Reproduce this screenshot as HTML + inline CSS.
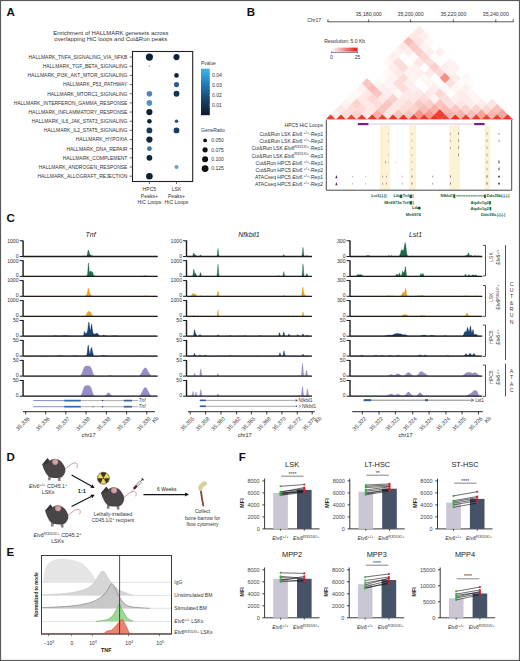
<!DOCTYPE html>
<html><head><meta charset="utf-8"><style>
html,body{margin:0;padding:0;background:#fff;}
svg{display:block;font-family:"Liberation Sans", sans-serif;}
</style></head><body>
<svg width="520" height="661" viewBox="0 0 520 661" font-family='"Liberation Sans", sans-serif'>
<rect x="0" y="0" width="520" height="661" fill="#fff"/>
<text x="6.60" y="16.00" font-size="11.5" fill="#111" font-weight="bold">A</text>
<text x="246.80" y="16.20" font-size="11.5" fill="#111" font-weight="bold">B</text>
<text x="6.40" y="222.00" font-size="11.5" fill="#111" font-weight="bold">C</text>
<text x="6.60" y="461.40" font-size="11.5" fill="#111" font-weight="bold">D</text>
<text x="6.60" y="556.20" font-size="11.5" fill="#111" font-weight="bold">E</text>
<text x="238.80" y="461.40" font-size="11.5" fill="#111" font-weight="bold">F</text>
<text x="110.80" y="34.60" font-size="5.95" text-anchor="middle" fill="#333">Enrichment of HALLMARK genesets across</text>
<text x="110.80" y="41.40" font-size="5.95" text-anchor="middle" fill="#333">overlapping HiC loops and Cut&amp;Run peaks</text>
<text x="127.40" y="58.90" font-size="4.98" text-anchor="end" fill="#333">HALLMARK_TNFA_SIGNALING_VIA_NFKB</text>
<line x1="129.60" y1="57.10" x2="132.50" y2="57.10" stroke="#333" stroke-width="0.7" />
<text x="127.40" y="68.06" font-size="4.98" text-anchor="end" fill="#333">HALLMARK_TGF_BETA_SIGNALING</text>
<line x1="129.60" y1="66.26" x2="132.50" y2="66.26" stroke="#333" stroke-width="0.7" />
<text x="127.40" y="77.22" font-size="4.98" text-anchor="end" fill="#333">HALLMARK_PI3K_AKT_MTOR_SIGNALING</text>
<line x1="129.60" y1="75.42" x2="132.50" y2="75.42" stroke="#333" stroke-width="0.7" />
<text x="127.40" y="86.38" font-size="4.98" text-anchor="end" fill="#333">HALLMARK_P53_PATHWAY</text>
<line x1="129.60" y1="84.58" x2="132.50" y2="84.58" stroke="#333" stroke-width="0.7" />
<text x="127.40" y="95.54" font-size="4.98" text-anchor="end" fill="#333">HALLMARK_MTORC1_SIGNALING</text>
<line x1="129.60" y1="93.74" x2="132.50" y2="93.74" stroke="#333" stroke-width="0.7" />
<text x="127.40" y="104.70" font-size="4.98" text-anchor="end" fill="#333">HALLMARK_INTERFERON_GAMMA_RESPONSE</text>
<line x1="129.60" y1="102.90" x2="132.50" y2="102.90" stroke="#333" stroke-width="0.7" />
<text x="127.40" y="113.86" font-size="4.98" text-anchor="end" fill="#333">HALLMARK_INFLAMMATORY_RESPONSE</text>
<line x1="129.60" y1="112.06" x2="132.50" y2="112.06" stroke="#333" stroke-width="0.7" />
<text x="127.40" y="123.02" font-size="4.98" text-anchor="end" fill="#333">HALLMARK_IL6_JAK_STAT3_SIGNALING</text>
<line x1="129.60" y1="121.22" x2="132.50" y2="121.22" stroke="#333" stroke-width="0.7" />
<text x="127.40" y="132.18" font-size="4.98" text-anchor="end" fill="#333">HALLMARK_IL2_STAT5_SIGNALING</text>
<line x1="129.60" y1="130.38" x2="132.50" y2="130.38" stroke="#333" stroke-width="0.7" />
<text x="127.40" y="141.34" font-size="4.98" text-anchor="end" fill="#333">HALLMARK_HYPOXIA</text>
<line x1="129.60" y1="139.54" x2="132.50" y2="139.54" stroke="#333" stroke-width="0.7" />
<text x="127.40" y="150.50" font-size="4.98" text-anchor="end" fill="#333">HALLMARK_DNA_REPAIR</text>
<line x1="129.60" y1="148.70" x2="132.50" y2="148.70" stroke="#333" stroke-width="0.7" />
<text x="127.40" y="159.66" font-size="4.98" text-anchor="end" fill="#333">HALLMARK_COMPLEMENT</text>
<line x1="129.60" y1="157.86" x2="132.50" y2="157.86" stroke="#333" stroke-width="0.7" />
<text x="127.40" y="168.82" font-size="4.98" text-anchor="end" fill="#333">HALLMARK_ANDROGEN_RESPONSE</text>
<line x1="129.60" y1="167.02" x2="132.50" y2="167.02" stroke="#333" stroke-width="0.7" />
<text x="127.40" y="177.98" font-size="4.98" text-anchor="end" fill="#333">HALLMARK_ALLOGRAFT_REJECTION</text>
<line x1="129.60" y1="176.18" x2="132.50" y2="176.18" stroke="#333" stroke-width="0.7" />
<rect x="132.50" y="51.50" width="60.20" height="130.00" fill="none" stroke="#222" stroke-width="1.1" />
<line x1="149.40" y1="181.50" x2="149.40" y2="184.10" stroke="#333" stroke-width="0.7" />
<line x1="176.50" y1="181.50" x2="176.50" y2="184.10" stroke="#333" stroke-width="0.7" />
<text x="149.40" y="191.40" font-size="5.1" text-anchor="middle" fill="#333">HPC5</text>
<text x="149.40" y="197.90" font-size="5.1" text-anchor="middle" fill="#333">Peaks+</text>
<text x="149.40" y="204.40" font-size="5.1" text-anchor="middle" fill="#333">HiC Loops</text>
<text x="176.50" y="191.40" font-size="5.1" text-anchor="middle" fill="#333">LSK</text>
<text x="176.50" y="197.90" font-size="5.1" text-anchor="middle" fill="#333">Peaks+</text>
<text x="176.50" y="204.40" font-size="5.1" text-anchor="middle" fill="#333">HiC Loops</text>
<circle cx="149.40" cy="57.10" r="3.60" fill="#0e2236" />
<circle cx="176.50" cy="57.10" r="3.10" fill="#10263c" />
<circle cx="149.40" cy="66.26" r="0.80" fill="#8aa6bd" />
<circle cx="176.50" cy="75.42" r="2.30" fill="#0f2439" />
<circle cx="176.50" cy="84.58" r="2.60" fill="#2f5f8a" />
<circle cx="149.40" cy="93.74" r="2.80" fill="#4a86b8" />
<circle cx="176.50" cy="93.74" r="2.90" fill="#123352" />
<circle cx="149.40" cy="102.90" r="2.80" fill="#4e94c4" />
<circle cx="149.40" cy="112.06" r="3.10" fill="#0d1f33" />
<circle cx="149.40" cy="121.22" r="2.30" fill="#0e2135" />
<circle cx="176.50" cy="121.22" r="1.80" fill="#2d5678" />
<circle cx="149.40" cy="130.38" r="2.90" fill="#163a5c" />
<circle cx="176.50" cy="130.38" r="2.90" fill="#173b5e" />
<circle cx="149.40" cy="139.54" r="3.10" fill="#10263d" />
<circle cx="149.40" cy="148.70" r="2.40" fill="#3f77a6" />
<circle cx="149.40" cy="157.86" r="2.90" fill="#0f253c" />
<circle cx="176.50" cy="167.02" r="2.00" fill="#5aa2d2" />
<circle cx="149.40" cy="176.18" r="3.30" fill="#0d2034" />
<text x="201.10" y="65.20" font-size="4.8" fill="#333">Pvalue</text>
<defs><linearGradient id="pg" x1="0" y1="0" x2="0" y2="1"><stop offset="0" stop-color="#3cb8ec"/><stop offset="0.35" stop-color="#1f7ab0"/><stop offset="0.7" stop-color="#163f64"/><stop offset="1" stop-color="#0b1a2b"/></linearGradient></defs>
<rect x="201.00" y="68.60" width="8.80" height="46.60" fill="url(#pg)" stroke="none" stroke-width="1" />
<line x1="209.00" y1="74.90" x2="209.80" y2="74.90" stroke="#fff" stroke-width="0.5" />
<text x="212.00" y="76.70" font-size="5.0" fill="#333">0.04</text>
<line x1="209.00" y1="85.20" x2="209.80" y2="85.20" stroke="#fff" stroke-width="0.5" />
<text x="212.00" y="87.00" font-size="5.0" fill="#333">0.03</text>
<line x1="209.00" y1="95.30" x2="209.80" y2="95.30" stroke="#fff" stroke-width="0.5" />
<text x="212.00" y="97.10" font-size="5.0" fill="#333">0.02</text>
<line x1="209.00" y1="105.30" x2="209.80" y2="105.30" stroke="#fff" stroke-width="0.5" />
<text x="212.00" y="107.10" font-size="5.0" fill="#333">0.01</text>
<text x="201.10" y="132.20" font-size="4.95" fill="#333">GeneRatio</text>
<circle cx="205.10" cy="140.40" r="1.90" fill="#111" />
<text x="211.30" y="142.20" font-size="5.0" fill="#333">0.050</text>
<circle cx="205.10" cy="149.80" r="2.60" fill="#111" />
<text x="211.30" y="151.60" font-size="5.0" fill="#333">0.075</text>
<circle cx="205.10" cy="159.20" r="3.00" fill="#111" />
<text x="211.30" y="161.00" font-size="5.0" fill="#333">0.100</text>
<circle cx="205.10" cy="168.60" r="3.40" fill="#111" />
<text x="211.30" y="170.40" font-size="5.0" fill="#333">0.125</text>
<text x="307.30" y="21.90" font-size="5.1" fill="#333">Chr17</text>
<line x1="327.90" y1="21.80" x2="513.20" y2="21.80" stroke="#333" stroke-width="0.8" />
<line x1="327.90" y1="19.20" x2="327.90" y2="22.20" stroke="#333" stroke-width="0.8" />
<line x1="513.20" y1="19.20" x2="513.20" y2="22.20" stroke="#333" stroke-width="0.8" />
<line x1="368.70" y1="19.40" x2="368.70" y2="22.20" stroke="#333" stroke-width="0.8" />
<text x="368.70" y="16.00" font-size="5.2" text-anchor="middle" fill="#333">35,180,000</text>
<line x1="410.60" y1="19.40" x2="410.60" y2="22.20" stroke="#333" stroke-width="0.8" />
<text x="410.60" y="16.00" font-size="5.2" text-anchor="middle" fill="#333">35,200,000</text>
<line x1="453.40" y1="19.40" x2="453.40" y2="22.20" stroke="#333" stroke-width="0.8" />
<text x="453.40" y="16.00" font-size="5.2" text-anchor="middle" fill="#333">35,220,000</text>
<line x1="495.80" y1="19.40" x2="495.80" y2="22.20" stroke="#333" stroke-width="0.8" />
<text x="495.80" y="16.00" font-size="5.2" text-anchor="middle" fill="#333">35,240,000</text>
<clipPath id="hc"><rect x="326.5" y="20" width="186.5" height="100"/></clipPath><g clip-path="url(#hc)">
<path d="M325.60,119.60L330.80,114.40L336.00,119.60Z" fill="#ef3b29" stroke="#ef3b29" stroke-width="0.35" />
<path d="M330.80,114.40L336.00,109.20L341.20,114.40L336.00,119.60Z" fill="#fdefed" stroke="#fdefed" stroke-width="0.35" />
<path d="M336.00,109.20L341.20,104.00L346.40,109.20L341.20,114.40Z" fill="#fde8e6" stroke="#fde8e6" stroke-width="0.35" />
<path d="M341.20,104.00L346.40,98.80L351.60,104.00L346.40,109.20Z" fill="#fef3f2" stroke="#fef3f2" stroke-width="0.35" />
<path d="M346.40,98.80L351.60,93.60L356.80,98.80L351.60,104.00Z" fill="#fef8f7" stroke="#fef8f7" stroke-width="0.35" />
<path d="M351.60,93.60L356.80,88.40L362.00,93.60L356.80,98.80Z" fill="#fef8f7" stroke="#fef8f7" stroke-width="0.35" />
<path d="M356.80,88.40L362.00,83.20L367.20,88.40L362.00,93.60Z" fill="#fef3f2" stroke="#fef3f2" stroke-width="0.35" />
<path d="M362.00,83.20L367.20,78.00L372.40,83.20L367.20,88.40Z" fill="#fac6c1" stroke="#fac6c1" stroke-width="0.35" />
<path d="M367.20,78.00L372.40,72.80L377.60,78.00L372.40,83.20Z" fill="#ffffff" stroke="#ffffff" stroke-width="0.35" />
<path d="M372.40,72.80L377.60,67.60L382.80,72.80L377.60,78.00Z" fill="#ffffff" stroke="#ffffff" stroke-width="0.35" />
<path d="M377.60,67.60L382.80,62.40L388.00,67.60L382.80,72.80Z" fill="#ffffff" stroke="#ffffff" stroke-width="0.35" />
<path d="M382.80,62.40L388.00,57.20L393.20,62.40L388.00,67.60Z" fill="#fef8f7" stroke="#fef8f7" stroke-width="0.35" />
<path d="M388.00,57.20L393.20,52.00L398.40,57.20L393.20,62.40Z" fill="#fdefed" stroke="#fdefed" stroke-width="0.35" />
<path d="M393.20,52.00L398.40,46.80L403.60,52.00L398.40,57.20Z" fill="#fef3f2" stroke="#fef3f2" stroke-width="0.35" />
<path d="M398.40,46.80L403.60,41.60L408.80,46.80L403.60,52.00Z" fill="#fdeae8" stroke="#fdeae8" stroke-width="0.35" />
<path d="M403.60,41.60L408.80,36.40L414.00,41.60L408.80,46.80Z" fill="#f9bdb7" stroke="#f9bdb7" stroke-width="0.35" />
<path d="M408.80,36.40L414.00,31.20L419.20,36.40L414.00,41.60Z" fill="#fde8e6" stroke="#fde8e6" stroke-width="0.35" />
<path d="M414.00,31.20L419.20,26.00L424.40,31.20L419.20,36.40Z" fill="#fdeae8" stroke="#fdeae8" stroke-width="0.35" />
<path d="M336.00,119.60L341.20,114.40L346.40,119.60Z" fill="#ef3725" stroke="#ef3725" stroke-width="0.35" />
<path d="M341.20,114.40L346.40,109.20L351.60,114.40L346.40,119.60Z" fill="#fcddda" stroke="#fcddda" stroke-width="0.35" />
<path d="M346.40,109.20L351.60,104.00L356.80,109.20L351.60,114.40Z" fill="#fcddda" stroke="#fcddda" stroke-width="0.35" />
<path d="M351.60,104.00L356.80,98.80L362.00,104.00L356.80,109.20Z" fill="#fbd2cd" stroke="#fbd2cd" stroke-width="0.35" />
<path d="M356.80,98.80L362.00,93.60L367.20,98.80L362.00,104.00Z" fill="#fde8e6" stroke="#fde8e6" stroke-width="0.35" />
<path d="M362.00,93.60L367.20,88.40L372.40,93.60L367.20,98.80Z" fill="#fde8e6" stroke="#fde8e6" stroke-width="0.35" />
<path d="M367.20,88.40L372.40,83.20L377.60,88.40L372.40,93.60Z" fill="#f9bbb5" stroke="#f9bbb5" stroke-width="0.35" />
<path d="M372.40,83.20L377.60,78.00L382.80,83.20L377.60,88.40Z" fill="#fef8f7" stroke="#fef8f7" stroke-width="0.35" />
<path d="M377.60,78.00L382.80,72.80L388.00,78.00L382.80,83.20Z" fill="#fefcfc" stroke="#fefcfc" stroke-width="0.35" />
<path d="M382.80,72.80L388.00,67.60L393.20,72.80L388.00,78.00Z" fill="#fef8f7" stroke="#fef8f7" stroke-width="0.35" />
<path d="M388.00,67.60L393.20,62.40L398.40,67.60L393.20,72.80Z" fill="#fdefed" stroke="#fdefed" stroke-width="0.35" />
<path d="M393.20,62.40L398.40,57.20L403.60,62.40L398.40,67.60Z" fill="#fcddda" stroke="#fcddda" stroke-width="0.35" />
<path d="M403.60,52.00L408.80,46.80L414.00,52.00L408.80,57.20Z" fill="#fdf0ef" stroke="#fdf0ef" stroke-width="0.35" />
<path d="M408.80,46.80L414.00,41.60L419.20,46.80L414.00,52.00Z" fill="#facbc6" stroke="#facbc6" stroke-width="0.35" />
<path d="M414.00,41.60L419.20,36.40L424.40,41.60L419.20,46.80Z" fill="#fde6e4" stroke="#fde6e4" stroke-width="0.35" />
<path d="M419.20,36.40L424.40,31.20L429.60,36.40L424.40,41.60Z" fill="#fdefed" stroke="#fdefed" stroke-width="0.35" />
<path d="M346.40,119.60L351.60,114.40L356.80,119.60Z" fill="#f04331" stroke="#f04331" stroke-width="0.35" />
<path d="M351.60,114.40L356.80,109.20L362.00,114.40L356.80,119.60Z" fill="#fbd2cd" stroke="#fbd2cd" stroke-width="0.35" />
<path d="M356.80,109.20L362.00,104.00L367.20,109.20L362.00,114.40Z" fill="#fcddda" stroke="#fcddda" stroke-width="0.35" />
<path d="M362.00,104.00L367.20,98.80L372.40,104.00L367.20,109.20Z" fill="#fde8e6" stroke="#fde8e6" stroke-width="0.35" />
<path d="M367.20,98.80L372.40,93.60L377.60,98.80L372.40,104.00Z" fill="#fbd8d5" stroke="#fbd8d5" stroke-width="0.35" />
<path d="M372.40,93.60L377.60,88.40L382.80,93.60L377.60,98.80Z" fill="#fac6c1" stroke="#fac6c1" stroke-width="0.35" />
<path d="M377.60,88.40L382.80,83.20L388.00,88.40L382.80,93.60Z" fill="#fdefed" stroke="#fdefed" stroke-width="0.35" />
<path d="M382.80,83.20L388.00,78.00L393.20,83.20L388.00,88.40Z" fill="#fef3f2" stroke="#fef3f2" stroke-width="0.35" />
<path d="M388.00,78.00L393.20,72.80L398.40,78.00L393.20,83.20Z" fill="#fef3f2" stroke="#fef3f2" stroke-width="0.35" />
<path d="M393.20,72.80L398.40,67.60L403.60,72.80L398.40,78.00Z" fill="#fde8e6" stroke="#fde8e6" stroke-width="0.35" />
<path d="M398.40,67.60L403.60,62.40L408.80,67.60L403.60,72.80Z" fill="#fcddda" stroke="#fcddda" stroke-width="0.35" />
<path d="M403.60,62.40L408.80,57.20L414.00,62.40L408.80,67.60Z" fill="#ffffff" stroke="#ffffff" stroke-width="0.35" />
<path d="M408.80,57.20L414.00,52.00L419.20,57.20L414.00,62.40Z" fill="#fefbfa" stroke="#fefbfa" stroke-width="0.35" />
<path d="M414.00,52.00L419.20,46.80L424.40,52.00L419.20,57.20Z" fill="#fbcfcb" stroke="#fbcfcb" stroke-width="0.35" />
<path d="M419.20,46.80L424.40,41.60L429.60,46.80L424.40,52.00Z" fill="#fef3f2" stroke="#fef3f2" stroke-width="0.35" />
<path d="M424.40,41.60L429.60,36.40L434.80,41.60L429.60,46.80Z" fill="#fefaf9" stroke="#fefaf9" stroke-width="0.35" />
<path d="M356.80,119.60L362.00,114.40L367.20,119.60Z" fill="#ef3725" stroke="#ef3725" stroke-width="0.35" />
<path d="M362.00,114.40L367.20,109.20L372.40,114.40L367.20,119.60Z" fill="#fde8e6" stroke="#fde8e6" stroke-width="0.35" />
<path d="M367.20,109.20L372.40,104.00L377.60,109.20L372.40,114.40Z" fill="#fde8e6" stroke="#fde8e6" stroke-width="0.35" />
<path d="M372.40,104.00L377.60,98.80L382.80,104.00L377.60,109.20Z" fill="#fcddda" stroke="#fcddda" stroke-width="0.35" />
<path d="M377.60,98.80L382.80,93.60L388.00,98.80L382.80,104.00Z" fill="#fde8e6" stroke="#fde8e6" stroke-width="0.35" />
<path d="M382.80,93.60L388.00,88.40L393.20,93.60L388.00,98.80Z" fill="#fdefed" stroke="#fdefed" stroke-width="0.35" />
<path d="M388.00,88.40L393.20,83.20L398.40,88.40L393.20,93.60Z" fill="#fef3f2" stroke="#fef3f2" stroke-width="0.35" />
<path d="M393.20,83.20L398.40,78.00L403.60,83.20L398.40,88.40Z" fill="#fcddda" stroke="#fcddda" stroke-width="0.35" />
<path d="M398.40,78.00L403.60,72.80L408.80,78.00L403.60,83.20Z" fill="#fcddda" stroke="#fcddda" stroke-width="0.35" />
<path d="M403.60,72.80L408.80,67.60L414.00,72.80L408.80,78.00Z" fill="#fef3f2" stroke="#fef3f2" stroke-width="0.35" />
<path d="M408.80,67.60L414.00,62.40L419.20,67.60L414.00,72.80Z" fill="#fef3f2" stroke="#fef3f2" stroke-width="0.35" />
<path d="M414.00,62.40L419.20,57.20L424.40,62.40L419.20,67.60Z" fill="#fde6e4" stroke="#fde6e4" stroke-width="0.35" />
<path d="M419.20,57.20L424.40,52.00L429.60,57.20L424.40,62.40Z" fill="#fbd4d0" stroke="#fbd4d0" stroke-width="0.35" />
<path d="M424.40,52.00L429.60,46.80L434.80,52.00L429.60,57.20Z" fill="#fdf0ef" stroke="#fdf0ef" stroke-width="0.35" />
<path d="M367.20,119.60L372.40,114.40L377.60,119.60Z" fill="#ee3523" stroke="#ee3523" stroke-width="0.35" />
<path d="M372.40,114.40L377.60,109.20L382.80,114.40L377.60,119.60Z" fill="#f8b0a9" stroke="#f8b0a9" stroke-width="0.35" />
<path d="M377.60,109.20L382.80,104.00L388.00,109.20L382.80,114.40Z" fill="#fac6c1" stroke="#fac6c1" stroke-width="0.35" />
<path d="M382.80,104.00L388.00,98.80L393.20,104.00L388.00,109.20Z" fill="#fac6c1" stroke="#fac6c1" stroke-width="0.35" />
<path d="M388.00,98.80L393.20,93.60L398.40,98.80L393.20,104.00Z" fill="#fbd2cd" stroke="#fbd2cd" stroke-width="0.35" />
<path d="M393.20,93.60L398.40,88.40L403.60,93.60L398.40,98.80Z" fill="#fef8f7" stroke="#fef8f7" stroke-width="0.35" />
<path d="M398.40,88.40L403.60,83.20L408.80,88.40L403.60,93.60Z" fill="#fcddda" stroke="#fcddda" stroke-width="0.35" />
<path d="M403.60,83.20L408.80,78.00L414.00,83.20L408.80,88.40Z" fill="#fdefed" stroke="#fdefed" stroke-width="0.35" />
<path d="M408.80,78.00L414.00,72.80L419.20,78.00L414.00,83.20Z" fill="#fef3f2" stroke="#fef3f2" stroke-width="0.35" />
<path d="M414.00,72.80L419.20,67.60L424.40,72.80L419.20,78.00Z" fill="#fdefee" stroke="#fdefee" stroke-width="0.35" />
<path d="M424.40,62.40L429.60,57.20L434.80,62.40L429.60,67.60Z" fill="#fcddda" stroke="#fcddda" stroke-width="0.35" />
<path d="M429.60,57.20L434.80,52.00L440.00,57.20L434.80,62.40Z" fill="#fefbfb" stroke="#fefbfb" stroke-width="0.35" />
<path d="M434.80,52.00L440.00,46.80L445.20,52.00L440.00,57.20Z" fill="#fdf1f0" stroke="#fdf1f0" stroke-width="0.35" />
<path d="M377.60,119.60L382.80,114.40L388.00,119.60Z" fill="#ef3f2d" stroke="#ef3f2d" stroke-width="0.35" />
<path d="M382.80,114.40L388.00,109.20L393.20,114.40L388.00,119.60Z" fill="#fde8e6" stroke="#fde8e6" stroke-width="0.35" />
<path d="M388.00,109.20L393.20,104.00L398.40,109.20L393.20,114.40Z" fill="#fde8e6" stroke="#fde8e6" stroke-width="0.35" />
<path d="M393.20,104.00L398.40,98.80L403.60,104.00L398.40,109.20Z" fill="#fde8e6" stroke="#fde8e6" stroke-width="0.35" />
<path d="M398.40,98.80L403.60,93.60L408.80,98.80L403.60,104.00Z" fill="#fde8e6" stroke="#fde8e6" stroke-width="0.35" />
<path d="M403.60,93.60L408.80,88.40L414.00,93.60L408.80,98.80Z" fill="#fde8e6" stroke="#fde8e6" stroke-width="0.35" />
<path d="M408.80,88.40L414.00,83.20L419.20,88.40L414.00,93.60Z" fill="#fdefed" stroke="#fdefed" stroke-width="0.35" />
<path d="M414.00,83.20L419.20,78.00L424.40,83.20L419.20,88.40Z" fill="#ffffff" stroke="#ffffff" stroke-width="0.35" />
<path d="M419.20,78.00L424.40,72.80L429.60,78.00L424.40,83.20Z" fill="#fef7f7" stroke="#fef7f7" stroke-width="0.35" />
<path d="M424.40,72.80L429.60,67.60L434.80,72.80L429.60,78.00Z" fill="#fdeceb" stroke="#fdeceb" stroke-width="0.35" />
<path d="M429.60,67.60L434.80,62.40L440.00,67.60L434.80,72.80Z" fill="#fbcfcb" stroke="#fbcfcb" stroke-width="0.35" />
<path d="M440.00,57.20L445.20,52.00L450.40,57.20L445.20,62.40Z" fill="#ffffff" stroke="#ffffff" stroke-width="0.35" />
<path d="M388.00,119.60L393.20,114.40L398.40,119.60Z" fill="#ef3623" stroke="#ef3623" stroke-width="0.35" />
<path d="M393.20,114.40L398.40,109.20L403.60,114.40L398.40,119.60Z" fill="#fac6c1" stroke="#fac6c1" stroke-width="0.35" />
<path d="M398.40,109.20L403.60,104.00L408.80,109.20L403.60,114.40Z" fill="#fcddda" stroke="#fcddda" stroke-width="0.35" />
<path d="M403.60,104.00L408.80,98.80L414.00,104.00L408.80,109.20Z" fill="#fcddda" stroke="#fcddda" stroke-width="0.35" />
<path d="M408.80,98.80L414.00,93.60L419.20,98.80L414.00,104.00Z" fill="#fde8e6" stroke="#fde8e6" stroke-width="0.35" />
<path d="M414.00,93.60L419.20,88.40L424.40,93.60L419.20,98.80Z" fill="#fde7e4" stroke="#fde7e4" stroke-width="0.35" />
<path d="M419.20,88.40L424.40,83.20L429.60,88.40L424.40,93.60Z" fill="#ffffff" stroke="#ffffff" stroke-width="0.35" />
<path d="M424.40,83.20L429.60,78.00L434.80,83.20L429.60,88.40Z" fill="#fef4f2" stroke="#fef4f2" stroke-width="0.35" />
<path d="M434.80,72.80L440.00,67.60L445.20,72.80L440.00,78.00Z" fill="#fbd8d5" stroke="#fbd8d5" stroke-width="0.35" />
<path d="M440.00,67.60L445.20,62.40L450.40,67.60L445.20,72.80Z" fill="#fdeeed" stroke="#fdeeed" stroke-width="0.35" />
<path d="M445.20,62.40L450.40,57.20L455.60,62.40L450.40,67.60Z" fill="#fef3f2" stroke="#fef3f2" stroke-width="0.35" />
<path d="M398.40,119.60L403.60,114.40L408.80,119.60Z" fill="#ee3320" stroke="#ee3320" stroke-width="0.35" />
<path d="M403.60,114.40L408.80,109.20L414.00,114.40L408.80,119.60Z" fill="#fac6c1" stroke="#fac6c1" stroke-width="0.35" />
<path d="M408.80,109.20L414.00,104.00L419.20,109.20L414.00,114.40Z" fill="#fbd2cd" stroke="#fbd2cd" stroke-width="0.35" />
<path d="M414.00,104.00L419.20,98.80L424.40,104.00L419.20,109.20Z" fill="#fac8c3" stroke="#fac8c3" stroke-width="0.35" />
<path d="M419.20,98.80L424.40,93.60L429.60,98.80L424.40,104.00Z" fill="#fcddda" stroke="#fcddda" stroke-width="0.35" />
<path d="M424.40,93.60L429.60,88.40L434.80,93.60L429.60,98.80Z" fill="#fde9e7" stroke="#fde9e7" stroke-width="0.35" />
<path d="M429.60,88.40L434.80,83.20L440.00,88.40L434.80,93.60Z" fill="#fdefee" stroke="#fdefee" stroke-width="0.35" />
<path d="M434.80,83.20L440.00,78.00L445.20,83.20L440.00,88.40Z" fill="#fefcfc" stroke="#fefcfc" stroke-width="0.35" />
<path d="M440.00,78.00L445.20,72.80L450.40,78.00L445.20,83.20Z" fill="#f68e84" stroke="#f68e84" stroke-width="0.35" />
<path d="M445.20,72.80L450.40,67.60L455.60,72.80L450.40,78.00Z" fill="#fdf1f0" stroke="#fdf1f0" stroke-width="0.35" />
<path d="M450.40,67.60L455.60,62.40L460.80,67.60L455.60,72.80Z" fill="#fdf2f0" stroke="#fdf2f0" stroke-width="0.35" />
<path d="M408.80,119.60L414.00,114.40L419.20,119.60Z" fill="#ef3c29" stroke="#ef3c29" stroke-width="0.35" />
<path d="M414.00,114.40L419.20,109.20L424.40,114.40L419.20,119.60Z" fill="#f6958b" stroke="#f6958b" stroke-width="0.35" />
<path d="M419.20,109.20L424.40,104.00L429.60,109.20L424.40,114.40Z" fill="#f9bbb5" stroke="#f9bbb5" stroke-width="0.35" />
<path d="M424.40,104.00L429.60,98.80L434.80,104.00L429.60,109.20Z" fill="#fbcdc9" stroke="#fbcdc9" stroke-width="0.35" />
<path d="M429.60,98.80L434.80,93.60L440.00,98.80L434.80,104.00Z" fill="#fef4f3" stroke="#fef4f3" stroke-width="0.35" />
<path d="M434.80,93.60L440.00,88.40L445.20,93.60L440.00,98.80Z" fill="#fbd8d5" stroke="#fbd8d5" stroke-width="0.35" />
<path d="M440.00,88.40L445.20,83.20L450.40,88.40L445.20,93.60Z" fill="#fef7f6" stroke="#fef7f6" stroke-width="0.35" />
<path d="M445.20,83.20L450.40,78.00L455.60,83.20L450.40,88.40Z" fill="#fce1df" stroke="#fce1df" stroke-width="0.35" />
<path d="M450.40,78.00L455.60,72.80L460.80,78.00L455.60,83.20Z" fill="#fdedeb" stroke="#fdedeb" stroke-width="0.35" />
<path d="M455.60,72.80L460.80,67.60L466.00,72.80L460.80,78.00Z" fill="#ffffff" stroke="#ffffff" stroke-width="0.35" />
<path d="M419.20,119.60L424.40,114.40L429.60,119.60Z" fill="#ef3724" stroke="#ef3724" stroke-width="0.35" />
<path d="M424.40,114.40L429.60,109.20L434.80,114.40L429.60,119.60Z" fill="#f69a90" stroke="#f69a90" stroke-width="0.35" />
<path d="M429.60,109.20L434.80,104.00L440.00,109.20L434.80,114.40Z" fill="#f8b0a9" stroke="#f8b0a9" stroke-width="0.35" />
<path d="M434.80,104.00L440.00,98.80L445.20,104.00L440.00,109.20Z" fill="#fac6c1" stroke="#fac6c1" stroke-width="0.35" />
<path d="M440.00,98.80L445.20,93.60L450.40,98.80L445.20,104.00Z" fill="#fcdedb" stroke="#fcdedb" stroke-width="0.35" />
<path d="M450.40,88.40L455.60,83.20L460.80,88.40L455.60,93.60Z" fill="#fef5f4" stroke="#fef5f4" stroke-width="0.35" />
<path d="M455.60,83.20L460.80,78.00L466.00,83.20L460.80,88.40Z" fill="#fefbfb" stroke="#fefbfb" stroke-width="0.35" />
<path d="M460.80,78.00L466.00,72.80L471.20,78.00L466.00,83.20Z" fill="#fef7f6" stroke="#fef7f6" stroke-width="0.35" />
<path d="M429.60,119.60L434.80,114.40L440.00,119.60Z" fill="#ee3320" stroke="#ee3320" stroke-width="0.35" />
<path d="M434.80,114.40L440.00,109.20L445.20,114.40L440.00,119.60Z" fill="#ef402e" stroke="#ef402e" stroke-width="0.35" />
<path d="M440.00,109.20L445.20,104.00L450.40,109.20L445.20,114.40Z" fill="#f9bbb5" stroke="#f9bbb5" stroke-width="0.35" />
<path d="M445.20,104.00L450.40,98.80L455.60,104.00L450.40,109.20Z" fill="#fce1de" stroke="#fce1de" stroke-width="0.35" />
<path d="M450.40,98.80L455.60,93.60L460.80,98.80L455.60,104.00Z" fill="#fdf0ef" stroke="#fdf0ef" stroke-width="0.35" />
<path d="M455.60,93.60L460.80,88.40L466.00,93.60L460.80,98.80Z" fill="#fdedeb" stroke="#fdedeb" stroke-width="0.35" />
<path d="M460.80,88.40L466.00,83.20L471.20,88.40L466.00,93.60Z" fill="#fdf1f0" stroke="#fdf1f0" stroke-width="0.35" />
<path d="M466.00,83.20L471.20,78.00L476.40,83.20L471.20,88.40Z" fill="#fefafa" stroke="#fefafa" stroke-width="0.35" />
<path d="M440.00,119.60L445.20,114.40L450.40,119.60Z" fill="#ef412f" stroke="#ef412f" stroke-width="0.35" />
<path d="M445.20,114.40L450.40,109.20L455.60,114.40L450.40,119.60Z" fill="#f9b4ad" stroke="#f9b4ad" stroke-width="0.35" />
<path d="M450.40,109.20L455.60,104.00L460.80,109.20L455.60,114.40Z" fill="#fac6c1" stroke="#fac6c1" stroke-width="0.35" />
<path d="M455.60,104.00L460.80,98.80L466.00,104.00L460.80,109.20Z" fill="#fce5e3" stroke="#fce5e3" stroke-width="0.35" />
<path d="M460.80,98.80L466.00,93.60L471.20,98.80L466.00,104.00Z" fill="#fdeceb" stroke="#fdeceb" stroke-width="0.35" />
<path d="M466.00,93.60L471.20,88.40L476.40,93.60L471.20,98.80Z" fill="#fef7f6" stroke="#fef7f6" stroke-width="0.35" />
<path d="M471.20,88.40L476.40,83.20L481.60,88.40L476.40,93.60Z" fill="#ffffff" stroke="#ffffff" stroke-width="0.35" />
<path d="M450.40,119.60L455.60,114.40L460.80,119.60Z" fill="#ee311d" stroke="#ee311d" stroke-width="0.35" />
<path d="M455.60,114.40L460.80,109.20L466.00,114.40L460.80,119.60Z" fill="#f9b4ad" stroke="#f9b4ad" stroke-width="0.35" />
<path d="M460.80,109.20L466.00,104.00L471.20,109.20L466.00,114.40Z" fill="#fbd2cd" stroke="#fbd2cd" stroke-width="0.35" />
<path d="M466.00,104.00L471.20,98.80L476.40,104.00L471.20,109.20Z" fill="#fdedec" stroke="#fdedec" stroke-width="0.35" />
<path d="M471.20,98.80L476.40,93.60L481.60,98.80L476.40,104.00Z" fill="#fef5f4" stroke="#fef5f4" stroke-width="0.35" />
<path d="M460.80,119.60L466.00,114.40L471.20,119.60Z" fill="#ef3926" stroke="#ef3926" stroke-width="0.35" />
<path d="M466.00,114.40L471.20,109.20L476.40,114.40L471.20,119.60Z" fill="#f9bfba" stroke="#f9bfba" stroke-width="0.35" />
<path d="M471.20,109.20L476.40,104.00L481.60,109.20L476.40,114.40Z" fill="#fbd2cd" stroke="#fbd2cd" stroke-width="0.35" />
<path d="M476.40,104.00L481.60,98.80L486.80,104.00L481.60,109.20Z" fill="#fdeeec" stroke="#fdeeec" stroke-width="0.35" />
<path d="M471.20,119.60L476.40,114.40L481.60,119.60Z" fill="#ef3b29" stroke="#ef3b29" stroke-width="0.35" />
<path d="M476.40,114.40L481.60,109.20L486.80,114.40L481.60,119.60Z" fill="#f7a59c" stroke="#f7a59c" stroke-width="0.35" />
<path d="M481.60,109.20L486.80,104.00L492.00,109.20L486.80,114.40Z" fill="#fbd8d5" stroke="#fbd8d5" stroke-width="0.35" />
<path d="M486.80,104.00L492.00,98.80L497.20,104.00L492.00,109.20Z" fill="#fce4e2" stroke="#fce4e2" stroke-width="0.35" />
<path d="M481.60,119.60L486.80,114.40L492.00,119.60Z" fill="#ef4230" stroke="#ef4230" stroke-width="0.35" />
<path d="M486.80,114.40L492.00,109.20L497.20,114.40L492.00,119.60Z" fill="#f9b5ae" stroke="#f9b5ae" stroke-width="0.35" />
<path d="M492.00,109.20L497.20,104.00L502.40,109.20L497.20,114.40Z" fill="#f9bfb9" stroke="#f9bfb9" stroke-width="0.35" />
<path d="M492.00,119.60L497.20,114.40L502.40,119.60Z" fill="#ef3b29" stroke="#ef3b29" stroke-width="0.35" />
<path d="M497.20,114.40L502.40,109.20L507.60,114.40L502.40,119.60Z" fill="#f7a59c" stroke="#f7a59c" stroke-width="0.35" />
<path d="M502.40,119.60L507.60,114.40L512.80,119.60Z" fill="#ef3724" stroke="#ef3724" stroke-width="0.35" />
</g>
<rect x="323.50" y="38.00" width="44.00" height="24.00" fill="#fff" stroke="none" stroke-width="1" />
<text x="324.20" y="43.40" font-size="5.0" fill="#333">Resolution: 5.0 Kb</text>
<defs><linearGradient id="hg" x1="0" y1="0" x2="1" y2="0"><stop offset="0" stop-color="#fff"/><stop offset="1" stop-color="#e01818"/></linearGradient></defs>
<rect x="331.50" y="47.60" width="26.00" height="4.00" fill="url(#hg)" stroke="none" stroke-width="1" />
<path d="M331.5,51.6 L331.5,53.2 M331.5,52.4 L357.5,52.4 M357.5,51.6 L357.5,53.2" fill="none" stroke="#333" stroke-width="0.6" />
<text x="331.50" y="58.80" font-size="5.0" text-anchor="middle" fill="#333">0</text>
<text x="357.50" y="58.80" font-size="5.0" text-anchor="middle" fill="#333">25</text>
<rect x="326.30" y="119.60" width="185.40" height="70.60" fill="#fff" stroke="none" stroke-width="1" />
<rect x="379.80" y="125.20" width="10.30" height="64.80" fill="#fcf2d4" stroke="none" stroke-width="1" />
<rect x="409.20" y="125.20" width="6.90" height="64.80" fill="#fcf2d4" stroke="none" stroke-width="1" />
<rect x="449.20" y="125.20" width="10.80" height="64.80" fill="#fcf2d4" stroke="none" stroke-width="1" />
<rect x="484.60" y="125.20" width="5.40" height="64.80" fill="#fcf2d4" stroke="none" stroke-width="1" />
<line x1="368.40" y1="124.00" x2="474.20" y2="124.00" stroke="#d8c8e8" stroke-width="1.0" />
<rect x="357.80" y="123.00" width="10.60" height="2.20" fill="#7a1f8a" stroke="none" stroke-width="1" />
<rect x="474.20" y="123.00" width="10.40" height="2.20" fill="#7a1f8a" stroke="none" stroke-width="1" />
<text x="323.00" y="126.60" font-size="5.05" text-anchor="end" fill="#333">HPC5 HiC Loops</text>
<text x="323.00" y="136.10" font-size="5.05" text-anchor="end" fill="#333">Cut&amp;Run LSK <tspan font-style="italic">Etv6</tspan><tspan font-size="4.0" dy="-2.1"> +/+</tspan><tspan dy="2.1">-Rep1</tspan></text>
<text x="323.00" y="143.30" font-size="5.05" text-anchor="end" fill="#333">Cut&amp;Run LSK <tspan font-style="italic">Etv6</tspan><tspan font-size="4.0" dy="-2.1"> +/+</tspan><tspan dy="2.1">-Rep2</tspan></text>
<text x="323.00" y="150.40" font-size="5.05" text-anchor="end" fill="#333">Cut&amp;Run LSK <tspan font-style="italic">Etv6</tspan><tspan font-size="3.8" dy="-2.1">R355X/+</tspan><tspan dy="2.1">-Rep1</tspan></text>
<text x="323.00" y="157.50" font-size="5.05" text-anchor="end" fill="#333">Cut&amp;Run LSK <tspan font-style="italic">Etv6</tspan><tspan font-size="3.8" dy="-2.1">R355X/+</tspan><tspan dy="2.1">-Rep3</tspan></text>
<text x="323.00" y="164.70" font-size="5.05" text-anchor="end" fill="#333">Cut&amp;Run HPC5 <tspan font-style="italic">Etv6</tspan><tspan font-size="4.0" dy="-2.1"> +/+</tspan><tspan dy="2.1">-Rep1</tspan></text>
<text x="323.00" y="171.80" font-size="5.05" text-anchor="end" fill="#333">Cut&amp;Run HPC5 <tspan font-style="italic">Etv6</tspan><tspan font-size="4.0" dy="-2.1"> +/+</tspan><tspan dy="2.1">-Rep2</tspan></text>
<text x="323.00" y="179.00" font-size="5.05" text-anchor="end" fill="#333">ATACseq HPC5 <tspan font-style="italic">Etv6</tspan><tspan font-size="4.0" dy="-2.1"> +/+</tspan><tspan dy="2.1">-Rep1</tspan></text>
<text x="323.00" y="185.60" font-size="5.05" text-anchor="end" fill="#333">ATACseq HPC5 <tspan font-style="italic">Etv6</tspan><tspan font-size="4.0" dy="-2.1"> +/+</tspan><tspan dy="2.1">-Rep2</tspan></text>
<line x1="388.40" y1="132.90" x2="388.40" y2="134.90" stroke="#b8a8a8" stroke-width="0.5" />
<line x1="388.40" y1="140.00" x2="388.40" y2="142.00" stroke="#b8a8a8" stroke-width="0.5" />
<line x1="388.40" y1="154.20" x2="388.40" y2="156.20" stroke="#b8a8a8" stroke-width="0.5" />
<line x1="388.40" y1="161.30" x2="388.40" y2="163.30" stroke="#b8a8a8" stroke-width="0.5" />
<line x1="411.90" y1="132.70" x2="411.90" y2="134.90" stroke="#9a8a90" stroke-width="0.5" />
<line x1="411.90" y1="139.80" x2="411.90" y2="142.00" stroke="#9a8a90" stroke-width="0.5" />
<line x1="411.90" y1="146.90" x2="411.90" y2="149.10" stroke="#9a8a90" stroke-width="0.5" />
<line x1="411.90" y1="154.00" x2="411.90" y2="156.20" stroke="#9a8a90" stroke-width="0.5" />
<line x1="411.90" y1="161.10" x2="411.90" y2="163.30" stroke="#9a8a90" stroke-width="0.5" />
<line x1="411.90" y1="168.20" x2="411.90" y2="170.40" stroke="#9a8a90" stroke-width="0.5" />
<line x1="385.60" y1="160.90" x2="385.60" y2="163.30" stroke="#8a7a80" stroke-width="0.6" />
<line x1="450.50" y1="132.70" x2="450.50" y2="134.90" stroke="#8a7a80" stroke-width="0.5" />
<line x1="450.50" y1="139.80" x2="450.50" y2="142.00" stroke="#8a7a80" stroke-width="0.5" />
<line x1="450.50" y1="146.90" x2="450.50" y2="149.10" stroke="#8a7a80" stroke-width="0.5" />
<line x1="450.50" y1="175.50" x2="450.50" y2="177.50" stroke="#6a5a6a" stroke-width="0.8" />
<line x1="450.50" y1="182.60" x2="450.50" y2="184.60" stroke="#6a5a6a" stroke-width="0.8" />
<line x1="458.50" y1="132.10" x2="458.50" y2="134.90" stroke="#5a4a5a" stroke-width="0.5" />
<line x1="458.50" y1="139.20" x2="458.50" y2="142.00" stroke="#5a4a5a" stroke-width="0.5" />
<line x1="458.50" y1="146.30" x2="458.50" y2="149.10" stroke="#5a4a5a" stroke-width="0.5" />
<line x1="458.50" y1="153.40" x2="458.50" y2="156.20" stroke="#5a4a5a" stroke-width="0.5" />
<line x1="487.00" y1="132.30" x2="487.00" y2="134.90" stroke="#6a5a60" stroke-width="0.5" />
<line x1="487.00" y1="139.40" x2="487.00" y2="142.00" stroke="#6a5a60" stroke-width="0.5" />
<line x1="487.00" y1="146.50" x2="487.00" y2="149.10" stroke="#6a5a60" stroke-width="0.5" />
<line x1="487.00" y1="153.60" x2="487.00" y2="156.20" stroke="#6a5a60" stroke-width="0.5" />
<line x1="487.00" y1="160.70" x2="487.00" y2="163.30" stroke="#6a5a60" stroke-width="0.5" />
<line x1="487.00" y1="167.80" x2="487.00" y2="170.40" stroke="#6a5a60" stroke-width="0.5" />
<line x1="487.00" y1="175.30" x2="487.00" y2="177.50" stroke="#6a4a6a" stroke-width="0.9" />
<line x1="487.00" y1="182.40" x2="487.00" y2="184.60" stroke="#6a4a6a" stroke-width="0.9" />
<line x1="499.00" y1="132.70" x2="499.00" y2="134.90" stroke="#6a5a6a" stroke-width="0.6" />
<line x1="499.00" y1="139.80" x2="499.00" y2="142.00" stroke="#6a5a6a" stroke-width="0.6" />
<line x1="499.00" y1="160.50" x2="499.00" y2="163.30" stroke="#3a2a40" stroke-width="0.9" />
<line x1="499.00" y1="167.60" x2="499.00" y2="170.40" stroke="#3a2a40" stroke-width="0.9" />
<line x1="499.00" y1="175.70" x2="499.00" y2="177.50" stroke="#3a2a40" stroke-width="1.6" />
<line x1="499.00" y1="182.80" x2="499.00" y2="184.60" stroke="#3a2a40" stroke-width="1.6" />
<line x1="352.60" y1="175.90" x2="352.60" y2="177.50" stroke="#9a8a9a" stroke-width="0.6" />
<line x1="352.60" y1="183.00" x2="352.60" y2="184.60" stroke="#9a8a9a" stroke-width="0.6" />
<line x1="365.70" y1="175.90" x2="365.70" y2="177.50" stroke="#9a8a9a" stroke-width="0.6" />
<line x1="365.70" y1="183.00" x2="365.70" y2="184.60" stroke="#9a8a9a" stroke-width="0.6" />
<line x1="382.60" y1="175.70" x2="382.60" y2="177.50" stroke="#8a7a8a" stroke-width="0.7" />
<line x1="382.60" y1="182.80" x2="382.60" y2="184.60" stroke="#8a7a8a" stroke-width="0.7" />
<line x1="386.50" y1="175.70" x2="386.50" y2="177.50" stroke="#8a7a8a" stroke-width="0.7" />
<line x1="386.50" y1="182.80" x2="386.50" y2="184.60" stroke="#8a7a8a" stroke-width="0.7" />
<line x1="402.20" y1="175.70" x2="402.20" y2="177.50" stroke="#8a7a8a" stroke-width="0.6" />
<line x1="402.20" y1="182.80" x2="402.20" y2="184.60" stroke="#8a7a8a" stroke-width="0.6" />
<line x1="411.90" y1="175.50" x2="411.90" y2="177.50" stroke="#7a6a7a" stroke-width="0.9" />
<line x1="411.90" y1="182.60" x2="411.90" y2="184.60" stroke="#7a6a7a" stroke-width="0.9" />
<line x1="432.70" y1="175.70" x2="432.70" y2="177.50" stroke="#7a6a7a" stroke-width="0.7" />
<line x1="432.70" y1="182.80" x2="432.70" y2="184.60" stroke="#7a6a7a" stroke-width="0.7" />
<line x1="396.40" y1="161.70" x2="396.40" y2="163.30" stroke="#c8c0c8" stroke-width="0.6" />
<path d="M335.3,178.2L336.4,175.0L337.5,178.2Z" fill="#5a1f6a" stroke="none" stroke-width="1" />
<path d="M335.3,185.3L336.4,182.1L337.5,185.3Z" fill="#5a1f6a" stroke="none" stroke-width="1" />
<path d="M326.3,119.8 L326.3,190.2 L511.7,190.2 L511.7,119.8" fill="none" stroke="#333" stroke-width="0.9" />
<text x="371.20" y="197.40" font-size="4.3" fill="#1b5e36" font-weight="bold" letter-spacing="-0.15">Lst1|-|-|(</text>
<text x="393.50" y="197.40" font-size="4.3" fill="#1b5e36" font-weight="bold" letter-spacing="-0.15">Ltb</text>
<rect x="399.80" y="194.60" width="2.40" height="3.40" fill="#1b5e36" stroke="none" stroke-width="1" />
<text x="402.60" y="197.40" font-size="4.3" fill="#1b5e36" font-weight="bold" letter-spacing="-0.15">Tnf</text>
<rect x="409.50" y="194.60" width="2.60" height="3.40" fill="#1b5e36" stroke="none" stroke-width="1" />
<text x="412.50" y="197.40" font-size="4.3" fill="#1b5e36" font-weight="bold" letter-spacing="-0.15">|</text>
<text x="384.20" y="203.90" font-size="4.3" fill="#1b5e36" font-weight="bold" letter-spacing="-0.15">Mir6973a  Tnf</text>
<rect x="409.50" y="201.10" width="2.60" height="3.40" fill="#1b5e36" stroke="none" stroke-width="1" />
<text x="412.50" y="203.90" font-size="4.3" fill="#1b5e36" font-weight="bold" letter-spacing="-0.15">|</text>
<text x="412.00" y="209.40" font-size="4.3" fill="#1b5e36" font-weight="bold" letter-spacing="-0.15">Ltb</text>
<circle cx="419.20" cy="208.10" r="1.60" fill="#1b5e36" />
<text x="405.80" y="215.50" font-size="4.3" fill="#1b5e36" font-weight="bold" letter-spacing="-0.15">Mir6974</text>
<text x="440.60" y="197.40" font-size="4.3" fill="#1b5e36" font-weight="bold" letter-spacing="-0.15">Nfkbil1</text>
<rect x="453.50" y="194.40" width="1.80" height="3.80" fill="#1b5e36" stroke="none" stroke-width="1" />
<text x="456.00" y="197.40" font-size="4.3" fill="#1b5e36" font-weight="bold" letter-spacing="-0.15">&lt;&lt;&lt;&lt;&lt;&lt;&lt;&lt;&lt;&lt;&lt;&lt;</text>
<rect x="484.00" y="194.60" width="1.80" height="3.40" fill="#1b5e36" stroke="none" stroke-width="1" />
<text x="486.60" y="197.40" font-size="4.3" fill="#1b5e36" font-weight="bold" letter-spacing="-0.15">Ddx39b|-|-|-|</text>
<text x="470.50" y="203.90" font-size="4.3" fill="#1b5e36" font-weight="bold" letter-spacing="-0.15">Atp6v1g2-</text>
<rect x="489.20" y="201.10" width="1.60" height="3.40" fill="#1b5e36" stroke="none" stroke-width="1" />
<text x="470.50" y="209.80" font-size="4.3" fill="#1b5e36" font-weight="bold" letter-spacing="-0.15">Atp6v1g2</text>
<rect x="489.60" y="207.00" width="1.60" height="3.40" fill="#1b5e36" stroke="none" stroke-width="1" />
<text x="481.00" y="215.50" font-size="4.3" fill="#1b5e36" font-weight="bold" letter-spacing="-0.15">Ddx39b-|-|-|-|</text>
<path d="M23.90,256.50L23.90,256.50L24.30,256.50L24.70,256.50L25.10,256.50L25.50,256.50L25.90,256.50L26.30,256.50L26.70,256.50L27.10,256.50L27.50,256.50L27.90,256.50L28.30,256.50L28.70,256.50L29.10,256.50L29.50,256.50L29.90,256.50L30.30,256.50L30.70,256.50L31.10,256.50L31.50,256.50L31.90,256.50L32.30,256.50L32.70,256.50L33.10,256.50L33.50,256.50L33.90,256.50L34.30,256.50L34.70,256.50L35.10,256.50L35.50,256.50L35.90,256.50L36.30,256.50L36.70,256.50L37.10,256.50L37.50,256.50L37.90,256.50L38.30,256.50L38.70,256.50L39.10,256.50L39.50,256.50L39.90,256.50L40.30,256.50L40.70,256.50L41.10,256.50L41.50,256.50L41.90,256.50L42.30,256.50L42.70,256.50L43.10,256.50L43.50,256.50L43.90,256.50L44.30,256.50L44.70,256.50L45.10,256.50L45.50,256.50L45.90,256.50L46.30,256.50L46.70,256.50L47.10,256.50L47.50,256.50L47.90,256.50L48.30,256.50L48.70,256.50L49.10,256.50L49.50,256.50L49.90,256.50L50.30,256.50L50.70,256.50L51.10,256.50L51.50,256.50L51.90,256.50L52.30,256.50L52.70,256.50L53.10,256.50L53.50,256.50L53.90,256.50L54.30,256.50L54.70,256.50L55.10,256.50L55.50,256.50L55.90,256.50L56.30,256.50L56.70,256.50L57.10,256.50L57.50,256.50L57.90,256.50L58.30,256.50L58.70,256.50L59.10,256.50L59.50,256.50L59.90,256.50L60.30,256.50L60.70,256.50L61.10,256.50L61.50,256.50L61.90,256.50L62.30,256.50L62.70,256.50L63.10,256.50L63.50,256.50L63.90,256.50L64.30,256.50L64.70,256.50L65.10,256.50L65.50,256.50L65.90,256.50L66.30,256.50L66.70,256.50L67.10,256.50L67.50,256.50L67.90,256.50L68.30,256.50L68.70,256.50L69.10,256.50L69.50,256.50L69.90,256.50L70.30,256.50L70.70,256.50L71.10,256.50L71.50,256.50L71.90,256.50L72.30,256.50L72.70,256.50L73.10,256.50L73.50,256.50L73.90,256.50L74.30,256.50L74.70,256.50L75.10,256.50L75.50,256.50L75.90,256.50L76.30,256.50L76.70,256.50L77.10,256.50L77.50,256.50L77.90,256.50L78.30,256.50L78.70,256.50L79.10,256.50L79.50,256.50L79.90,256.50L80.30,256.50L80.70,256.50L81.10,256.49L81.50,256.47L81.90,256.41L82.30,256.27L82.70,256.08L83.10,255.88L83.50,255.80L83.90,255.88L84.30,256.08L84.70,256.27L85.10,256.40L85.50,256.46L85.90,256.45L86.30,256.34L86.70,255.96L87.10,254.98L87.50,253.22L87.90,251.17L88.30,249.99L88.70,250.40L89.10,251.86L89.50,253.31L89.90,254.28L90.30,254.86L90.70,255.23L91.10,255.41L91.50,255.45L91.90,255.48L92.30,255.66L92.70,255.97L93.10,256.25L93.50,256.41L93.90,256.48L94.30,256.50L94.70,256.50L95.10,256.50L95.50,256.50L95.90,256.50L96.30,256.50L96.70,256.50L97.10,256.50L97.50,256.50L97.90,256.50L98.30,256.50L98.70,256.50L99.10,256.50L99.50,256.50L99.90,256.50L100.30,256.50L100.70,256.50L101.10,256.50L101.50,256.50L101.90,256.50L102.30,256.50L102.70,256.50L103.10,256.50L103.50,256.50L103.90,256.50L104.30,256.50L104.70,256.50L105.10,256.50L105.50,256.50L105.90,256.50L106.30,256.50L106.70,256.50L107.10,256.50L107.50,256.50L107.90,256.50L108.30,256.50L108.70,256.50L109.10,256.50L109.50,256.50L109.90,256.50L110.30,256.50L110.70,256.50L111.10,256.50L111.50,256.50L111.90,256.50L112.30,256.50L112.70,256.50L113.10,256.50L113.50,256.50L113.90,256.50L114.30,256.50L114.70,256.50L115.10,256.50L115.50,256.50L115.90,256.50L116.30,256.50L116.70,256.50L117.10,256.50L117.50,256.50L117.90,256.50L118.30,256.50L118.70,256.50L119.10,256.50L119.50,256.50L119.90,256.50L120.30,256.50L120.70,256.50L121.10,256.50L121.50,256.50L121.90,256.50L122.30,256.50L122.70,256.50L123.10,256.50L123.50,256.50L123.90,256.50L124.30,256.50L124.70,256.50L125.10,256.50L125.50,256.50L125.90,256.50L126.30,256.50L126.70,256.50L127.10,256.50L127.50,256.50L127.90,256.50L128.30,256.50L128.70,256.50L129.10,256.50L129.50,256.50L129.90,256.50L130.30,256.50L130.70,256.50L131.10,256.50L131.50,256.50L131.90,256.50L132.30,256.50L132.70,256.50L133.10,256.50L133.50,256.50L133.90,256.50L134.30,256.50L134.70,256.50L135.10,256.50L135.50,256.50L135.90,256.50L136.30,256.50L136.70,256.50L137.10,256.50L137.50,256.50L137.90,256.50L138.30,256.50L138.70,256.50L139.10,256.50L139.50,256.50L139.90,256.50L140.30,256.50L140.70,256.50L141.10,256.50L141.50,256.50L141.90,256.50L142.30,256.50L142.70,256.50L143.10,256.50L143.50,256.50L143.90,256.50L144.30,256.50L144.70,256.50L145.10,256.50L145.50,256.50L145.90,256.50L146.30,256.50L146.70,256.50L147.10,256.50L147.50,256.50L147.90,256.50L148.30,256.50L148.70,256.50L149.10,256.50L149.50,256.50L149.90,256.50L150.30,256.50L150.70,256.50L151.10,256.50L151.50,256.50L151.90,256.50L152.30,256.50L152.70,256.50L153.10,256.50L153.50,256.50L153.90,256.50L154.30,256.50L154.70,256.50L155.10,256.50L155.50,256.50L155.90,256.50L156.20,256.50Z" fill="#1d6b47" stroke="#1d6b47" stroke-width="0.3" />
<line x1="23.10" y1="240.40" x2="23.10" y2="256.50" stroke="#1a1a1a" stroke-width="1.4" />
<line x1="19.70" y1="240.80" x2="23.10" y2="240.80" stroke="#1a1a1a" stroke-width="1.0" />
<line x1="19.70" y1="256.50" x2="23.10" y2="256.50" stroke="#1a1a1a" stroke-width="1.0" />
<line x1="23.10" y1="256.50" x2="157.70" y2="256.50" stroke="#1a1a1a" stroke-width="1.3" />
<text x="18.60" y="242.65" font-size="5.15" text-anchor="end" fill="#333">1000</text>
<text x="18.60" y="257.50" font-size="5.15" text-anchor="end" fill="#333">0</text>
<path d="M23.90,276.40L23.90,276.40L24.30,276.40L24.70,276.40L25.10,276.40L25.50,276.40L25.90,276.40L26.30,276.40L26.70,276.40L27.10,276.40L27.50,276.40L27.90,276.40L28.30,276.40L28.70,276.40L29.10,276.40L29.50,276.40L29.90,276.40L30.30,276.40L30.70,276.40L31.10,276.40L31.50,276.40L31.90,276.40L32.30,276.40L32.70,276.40L33.10,276.40L33.50,276.40L33.90,276.40L34.30,276.40L34.70,276.40L35.10,276.40L35.50,276.40L35.90,276.40L36.30,276.40L36.70,276.40L37.10,276.40L37.50,276.40L37.90,276.40L38.30,276.40L38.70,276.40L39.10,276.40L39.50,276.40L39.90,276.40L40.30,276.40L40.70,276.40L41.10,276.40L41.50,276.40L41.90,276.40L42.30,276.40L42.70,276.40L43.10,276.40L43.50,276.40L43.90,276.40L44.30,276.40L44.70,276.40L45.10,276.40L45.50,276.40L45.90,276.40L46.30,276.40L46.70,276.40L47.10,276.40L47.50,276.40L47.90,276.40L48.30,276.40L48.70,276.40L49.10,276.40L49.50,276.40L49.90,276.40L50.30,276.40L50.70,276.40L51.10,276.40L51.50,276.40L51.90,276.40L52.30,276.40L52.70,276.40L53.10,276.40L53.50,276.40L53.90,276.40L54.30,276.40L54.70,276.40L55.10,276.40L55.50,276.40L55.90,276.40L56.30,276.40L56.70,276.40L57.10,276.40L57.50,276.40L57.90,276.40L58.30,276.40L58.70,276.40L59.10,276.40L59.50,276.40L59.90,276.40L60.30,276.40L60.70,276.40L61.10,276.40L61.50,276.40L61.90,276.40L62.30,276.40L62.70,276.40L63.10,276.40L63.50,276.40L63.90,276.40L64.30,276.40L64.70,276.40L65.10,276.40L65.50,276.40L65.90,276.40L66.30,276.40L66.70,276.40L67.10,276.40L67.50,276.40L67.90,276.40L68.30,276.40L68.70,276.40L69.10,276.40L69.50,276.40L69.90,276.40L70.30,276.40L70.70,276.40L71.10,276.40L71.50,276.40L71.90,276.40L72.30,276.40L72.70,276.40L73.10,276.40L73.50,276.40L73.90,276.40L74.30,276.40L74.70,276.40L75.10,276.40L75.50,276.40L75.90,276.40L76.30,276.40L76.70,276.40L77.10,276.40L77.50,276.40L77.90,276.40L78.30,276.40L78.70,276.40L79.10,276.40L79.50,276.40L79.90,276.40L80.30,276.40L80.70,276.40L81.10,276.40L81.50,276.40L81.90,276.40L82.30,276.40L82.70,276.40L83.10,276.40L83.50,276.40L83.90,276.40L84.30,276.40L84.70,276.39L85.10,276.35L85.50,276.20L85.90,275.91L86.30,275.64L86.70,275.62L87.10,275.63L87.50,274.24L87.90,269.29L88.30,263.01L88.70,263.01L89.10,269.23L89.50,272.73L89.90,271.78L90.30,271.20L90.70,271.12L91.10,271.00L91.50,271.75L91.90,272.56L92.30,271.85L92.70,272.33L93.10,274.02L93.50,275.34L93.90,275.71L94.30,275.61L94.70,275.64L95.10,275.91L95.50,276.20L95.90,276.35L96.30,276.39L96.70,276.40L97.10,276.40L97.50,276.40L97.90,276.40L98.30,276.40L98.70,276.40L99.10,276.40L99.50,276.40L99.90,276.40L100.30,276.40L100.70,276.40L101.10,276.40L101.50,276.40L101.90,276.40L102.30,276.40L102.70,276.40L103.10,276.40L103.50,276.40L103.90,276.40L104.30,276.40L104.70,276.40L105.10,276.40L105.50,276.40L105.90,276.40L106.30,276.40L106.70,276.40L107.10,276.40L107.50,276.40L107.90,276.40L108.30,276.40L108.70,276.40L109.10,276.40L109.50,276.40L109.90,276.40L110.30,276.40L110.70,276.40L111.10,276.40L111.50,276.40L111.90,276.40L112.30,276.40L112.70,276.40L113.10,276.40L113.50,276.40L113.90,276.40L114.30,276.40L114.70,276.40L115.10,276.40L115.50,276.40L115.90,276.40L116.30,276.40L116.70,276.40L117.10,276.40L117.50,276.40L117.90,276.40L118.30,276.40L118.70,276.40L119.10,276.40L119.50,276.40L119.90,276.40L120.30,276.40L120.70,276.40L121.10,276.40L121.50,276.40L121.90,276.40L122.30,276.40L122.70,276.40L123.10,276.40L123.50,276.40L123.90,276.40L124.30,276.40L124.70,276.40L125.10,276.40L125.50,276.40L125.90,276.40L126.30,276.40L126.70,276.40L127.10,276.40L127.50,276.40L127.90,276.40L128.30,276.40L128.70,276.40L129.10,276.40L129.50,276.40L129.90,276.40L130.30,276.40L130.70,276.40L131.10,276.40L131.50,276.40L131.90,276.40L132.30,276.40L132.70,276.40L133.10,276.40L133.50,276.40L133.90,276.40L134.30,276.40L134.70,276.40L135.10,276.40L135.50,276.40L135.90,276.40L136.30,276.40L136.70,276.40L137.10,276.40L137.50,276.40L137.90,276.40L138.30,276.40L138.70,276.40L139.10,276.40L139.50,276.40L139.90,276.40L140.30,276.40L140.70,276.39L141.10,276.38L141.50,276.36L141.90,276.33L142.30,276.28L142.70,276.21L143.10,276.13L143.50,276.04L143.90,275.94L144.30,275.86L144.70,275.81L145.10,275.80L145.50,275.83L145.90,275.90L146.30,275.99L146.70,276.08L147.10,276.17L147.50,276.25L147.90,276.31L148.30,276.35L148.70,276.37L149.10,276.39L149.50,276.39L149.90,276.40L150.30,276.40L150.70,276.40L151.10,276.40L151.50,276.40L151.90,276.40L152.30,276.40L152.70,276.40L153.10,276.40L153.50,276.40L153.90,276.40L154.30,276.40L154.70,276.40L155.10,276.40L155.50,276.40L155.90,276.40L156.20,276.40Z" fill="#1d6b47" stroke="#1d6b47" stroke-width="0.3" />
<line x1="23.10" y1="260.30" x2="23.10" y2="276.40" stroke="#1a1a1a" stroke-width="1.4" />
<line x1="19.70" y1="260.70" x2="23.10" y2="260.70" stroke="#1a1a1a" stroke-width="1.0" />
<line x1="19.70" y1="276.40" x2="23.10" y2="276.40" stroke="#1a1a1a" stroke-width="1.0" />
<line x1="23.10" y1="276.40" x2="157.70" y2="276.40" stroke="#1a1a1a" stroke-width="1.3" />
<text x="18.60" y="262.55" font-size="5.15" text-anchor="end" fill="#333">1000</text>
<text x="18.60" y="277.40" font-size="5.15" text-anchor="end" fill="#333">0</text>
<path d="M23.90,296.30L23.90,296.30L24.30,296.30L24.70,296.30L25.10,296.30L25.50,296.30L25.90,296.30L26.30,296.30L26.70,296.30L27.10,296.30L27.50,296.30L27.90,296.30L28.30,296.30L28.70,296.30L29.10,296.30L29.50,296.30L29.90,296.30L30.30,296.30L30.70,296.30L31.10,296.30L31.50,296.30L31.90,296.30L32.30,296.30L32.70,296.30L33.10,296.30L33.50,296.30L33.90,296.30L34.30,296.30L34.70,296.30L35.10,296.30L35.50,296.30L35.90,296.30L36.30,296.30L36.70,296.30L37.10,296.30L37.50,296.30L37.90,296.30L38.30,296.30L38.70,296.30L39.10,296.30L39.50,296.30L39.90,296.30L40.30,296.30L40.70,296.30L41.10,296.30L41.50,296.30L41.90,296.30L42.30,296.30L42.70,296.30L43.10,296.30L43.50,296.30L43.90,296.30L44.30,296.30L44.70,296.30L45.10,296.30L45.50,296.30L45.90,296.30L46.30,296.30L46.70,296.30L47.10,296.30L47.50,296.30L47.90,296.30L48.30,296.30L48.70,296.30L49.10,296.30L49.50,296.30L49.90,296.30L50.30,296.30L50.70,296.30L51.10,296.30L51.50,296.30L51.90,296.30L52.30,296.30L52.70,296.30L53.10,296.30L53.50,296.30L53.90,296.30L54.30,296.30L54.70,296.30L55.10,296.30L55.50,296.30L55.90,296.30L56.30,296.30L56.70,296.30L57.10,296.30L57.50,296.30L57.90,296.30L58.30,296.30L58.70,296.30L59.10,296.30L59.50,296.30L59.90,296.30L60.30,296.30L60.70,296.30L61.10,296.30L61.50,296.30L61.90,296.30L62.30,296.30L62.70,296.30L63.10,296.30L63.50,296.30L63.90,296.30L64.30,296.30L64.70,296.30L65.10,296.30L65.50,296.30L65.90,296.30L66.30,296.30L66.70,296.30L67.10,296.30L67.50,296.30L67.90,296.30L68.30,296.30L68.70,296.30L69.10,296.30L69.50,296.30L69.90,296.30L70.30,296.30L70.70,296.30L71.10,296.30L71.50,296.30L71.90,296.30L72.30,296.30L72.70,296.30L73.10,296.30L73.50,296.30L73.90,296.30L74.30,296.30L74.70,296.30L75.10,296.30L75.50,296.30L75.90,296.30L76.30,296.30L76.70,296.30L77.10,296.30L77.50,296.30L77.90,296.30L78.30,296.30L78.70,296.30L79.10,296.30L79.50,296.30L79.90,296.30L80.30,296.30L80.70,296.30L81.10,296.30L81.50,296.30L81.90,296.29L82.30,296.29L82.70,296.28L83.10,296.26L83.50,296.23L83.90,296.19L84.30,296.12L84.70,296.03L85.10,295.90L85.50,295.73L85.90,295.49L86.30,295.10L86.70,294.40L87.10,293.16L87.50,291.33L87.90,289.38L88.30,288.21L88.70,288.51L89.10,290.03L89.50,291.90L89.90,293.37L90.30,294.28L90.70,294.80L91.10,295.14L91.50,295.41L91.90,295.64L92.30,295.82L92.70,295.97L93.10,296.08L93.50,296.16L93.90,296.21L94.30,296.25L94.70,296.27L95.10,296.28L95.50,296.29L95.90,296.30L96.30,296.30L96.70,296.30L97.10,296.30L97.50,296.30L97.90,296.30L98.30,296.30L98.70,296.30L99.10,296.30L99.50,296.30L99.90,296.30L100.30,296.30L100.70,296.30L101.10,296.30L101.50,296.30L101.90,296.30L102.30,296.30L102.70,296.30L103.10,296.30L103.50,296.30L103.90,296.30L104.30,296.30L104.70,296.30L105.10,296.30L105.50,296.30L105.90,296.30L106.30,296.30L106.70,296.30L107.10,296.30L107.50,296.30L107.90,296.30L108.30,296.30L108.70,296.30L109.10,296.30L109.50,296.30L109.90,296.30L110.30,296.30L110.70,296.30L111.10,296.30L111.50,296.30L111.90,296.30L112.30,296.30L112.70,296.30L113.10,296.30L113.50,296.30L113.90,296.30L114.30,296.30L114.70,296.30L115.10,296.30L115.50,296.30L115.90,296.30L116.30,296.30L116.70,296.30L117.10,296.30L117.50,296.30L117.90,296.30L118.30,296.30L118.70,296.30L119.10,296.30L119.50,296.30L119.90,296.30L120.30,296.30L120.70,296.30L121.10,296.30L121.50,296.30L121.90,296.30L122.30,296.30L122.70,296.30L123.10,296.30L123.50,296.30L123.90,296.30L124.30,296.30L124.70,296.30L125.10,296.30L125.50,296.30L125.90,296.30L126.30,296.30L126.70,296.30L127.10,296.30L127.50,296.30L127.90,296.30L128.30,296.30L128.70,296.30L129.10,296.30L129.50,296.30L129.90,296.30L130.30,296.30L130.70,296.30L131.10,296.30L131.50,296.30L131.90,296.30L132.30,296.30L132.70,296.30L133.10,296.30L133.50,296.30L133.90,296.30L134.30,296.30L134.70,296.30L135.10,296.30L135.50,296.30L135.90,296.30L136.30,296.30L136.70,296.30L137.10,296.30L137.50,296.30L137.90,296.30L138.30,296.30L138.70,296.30L139.10,296.30L139.50,296.30L139.90,296.30L140.30,296.29L140.70,296.29L141.10,296.28L141.50,296.26L141.90,296.24L142.30,296.21L142.70,296.17L143.10,296.13L143.50,296.07L143.90,296.01L144.30,295.95L144.70,295.90L145.10,295.85L145.50,295.82L145.90,295.80L146.30,295.81L146.70,295.83L147.10,295.87L147.50,295.92L147.90,295.98L148.30,296.04L148.70,296.10L149.10,296.15L149.50,296.19L149.90,296.23L150.30,296.25L150.70,296.27L151.10,296.28L151.50,296.29L151.90,296.29L152.30,296.30L152.70,296.30L153.10,296.30L153.50,296.30L153.90,296.30L154.30,296.30L154.70,296.30L155.10,296.30L155.50,296.30L155.90,296.30L156.20,296.30Z" fill="#e8a020" stroke="#e8a020" stroke-width="0.3" />
<line x1="23.10" y1="280.20" x2="23.10" y2="296.30" stroke="#1a1a1a" stroke-width="1.4" />
<line x1="19.70" y1="280.60" x2="23.10" y2="280.60" stroke="#1a1a1a" stroke-width="1.0" />
<line x1="19.70" y1="296.30" x2="23.10" y2="296.30" stroke="#1a1a1a" stroke-width="1.0" />
<line x1="23.10" y1="296.30" x2="157.70" y2="296.30" stroke="#1a1a1a" stroke-width="1.3" />
<text x="18.60" y="282.45" font-size="5.15" text-anchor="end" fill="#333">1000</text>
<text x="18.60" y="297.30" font-size="5.15" text-anchor="end" fill="#333">0</text>
<path d="M23.90,316.30L23.90,316.30L24.30,316.30L24.70,316.30L25.10,316.30L25.50,316.30L25.90,316.30L26.30,316.30L26.70,316.30L27.10,316.30L27.50,316.30L27.90,316.30L28.30,316.30L28.70,316.30L29.10,316.30L29.50,316.30L29.90,316.30L30.30,316.30L30.70,316.30L31.10,316.30L31.50,316.30L31.90,316.30L32.30,316.30L32.70,316.30L33.10,316.30L33.50,316.30L33.90,316.30L34.30,316.30L34.70,316.30L35.10,316.30L35.50,316.30L35.90,316.30L36.30,316.30L36.70,316.30L37.10,316.30L37.50,316.30L37.90,316.30L38.30,316.30L38.70,316.30L39.10,316.30L39.50,316.30L39.90,316.30L40.30,316.30L40.70,316.30L41.10,316.30L41.50,316.30L41.90,316.30L42.30,316.30L42.70,316.30L43.10,316.30L43.50,316.30L43.90,316.30L44.30,316.30L44.70,316.30L45.10,316.30L45.50,316.30L45.90,316.30L46.30,316.30L46.70,316.30L47.10,316.30L47.50,316.30L47.90,316.30L48.30,316.30L48.70,316.30L49.10,316.30L49.50,316.30L49.90,316.30L50.30,316.30L50.70,316.30L51.10,316.30L51.50,316.30L51.90,316.30L52.30,316.30L52.70,316.30L53.10,316.30L53.50,316.30L53.90,316.30L54.30,316.30L54.70,316.30L55.10,316.30L55.50,316.30L55.90,316.30L56.30,316.30L56.70,316.30L57.10,316.30L57.50,316.30L57.90,316.30L58.30,316.30L58.70,316.30L59.10,316.30L59.50,316.30L59.90,316.30L60.30,316.30L60.70,316.30L61.10,316.30L61.50,316.30L61.90,316.30L62.30,316.30L62.70,316.30L63.10,316.30L63.50,316.30L63.90,316.30L64.30,316.30L64.70,316.30L65.10,316.30L65.50,316.30L65.90,316.30L66.30,316.30L66.70,316.30L67.10,316.30L67.50,316.30L67.90,316.30L68.30,316.30L68.70,316.30L69.10,316.30L69.50,316.30L69.90,316.30L70.30,316.30L70.70,316.30L71.10,316.30L71.50,316.30L71.90,316.30L72.30,316.30L72.70,316.30L73.10,316.30L73.50,316.30L73.90,316.30L74.30,316.30L74.70,316.30L75.10,316.30L75.50,316.30L75.90,316.30L76.30,316.30L76.70,316.30L77.10,316.30L77.50,316.30L77.90,316.30L78.30,316.30L78.70,316.30L79.10,316.30L79.50,316.29L79.90,316.29L80.30,316.29L80.70,316.28L81.10,316.27L81.50,316.26L81.90,316.24L82.30,316.22L82.70,316.19L83.10,316.15L83.50,316.11L83.90,316.06L84.30,315.99L84.70,315.89L85.10,315.75L85.50,315.52L85.90,315.16L86.30,314.63L86.70,313.95L87.10,313.17L87.50,312.43L87.90,311.86L88.30,311.55L88.70,311.48L89.10,311.54L89.50,311.63L89.90,311.77L90.30,312.05L90.70,312.56L91.10,313.29L91.50,314.09L91.90,314.80L92.30,315.32L92.70,315.64L93.10,315.84L93.50,315.95L93.90,316.03L94.30,316.09L94.70,316.14L95.10,316.17L95.50,316.20L95.90,316.23L96.30,316.25L96.70,316.26L97.10,316.27L97.50,316.28L97.90,316.29L98.30,316.29L98.70,316.29L99.10,316.30L99.50,316.30L99.90,316.30L100.30,316.30L100.70,316.30L101.10,316.30L101.50,316.30L101.90,316.30L102.30,316.30L102.70,316.30L103.10,316.30L103.50,316.30L103.90,316.30L104.30,316.30L104.70,316.30L105.10,316.30L105.50,316.30L105.90,316.30L106.30,316.30L106.70,316.30L107.10,316.30L107.50,316.30L107.90,316.30L108.30,316.30L108.70,316.30L109.10,316.30L109.50,316.30L109.90,316.30L110.30,316.30L110.70,316.30L111.10,316.30L111.50,316.30L111.90,316.30L112.30,316.30L112.70,316.30L113.10,316.30L113.50,316.30L113.90,316.30L114.30,316.30L114.70,316.30L115.10,316.30L115.50,316.30L115.90,316.30L116.30,316.30L116.70,316.30L117.10,316.30L117.50,316.30L117.90,316.30L118.30,316.30L118.70,316.30L119.10,316.30L119.50,316.30L119.90,316.30L120.30,316.30L120.70,316.30L121.10,316.30L121.50,316.30L121.90,316.30L122.30,316.30L122.70,316.30L123.10,316.30L123.50,316.30L123.90,316.30L124.30,316.30L124.70,316.30L125.10,316.30L125.50,316.30L125.90,316.30L126.30,316.30L126.70,316.30L127.10,316.30L127.50,316.30L127.90,316.30L128.30,316.30L128.70,316.30L129.10,316.30L129.50,316.30L129.90,316.30L130.30,316.30L130.70,316.30L131.10,316.30L131.50,316.30L131.90,316.30L132.30,316.30L132.70,316.30L133.10,316.30L133.50,316.30L133.90,316.30L134.30,316.30L134.70,316.30L135.10,316.30L135.50,316.30L135.90,316.30L136.30,316.30L136.70,316.30L137.10,316.30L137.50,316.30L137.90,316.30L138.30,316.30L138.70,316.30L139.10,316.30L139.50,316.30L139.90,316.30L140.30,316.30L140.70,316.30L141.10,316.30L141.50,316.30L141.90,316.30L142.30,316.30L142.70,316.30L143.10,316.30L143.50,316.30L143.90,316.30L144.30,316.30L144.70,316.30L145.10,316.30L145.50,316.30L145.90,316.30L146.30,316.30L146.70,316.30L147.10,316.30L147.50,316.30L147.90,316.30L148.30,316.30L148.70,316.30L149.10,316.30L149.50,316.30L149.90,316.30L150.30,316.30L150.70,316.30L151.10,316.30L151.50,316.30L151.90,316.30L152.30,316.30L152.70,316.30L153.10,316.30L153.50,316.30L153.90,316.30L154.30,316.30L154.70,316.30L155.10,316.30L155.50,316.30L155.90,316.30L156.20,316.30Z" fill="#e8a020" stroke="#e8a020" stroke-width="0.3" />
<line x1="23.10" y1="300.20" x2="23.10" y2="316.30" stroke="#1a1a1a" stroke-width="1.4" />
<line x1="19.70" y1="300.60" x2="23.10" y2="300.60" stroke="#1a1a1a" stroke-width="1.0" />
<line x1="19.70" y1="316.30" x2="23.10" y2="316.30" stroke="#1a1a1a" stroke-width="1.0" />
<line x1="23.10" y1="316.30" x2="157.70" y2="316.30" stroke="#1a1a1a" stroke-width="1.3" />
<text x="18.60" y="302.45" font-size="5.15" text-anchor="end" fill="#333">1000</text>
<text x="18.60" y="317.30" font-size="5.15" text-anchor="end" fill="#333">0</text>
<path d="M23.90,336.20L23.90,336.16L24.30,336.20L24.70,336.18L25.10,336.20L25.50,336.20L25.90,336.20L26.30,336.20L26.70,336.01L27.10,336.14L27.50,336.12L27.90,336.20L28.30,336.20L28.70,336.20L29.10,336.20L29.50,336.09L29.90,336.20L30.30,336.20L30.70,336.20L31.10,336.20L31.50,335.99L31.90,336.20L32.30,336.20L32.70,336.03L33.10,335.87L33.50,336.20L33.90,336.20L34.30,335.88L34.70,336.20L35.10,336.20L35.50,336.20L35.90,336.20L36.30,336.20L36.70,336.20L37.10,336.20L37.50,336.09L37.90,336.20L38.30,336.18L38.70,336.20L39.10,336.01L39.50,336.20L39.90,335.85L40.30,336.06L40.70,335.98L41.10,336.08L41.50,336.20L41.90,336.00L42.30,336.20L42.70,336.18L43.10,335.93L43.50,336.20L43.90,336.08L44.30,336.04L44.70,335.96L45.10,336.20L45.50,336.20L45.90,336.20L46.30,336.20L46.70,336.10L47.10,336.20L47.50,336.20L47.90,336.20L48.30,336.20L48.70,336.20L49.10,336.19L49.50,336.12L49.90,336.18L50.30,336.03L50.70,336.15L51.10,336.12L51.50,336.03L51.90,336.05L52.30,336.00L52.70,335.91L53.10,335.88L53.50,335.82L53.90,335.75L54.30,335.67L54.70,335.70L55.10,335.68L55.50,335.71L55.90,335.39L56.30,335.60L56.70,335.84L57.10,335.89L57.50,335.94L57.90,335.99L58.30,335.88L58.70,335.90L59.10,335.74L59.50,336.05L59.90,336.03L60.30,335.92L60.70,335.90L61.10,335.63L61.50,335.88L61.90,335.85L62.30,335.80L62.70,335.75L63.10,335.71L63.50,335.67L63.90,335.64L64.30,335.62L64.70,335.60L65.10,335.60L65.50,335.53L65.90,335.63L66.30,335.65L66.70,335.69L67.10,335.50L67.50,335.78L67.90,335.82L68.30,335.87L68.70,335.92L69.10,335.96L69.50,336.01L69.90,335.72L70.30,336.07L70.70,335.76L71.10,336.12L71.50,336.14L71.90,335.84L72.30,335.83L72.70,336.18L73.10,336.13L73.50,336.19L73.90,336.19L74.30,336.20L74.70,336.20L75.10,336.20L75.50,336.20L75.90,335.89L76.30,335.92L76.70,336.20L77.10,336.20L77.50,336.20L77.90,336.20L78.30,335.96L78.70,335.89L79.10,336.20L79.50,336.20L79.90,336.20L80.30,336.19L80.70,336.20L81.10,336.20L81.50,336.20L81.90,336.19L82.30,336.06L82.70,336.16L83.10,336.03L83.50,335.17L83.90,333.87L84.30,331.63L84.70,331.39L85.10,332.62L85.50,333.40L85.90,333.46L86.30,333.16L86.70,332.81L87.10,332.31L87.50,330.91L87.90,328.09L88.30,324.39L88.70,321.96L89.10,322.62L89.50,325.42L89.90,328.79L90.30,330.27L90.70,329.18L91.10,326.25L91.50,323.74L91.90,325.07L92.30,328.56L92.70,331.35L93.10,333.01L93.50,333.55L93.90,333.67L94.30,333.90L94.70,333.94L95.10,333.89L95.50,333.76L95.90,333.48L96.30,333.34L96.70,333.18L97.10,333.17L97.50,333.39L97.90,333.81L98.30,334.37L98.70,334.93L99.10,335.09L99.50,335.75L99.90,335.95L100.30,335.75L100.70,336.08L101.10,336.06L101.50,335.99L101.90,335.63L102.30,335.78L102.70,335.65L103.10,335.50L103.50,335.16L103.90,335.09L104.30,335.42L104.70,335.48L105.10,335.59L105.50,335.71L105.90,335.70L106.30,335.95L106.70,335.80L107.10,335.99L107.50,336.12L107.90,336.15L108.30,336.15L108.70,336.15L109.10,336.14L109.50,336.12L109.90,335.90L110.30,336.08L110.70,336.06L111.10,336.03L111.50,336.00L111.90,335.97L112.30,335.71L112.70,335.90L113.10,335.87L113.50,335.85L113.90,335.83L114.30,335.49L114.70,335.80L115.10,335.80L115.50,335.81L115.90,335.82L116.30,335.76L116.70,335.64L117.10,335.89L117.50,335.92L117.90,335.95L118.30,335.98L118.70,336.01L119.10,335.90L119.50,336.01L119.90,336.09L120.30,336.12L120.70,336.13L121.10,336.15L121.50,336.16L121.90,336.17L122.30,336.16L122.70,336.19L123.10,336.19L123.50,336.19L123.90,336.20L124.30,336.16L124.70,336.12L125.10,336.20L125.50,336.20L125.90,336.20L126.30,336.12L126.70,335.87L127.10,335.92L127.50,336.20L127.90,336.20L128.30,336.20L128.70,336.02L129.10,336.17L129.50,336.09L129.90,336.18L130.30,336.20L130.70,335.89L131.10,336.20L131.50,336.20L131.90,336.20L132.30,336.20L132.70,336.20L133.10,336.20L133.50,336.20L133.90,336.20L134.30,336.20L134.70,336.20L135.10,336.20L135.50,335.90L135.90,336.20L136.30,336.14L136.70,336.20L137.10,336.06L137.50,336.20L137.90,336.20L138.30,336.06L138.70,336.20L139.10,335.89L139.50,335.86L139.90,336.15L140.30,336.20L140.70,336.20L141.10,336.01L141.50,336.20L141.90,336.20L142.30,335.91L142.70,336.20L143.10,336.20L143.50,336.20L143.90,336.20L144.30,336.20L144.70,336.20L145.10,336.20L145.50,336.20L145.90,335.98L146.30,336.20L146.70,335.97L147.10,336.20L147.50,336.20L147.90,335.98L148.30,335.90L148.70,336.20L149.10,335.89L149.50,336.20L149.90,335.91L150.30,336.20L150.70,336.20L151.10,336.20L151.50,336.20L151.90,336.20L152.30,336.20L152.70,336.20L153.10,336.20L153.50,336.20L153.90,335.95L154.30,336.20L154.70,336.20L155.10,336.20L155.50,336.13L155.90,335.93L156.20,336.20Z" fill="#1d4476" stroke="#142f55" stroke-width="0.3" />
<line x1="23.10" y1="320.10" x2="23.10" y2="336.20" stroke="#1a1a1a" stroke-width="1.4" />
<line x1="19.70" y1="320.50" x2="23.10" y2="320.50" stroke="#1a1a1a" stroke-width="1.0" />
<line x1="19.70" y1="336.20" x2="23.10" y2="336.20" stroke="#1a1a1a" stroke-width="1.0" />
<line x1="23.10" y1="336.20" x2="157.70" y2="336.20" stroke="#1a1a1a" stroke-width="1.3" />
<text x="18.60" y="322.35" font-size="5.15" text-anchor="end" fill="#333">50</text>
<text x="18.60" y="337.20" font-size="5.15" text-anchor="end" fill="#333">0</text>
<path d="M23.90,356.10L23.90,356.10L24.30,356.10L24.70,356.10L25.10,356.10L25.50,356.10L25.90,356.10L26.30,355.94L26.70,356.10L27.10,356.10L27.50,356.10L27.90,355.94L28.30,355.91L28.70,356.10L29.10,356.02L29.50,355.78L29.90,356.10L30.30,355.82L30.70,355.88L31.10,356.10L31.50,356.10L31.90,356.02L32.30,356.10L32.70,356.10L33.10,355.76L33.50,356.10L33.90,356.10L34.30,355.77L34.70,356.10L35.10,356.10L35.50,356.10L35.90,355.97L36.30,356.05L36.70,355.99L37.10,356.10L37.50,355.86L37.90,355.99L38.30,356.10L38.70,356.10L39.10,355.93L39.50,356.10L39.90,355.76L40.30,355.84L40.70,356.10L41.10,355.82L41.50,356.10L41.90,356.10L42.30,356.08L42.70,355.77L43.10,355.84L43.50,356.10L43.90,356.10L44.30,355.98L44.70,356.10L45.10,356.10L45.50,355.84L45.90,356.10L46.30,356.10L46.70,355.77L47.10,355.98L47.50,356.10L47.90,356.10L48.30,355.78L48.70,356.10L49.10,355.99L49.50,356.07L49.90,355.86L50.30,356.10L50.70,356.08L51.10,356.10L51.50,356.10L51.90,356.10L52.30,355.89L52.70,356.10L53.10,356.10L53.50,356.10L53.90,355.77L54.30,355.92L54.70,356.09L55.10,355.82L55.50,356.06L55.90,356.04L56.30,356.01L56.70,355.82L57.10,355.63L57.50,355.71L57.90,355.81L58.30,355.75L58.70,355.70L59.10,355.65L59.50,355.62L59.90,355.60L60.30,355.61L60.70,355.49L61.10,355.54L61.50,355.72L61.90,355.78L62.30,355.84L62.70,355.90L63.10,355.92L63.50,355.72L63.90,356.03L64.30,356.05L64.70,356.07L65.10,356.08L65.50,356.09L65.90,356.09L66.30,356.10L66.70,356.10L67.10,356.10L67.50,355.93L67.90,356.10L68.30,356.10L68.70,355.77L69.10,356.09L69.50,356.09L69.90,355.89L70.30,355.84L70.70,356.06L71.10,356.04L71.50,356.01L71.90,355.98L72.30,355.71L72.70,355.89L73.10,355.85L73.50,355.80L73.90,355.76L74.30,355.72L74.70,355.70L75.10,355.70L75.50,355.71L75.90,355.74L76.30,355.78L76.70,355.53L77.10,355.87L77.50,355.92L77.90,355.96L78.30,356.00L78.70,356.03L79.10,355.78L79.50,356.07L79.90,356.08L80.30,356.09L80.70,356.09L81.10,356.10L81.50,356.10L81.90,356.10L82.30,356.04L82.70,356.10L83.10,356.10L83.50,355.86L83.90,356.10L84.30,355.93L84.70,356.06L85.10,355.95L85.50,355.95L85.90,355.78L86.30,355.72L86.70,355.03L87.10,353.17L87.50,349.47L87.90,346.06L88.30,344.91L88.70,346.93L89.10,350.60L89.50,352.76L89.90,353.83L90.30,352.95L90.70,349.53L91.10,348.34L91.50,347.69L91.90,347.56L92.30,350.47L92.70,352.31L93.10,353.72L93.50,355.28L93.90,355.88L94.30,356.05L94.70,356.09L95.10,356.10L95.50,356.10L95.90,356.06L96.30,356.10L96.70,356.10L97.10,355.88L97.50,356.10L97.90,356.10L98.30,356.10L98.70,355.99L99.10,356.08L99.50,356.06L99.90,356.03L100.30,355.98L100.70,355.91L101.10,355.49L101.50,355.74L101.90,355.64L102.30,355.22L102.70,355.51L103.10,355.33L103.50,355.31L103.90,355.60L104.30,355.41L104.70,355.78L105.10,355.69L105.50,355.62L105.90,356.01L106.30,355.95L106.70,355.73L107.10,355.87L107.50,356.09L107.90,356.10L108.30,356.10L108.70,356.10L109.10,355.83L109.50,355.91L109.90,356.00L110.30,356.10L110.70,356.10L111.10,356.10L111.50,356.10L111.90,356.10L112.30,356.01L112.70,356.10L113.10,356.10L113.50,356.10L113.90,356.10L114.30,355.83L114.70,356.10L115.10,356.10L115.50,356.10L115.90,356.10L116.30,356.10L116.70,356.10L117.10,356.10L117.50,356.10L117.90,356.10L118.30,356.00L118.70,356.10L119.10,355.81L119.50,356.10L119.90,356.10L120.30,355.83L120.70,356.10L121.10,355.93L121.50,356.10L121.90,356.10L122.30,356.05L122.70,356.10L123.10,356.10L123.50,356.02L123.90,356.10L124.30,356.10L124.70,356.10L125.10,355.85L125.50,356.10L125.90,356.10L126.30,356.10L126.70,355.81L127.10,355.87L127.50,356.10L127.90,356.10L128.30,356.00L128.70,356.10L129.10,355.89L129.50,356.10L129.90,355.88L130.30,356.06L130.70,356.10L131.10,356.08L131.50,356.10L131.90,356.10L132.30,356.10L132.70,355.95L133.10,355.89L133.50,356.10L133.90,356.10L134.30,356.10L134.70,355.86L135.10,355.88L135.50,356.10L135.90,356.10L136.30,356.10L136.70,356.10L137.10,355.91L137.50,355.84L137.90,356.10L138.30,356.02L138.70,356.10L139.10,356.10L139.50,355.85L139.90,356.10L140.30,355.87L140.70,356.06L141.10,356.10L141.50,355.79L141.90,356.10L142.30,355.82L142.70,355.85L143.10,356.05L143.50,356.10L143.90,356.10L144.30,356.06L144.70,356.10L145.10,356.10L145.50,356.10L145.90,355.88L146.30,356.10L146.70,355.98L147.10,356.10L147.50,355.96L147.90,355.81L148.30,356.10L148.70,356.10L149.10,356.10L149.50,356.10L149.90,356.10L150.30,356.10L150.70,356.10L151.10,356.10L151.50,356.10L151.90,356.09L152.30,356.09L152.70,356.10L153.10,356.10L153.50,356.10L153.90,355.94L154.30,356.10L154.70,356.10L155.10,356.10L155.50,356.10L155.90,356.05L156.20,356.10Z" fill="#1d4476" stroke="#142f55" stroke-width="0.3" />
<line x1="23.10" y1="340.00" x2="23.10" y2="356.10" stroke="#1a1a1a" stroke-width="1.4" />
<line x1="19.70" y1="340.40" x2="23.10" y2="340.40" stroke="#1a1a1a" stroke-width="1.0" />
<line x1="19.70" y1="356.10" x2="23.10" y2="356.10" stroke="#1a1a1a" stroke-width="1.0" />
<line x1="23.10" y1="356.10" x2="157.70" y2="356.10" stroke="#1a1a1a" stroke-width="1.3" />
<text x="18.60" y="342.25" font-size="5.15" text-anchor="end" fill="#333">50</text>
<text x="18.60" y="357.10" font-size="5.15" text-anchor="end" fill="#333">0</text>
<path d="M23.90,376.10L23.90,376.10L24.30,376.10L24.70,376.10L25.10,376.10L25.50,376.10L25.90,376.10L26.30,376.10L26.70,376.10L27.10,376.10L27.50,376.10L27.90,376.10L28.30,376.10L28.70,376.10L29.10,376.10L29.50,376.10L29.90,376.10L30.30,376.10L30.70,376.10L31.10,376.10L31.50,376.10L31.90,376.10L32.30,376.10L32.70,376.10L33.10,376.10L33.50,376.10L33.90,376.10L34.30,376.10L34.70,376.10L35.10,376.10L35.50,376.10L35.90,376.10L36.30,376.10L36.70,376.10L37.10,376.10L37.50,376.10L37.90,376.10L38.30,376.10L38.70,376.10L39.10,376.10L39.50,376.10L39.90,376.10L40.30,376.10L40.70,376.10L41.10,376.10L41.50,376.10L41.90,376.10L42.30,376.10L42.70,376.10L43.10,376.10L43.50,376.10L43.90,376.10L44.30,376.10L44.70,376.10L45.10,376.10L45.50,376.10L45.90,376.10L46.30,376.10L46.70,376.10L47.10,376.10L47.50,376.10L47.90,376.10L48.30,376.10L48.70,376.10L49.10,376.10L49.50,376.10L49.90,376.10L50.30,376.10L50.70,376.10L51.10,376.10L51.50,376.10L51.90,376.10L52.30,376.10L52.70,376.10L53.10,376.10L53.50,376.10L53.90,376.10L54.30,376.10L54.70,376.10L55.10,376.10L55.50,376.10L55.90,376.10L56.30,376.10L56.70,376.10L57.10,376.10L57.50,376.10L57.90,376.10L58.30,376.10L58.70,376.10L59.10,376.10L59.50,376.10L59.90,376.10L60.30,376.10L60.70,376.10L61.10,376.10L61.50,376.10L61.90,376.10L62.30,376.10L62.70,376.10L63.10,376.10L63.50,376.10L63.90,376.10L64.30,376.10L64.70,376.10L65.10,376.10L65.50,376.10L65.90,376.10L66.30,376.10L66.70,376.10L67.10,376.10L67.50,376.10L67.90,376.10L68.30,376.10L68.70,376.10L69.10,376.10L69.50,376.10L69.90,376.10L70.30,376.10L70.70,376.10L71.10,376.10L71.50,376.10L71.90,376.10L72.30,376.10L72.70,376.10L73.10,376.10L73.50,376.10L73.90,376.10L74.30,376.10L74.70,376.10L75.10,376.10L75.50,376.10L75.90,376.10L76.30,376.10L76.70,376.10L77.10,376.10L77.50,376.10L77.90,376.10L78.30,376.10L78.70,376.10L79.10,376.09L79.50,376.06L79.90,375.98L80.30,375.82L80.70,375.52L81.10,375.02L81.50,374.31L81.90,373.38L82.30,372.29L82.70,371.13L83.10,369.97L83.50,368.92L83.90,368.03L84.30,367.32L84.70,366.80L85.10,366.44L85.50,366.21L85.90,366.09L86.30,366.03L86.70,366.01L87.10,366.00L87.50,366.00L87.90,366.00L88.30,366.01L88.70,366.03L89.10,366.09L89.50,366.21L89.90,366.44L90.30,366.80L90.70,367.32L91.10,368.03L91.50,368.92L91.90,369.97L92.30,371.13L92.70,372.29L93.10,373.38L93.50,374.31L93.90,375.02L94.30,375.52L94.70,375.82L95.10,375.98L95.50,376.06L95.90,376.09L96.30,376.10L96.70,376.10L97.10,376.10L97.50,376.10L97.90,376.10L98.30,376.10L98.70,376.10L99.10,376.10L99.50,376.10L99.90,376.10L100.30,376.10L100.70,376.10L101.10,376.10L101.50,376.10L101.90,376.10L102.30,376.10L102.70,376.10L103.10,376.10L103.50,376.10L103.90,376.10L104.30,376.10L104.70,376.10L105.10,376.10L105.50,376.09L105.90,376.08L106.30,376.06L106.70,376.03L107.10,375.98L107.50,375.90L107.90,375.80L108.30,375.68L108.70,375.55L109.10,375.43L109.50,375.34L109.90,375.30L110.30,375.32L110.70,375.38L111.10,375.49L111.50,375.61L111.90,375.74L112.30,375.85L112.70,375.94L113.10,376.01L113.50,376.05L113.90,376.07L114.30,376.09L114.70,376.09L115.10,376.10L115.50,376.10L115.90,376.10L116.30,376.10L116.70,376.10L117.10,376.10L117.50,376.10L117.90,376.10L118.30,376.10L118.70,376.10L119.10,376.10L119.50,376.10L119.90,376.10L120.30,376.10L120.70,376.10L121.10,376.10L121.50,376.10L121.90,376.10L122.30,376.10L122.70,376.10L123.10,376.10L123.50,376.10L123.90,376.10L124.30,376.10L124.70,376.10L125.10,376.10L125.50,376.10L125.90,376.10L126.30,376.10L126.70,376.10L127.10,376.10L127.50,376.10L127.90,376.10L128.30,376.10L128.70,376.10L129.10,376.10L129.50,376.10L129.90,376.10L130.30,376.10L130.70,376.10L131.10,376.10L131.50,376.10L131.90,376.10L132.30,376.10L132.70,376.10L133.10,376.10L133.50,376.10L133.90,376.10L134.30,376.10L134.70,376.10L135.10,376.10L135.50,376.10L135.90,376.10L136.30,376.10L136.70,376.09L137.10,376.08L137.50,376.07L137.90,376.03L138.30,375.98L138.70,375.88L139.10,375.73L139.50,375.49L139.90,375.16L140.30,374.72L140.70,374.16L141.10,373.50L141.50,372.75L141.90,371.98L142.30,371.21L142.70,370.50L143.10,369.86L143.50,369.30L143.90,368.82L144.30,368.42L144.70,368.09L145.10,367.87L145.50,367.80L145.90,367.93L146.30,368.26L146.70,368.79L147.10,369.46L147.50,370.20L147.90,370.95L148.30,371.67L148.70,372.36L149.10,373.04L149.50,373.71L149.90,374.34L150.30,374.90L150.70,375.35L151.10,375.67L151.50,375.88L151.90,376.00L152.30,376.06L152.70,376.08L153.10,376.09L153.50,376.10L153.90,376.10L154.30,376.10L154.70,376.10L155.10,376.10L155.50,376.10L155.90,376.10L156.20,376.10Z" fill="#958cc8" stroke="#958cc8" stroke-width="0.3" />
<line x1="23.10" y1="360.00" x2="23.10" y2="376.10" stroke="#1a1a1a" stroke-width="1.4" />
<line x1="19.70" y1="360.40" x2="23.10" y2="360.40" stroke="#1a1a1a" stroke-width="1.0" />
<line x1="19.70" y1="376.10" x2="23.10" y2="376.10" stroke="#1a1a1a" stroke-width="1.0" />
<line x1="23.10" y1="376.10" x2="157.70" y2="376.10" stroke="#1a1a1a" stroke-width="1.3" />
<text x="18.60" y="362.25" font-size="5.15" text-anchor="end" fill="#333">50</text>
<text x="18.60" y="377.10" font-size="5.15" text-anchor="end" fill="#333">0</text>
<path d="M23.90,396.20L23.90,396.20L24.30,396.20L24.70,396.20L25.10,396.20L25.50,396.20L25.90,396.20L26.30,396.20L26.70,396.20L27.10,396.20L27.50,396.20L27.90,396.20L28.30,396.20L28.70,396.20L29.10,396.20L29.50,396.20L29.90,396.20L30.30,396.20L30.70,396.20L31.10,396.20L31.50,396.20L31.90,396.20L32.30,396.20L32.70,396.20L33.10,396.20L33.50,396.20L33.90,396.20L34.30,396.20L34.70,396.20L35.10,396.20L35.50,396.20L35.90,396.20L36.30,396.20L36.70,396.20L37.10,396.20L37.50,396.20L37.90,396.20L38.30,396.20L38.70,396.20L39.10,396.20L39.50,396.20L39.90,396.20L40.30,396.20L40.70,396.20L41.10,396.20L41.50,396.20L41.90,396.20L42.30,396.20L42.70,396.20L43.10,396.20L43.50,396.20L43.90,396.20L44.30,396.20L44.70,396.20L45.10,396.20L45.50,396.20L45.90,396.20L46.30,396.20L46.70,396.20L47.10,396.20L47.50,396.20L47.90,396.20L48.30,396.20L48.70,396.20L49.10,396.20L49.50,396.20L49.90,396.20L50.30,396.20L50.70,396.20L51.10,396.20L51.50,396.20L51.90,396.20L52.30,396.20L52.70,396.20L53.10,396.20L53.50,396.20L53.90,396.20L54.30,396.20L54.70,396.20L55.10,396.20L55.50,396.20L55.90,396.20L56.30,396.20L56.70,396.20L57.10,396.20L57.50,396.20L57.90,396.20L58.30,396.20L58.70,396.20L59.10,396.20L59.50,396.20L59.90,396.20L60.30,396.20L60.70,396.20L61.10,396.20L61.50,396.20L61.90,396.20L62.30,396.20L62.70,396.20L63.10,396.20L63.50,396.20L63.90,396.20L64.30,396.20L64.70,396.20L65.10,396.20L65.50,396.20L65.90,396.20L66.30,396.20L66.70,396.20L67.10,396.20L67.50,396.20L67.90,396.20L68.30,396.20L68.70,396.20L69.10,396.20L69.50,396.20L69.90,396.20L70.30,396.20L70.70,396.20L71.10,396.20L71.50,396.20L71.90,396.20L72.30,396.20L72.70,396.20L73.10,396.20L73.50,396.20L73.90,396.20L74.30,396.20L74.70,396.20L75.10,396.20L75.50,396.20L75.90,396.20L76.30,396.20L76.70,396.20L77.10,396.20L77.50,396.20L77.90,396.20L78.30,396.20L78.70,396.20L79.10,396.19L79.50,396.16L79.90,396.10L80.30,395.94L80.70,395.64L81.10,395.13L81.50,394.38L81.90,393.39L82.30,392.22L82.70,390.96L83.10,389.71L83.50,388.57L83.90,387.61L84.30,386.85L84.70,386.30L85.10,385.93L85.50,385.70L85.90,385.58L86.30,385.52L86.70,385.50L87.10,385.50L87.50,385.50L87.90,385.50L88.30,385.51L88.70,385.54L89.10,385.63L89.50,385.80L89.90,386.09L90.30,386.55L90.70,387.20L91.10,388.07L91.50,389.12L91.90,390.33L92.30,391.60L92.70,392.83L93.10,393.91L93.50,394.79L93.90,395.41L94.30,395.81L94.70,396.03L95.10,396.14L95.50,396.18L95.90,396.19L96.30,396.20L96.70,396.20L97.10,396.20L97.50,396.20L97.90,396.20L98.30,396.20L98.70,396.20L99.10,396.20L99.50,396.20L99.90,396.20L100.30,396.20L100.70,396.20L101.10,396.20L101.50,396.20L101.90,396.20L102.30,396.20L102.70,396.19L103.10,396.19L103.50,396.17L103.90,396.14L104.30,396.09L104.70,395.99L105.10,395.82L105.50,395.58L105.90,395.24L106.30,394.80L106.70,394.29L107.10,393.75L107.50,393.24L107.90,392.84L108.30,392.63L108.70,392.63L109.10,392.84L109.50,393.24L109.90,393.75L110.30,394.29L110.70,394.80L111.10,395.24L111.50,395.58L111.90,395.82L112.30,395.99L112.70,396.09L113.10,396.14L113.50,396.17L113.90,396.19L114.30,396.19L114.70,396.20L115.10,396.20L115.50,396.20L115.90,396.20L116.30,396.20L116.70,396.20L117.10,396.20L117.50,396.20L117.90,396.20L118.30,396.20L118.70,396.20L119.10,396.20L119.50,396.20L119.90,396.20L120.30,396.20L120.70,396.20L121.10,396.20L121.50,396.20L121.90,396.20L122.30,396.20L122.70,396.20L123.10,396.20L123.50,396.20L123.90,396.20L124.30,396.20L124.70,396.20L125.10,396.20L125.50,396.20L125.90,396.20L126.30,396.20L126.70,396.20L127.10,396.20L127.50,396.20L127.90,396.20L128.30,396.20L128.70,396.20L129.10,396.20L129.50,396.20L129.90,396.20L130.30,396.20L130.70,396.20L131.10,396.20L131.50,396.20L131.90,396.20L132.30,396.20L132.70,396.20L133.10,396.20L133.50,396.20L133.90,396.20L134.30,396.20L134.70,396.20L135.10,396.20L135.50,396.20L135.90,396.20L136.30,396.20L136.70,396.20L137.10,396.19L137.50,396.18L137.90,396.16L138.30,396.12L138.70,396.04L139.10,395.92L139.50,395.73L139.90,395.45L140.30,395.05L140.70,394.53L141.10,393.88L141.50,393.11L141.90,392.27L142.30,391.39L142.70,390.53L143.10,389.73L143.50,389.03L143.90,388.43L144.30,387.96L144.70,387.62L145.10,387.42L145.50,387.39L145.90,387.56L146.30,387.94L146.70,388.51L147.10,389.21L147.50,389.98L147.90,390.76L148.30,391.52L148.70,392.26L149.10,392.99L149.50,393.70L149.90,394.37L150.30,394.95L150.70,395.42L151.10,395.75L151.50,395.97L151.90,396.09L152.30,396.15L152.70,396.18L153.10,396.19L153.50,396.20L153.90,396.20L154.30,396.20L154.70,396.20L155.10,396.20L155.50,396.20L155.90,396.20L156.20,396.20Z" fill="#958cc8" stroke="#958cc8" stroke-width="0.3" />
<line x1="23.10" y1="380.10" x2="23.10" y2="396.20" stroke="#1a1a1a" stroke-width="1.4" />
<line x1="19.70" y1="380.50" x2="23.10" y2="380.50" stroke="#1a1a1a" stroke-width="1.0" />
<line x1="19.70" y1="396.20" x2="23.10" y2="396.20" stroke="#1a1a1a" stroke-width="1.0" />
<line x1="23.10" y1="396.20" x2="157.70" y2="396.20" stroke="#1a1a1a" stroke-width="1.3" />
<text x="18.60" y="382.35" font-size="5.15" text-anchor="end" fill="#333">50</text>
<text x="18.60" y="397.20" font-size="5.15" text-anchor="end" fill="#333">0</text>
<path d="M187.30,256.50L187.30,256.50L187.70,256.50L188.10,256.50L188.50,256.50L188.90,256.50L189.30,256.50L189.70,256.50L190.10,256.50L190.50,256.50L190.90,256.50L191.30,256.50L191.70,256.49L192.10,256.44L192.50,256.17L192.90,255.36L193.30,254.02L193.70,253.00L194.10,253.22L194.50,254.22L194.90,254.88L195.30,255.00L195.70,255.13L196.10,255.53L196.50,256.00L196.90,256.31L197.30,256.45L197.70,256.49L198.10,256.50L198.50,256.49L198.90,256.46L199.30,256.30L199.70,255.88L200.10,255.30L200.50,255.00L200.90,255.30L201.30,255.88L201.70,256.30L202.10,256.46L202.50,256.49L202.90,256.50L203.30,256.50L203.70,256.50L204.10,256.50L204.50,256.50L204.90,256.50L205.30,256.50L205.70,256.50L206.10,256.50L206.50,256.50L206.90,256.50L207.30,256.50L207.70,256.50L208.10,256.50L208.50,256.50L208.90,256.50L209.30,256.50L209.70,256.50L210.10,256.50L210.50,256.50L210.90,256.50L211.30,256.50L211.70,256.50L212.10,256.50L212.50,256.50L212.90,256.50L213.30,256.50L213.70,256.50L214.10,256.50L214.50,256.50L214.90,256.50L215.30,256.50L215.70,256.50L216.10,256.50L216.50,256.47L216.90,256.09L217.30,254.05L217.70,249.93L218.10,248.50L218.50,252.08L218.90,255.39L219.30,256.37L219.70,256.49L220.10,256.50L220.50,256.50L220.90,256.50L221.30,256.50L221.70,256.50L222.10,256.50L222.50,256.50L222.90,256.50L223.30,256.50L223.70,256.50L224.10,256.50L224.50,256.50L224.90,256.50L225.30,256.50L225.70,256.50L226.10,256.50L226.50,256.50L226.90,256.50L227.30,256.50L227.70,256.50L228.10,256.50L228.50,256.50L228.90,256.50L229.30,256.50L229.70,256.50L230.10,256.50L230.50,256.50L230.90,256.50L231.30,256.50L231.70,256.50L232.10,256.50L232.50,256.50L232.90,256.50L233.30,256.50L233.70,256.50L234.10,256.50L234.50,256.50L234.90,256.50L235.30,256.50L235.70,256.50L236.10,256.50L236.50,256.50L236.90,256.50L237.30,256.50L237.70,256.50L238.10,256.50L238.50,256.50L238.90,256.50L239.30,256.50L239.70,256.50L240.10,256.50L240.50,256.50L240.90,256.50L241.30,256.50L241.70,256.50L242.10,256.50L242.50,256.50L242.90,256.50L243.30,256.50L243.70,256.50L244.10,256.50L244.50,256.50L244.90,256.50L245.30,256.50L245.70,256.50L246.10,256.50L246.50,256.50L246.90,256.50L247.30,256.50L247.70,256.50L248.10,256.50L248.50,256.50L248.90,256.50L249.30,256.50L249.70,256.50L250.10,256.50L250.50,256.50L250.90,256.50L251.30,256.50L251.70,256.50L252.10,256.50L252.50,256.50L252.90,256.50L253.30,256.50L253.70,256.50L254.10,256.50L254.50,256.50L254.90,256.50L255.30,256.50L255.70,256.50L256.10,256.50L256.50,256.50L256.90,256.50L257.30,256.50L257.70,256.50L258.10,256.50L258.50,256.50L258.90,256.50L259.30,256.50L259.70,256.50L260.10,256.50L260.50,256.50L260.90,256.50L261.30,256.50L261.70,256.50L262.10,256.50L262.50,256.50L262.90,256.50L263.30,256.50L263.70,256.50L264.10,256.50L264.50,256.50L264.90,256.50L265.30,256.50L265.70,256.50L266.10,256.50L266.50,256.50L266.90,256.50L267.30,256.50L267.70,256.50L268.10,256.50L268.50,256.50L268.90,256.50L269.30,256.50L269.70,256.50L270.10,256.50L270.50,256.50L270.90,256.50L271.30,256.50L271.70,256.50L272.10,256.50L272.50,256.50L272.90,256.50L273.30,256.50L273.70,256.50L274.10,256.50L274.50,256.50L274.90,256.50L275.30,256.50L275.70,256.50L276.10,256.50L276.50,256.50L276.90,256.50L277.30,256.50L277.70,256.50L278.10,256.50L278.50,256.50L278.90,256.50L279.30,256.50L279.70,256.50L280.10,256.50L280.50,256.50L280.90,256.50L281.30,256.50L281.70,256.50L282.10,256.50L282.50,256.49L282.90,256.34L283.30,255.58L283.70,254.56L284.10,254.99L284.50,256.07L284.90,256.45L285.30,256.50L285.70,256.50L286.10,256.50L286.50,256.50L286.90,256.50L287.30,256.50L287.70,256.50L288.10,256.50L288.50,256.50L288.90,256.50L289.30,256.50L289.70,256.50L290.10,256.50L290.50,256.50L290.90,256.50L291.30,256.50L291.70,256.50L292.10,256.50L292.50,256.50L292.90,256.50L293.30,256.50L293.70,256.50L294.10,256.50L294.50,256.50L294.90,256.50L295.30,256.50L295.70,256.50L296.10,256.50L296.50,256.50L296.90,256.50L297.30,256.50L297.70,256.50L298.10,256.50L298.50,256.50L298.90,256.50L299.30,256.50L299.70,256.50L300.10,256.50L300.50,256.50L300.90,256.50L301.30,256.49L301.70,256.35L302.10,255.21L302.50,251.38L302.90,247.23L303.30,248.89L303.70,253.67L304.10,256.02L304.50,256.46L304.90,256.50L305.30,256.49L305.70,256.41L306.10,256.12L306.50,255.66L306.90,255.52L307.30,255.89L307.70,256.30L308.10,256.47L308.50,256.50L308.90,256.50L309.30,256.50L309.70,256.50L310.10,256.50L310.50,256.50L310.50,256.50Z" fill="#1d6b47" stroke="#1d6b47" stroke-width="0.3" />
<line x1="186.50" y1="240.40" x2="186.50" y2="256.50" stroke="#1a1a1a" stroke-width="1.4" />
<line x1="183.10" y1="240.80" x2="186.50" y2="240.80" stroke="#1a1a1a" stroke-width="1.0" />
<line x1="183.10" y1="256.50" x2="186.50" y2="256.50" stroke="#1a1a1a" stroke-width="1.0" />
<line x1="186.50" y1="256.50" x2="312.00" y2="256.50" stroke="#1a1a1a" stroke-width="1.3" />
<text x="182.00" y="242.65" font-size="5.15" text-anchor="end" fill="#333">1000</text>
<text x="182.00" y="257.50" font-size="5.15" text-anchor="end" fill="#333">0</text>
<path d="M187.30,276.40L187.30,276.40L187.70,276.40L188.10,276.40L188.50,276.40L188.90,276.40L189.30,276.40L189.70,276.40L190.10,276.40L190.50,276.40L190.90,276.40L191.30,276.40L191.70,276.40L192.10,276.38L192.50,276.14L192.90,274.91L193.30,271.83L193.70,268.94L194.10,269.73L194.50,272.50L194.90,273.66L195.30,273.44L195.70,273.51L196.10,274.32L196.50,275.32L196.90,275.99L197.30,276.29L197.70,276.38L198.10,276.40L198.50,276.40L198.90,276.38L199.30,276.18L199.70,275.29L200.10,273.50L200.50,272.40L200.90,273.50L201.30,275.29L201.70,276.18L202.10,276.38L202.50,276.40L202.90,276.40L203.30,276.40L203.70,276.40L204.10,276.40L204.50,276.40L204.90,276.40L205.30,276.40L205.70,276.40L206.10,276.40L206.50,276.40L206.90,276.40L207.30,276.40L207.70,276.40L208.10,276.40L208.50,276.40L208.90,276.40L209.30,276.40L209.70,276.40L210.10,276.40L210.50,276.40L210.90,276.40L211.30,276.40L211.70,276.40L212.10,276.40L212.50,276.40L212.90,276.40L213.30,276.40L213.70,276.40L214.10,276.40L214.50,276.40L214.90,276.40L215.30,276.40L215.70,276.40L216.10,276.40L216.50,276.35L216.90,275.77L217.30,272.67L217.70,266.39L218.10,264.20L218.50,269.66L218.90,274.71L219.30,276.21L219.70,276.39L220.10,276.40L220.50,276.40L220.90,276.40L221.30,276.40L221.70,276.40L222.10,276.40L222.50,276.40L222.90,276.40L223.30,276.40L223.70,276.40L224.10,276.40L224.50,276.40L224.90,276.40L225.30,276.40L225.70,276.40L226.10,276.40L226.50,276.40L226.90,276.40L227.30,276.40L227.70,276.40L228.10,276.40L228.50,276.40L228.90,276.40L229.30,276.40L229.70,276.40L230.10,276.40L230.50,276.40L230.90,276.40L231.30,276.40L231.70,276.40L232.10,276.40L232.50,276.40L232.90,276.40L233.30,276.40L233.70,276.40L234.10,276.40L234.50,276.40L234.90,276.40L235.30,276.40L235.70,276.40L236.10,276.40L236.50,276.40L236.90,276.40L237.30,276.40L237.70,276.40L238.10,276.40L238.50,276.40L238.90,276.40L239.30,276.40L239.70,276.40L240.10,276.40L240.50,276.40L240.90,276.40L241.30,276.40L241.70,276.40L242.10,276.40L242.50,276.40L242.90,276.40L243.30,276.40L243.70,276.40L244.10,276.40L244.50,276.40L244.90,276.40L245.30,276.40L245.70,276.40L246.10,276.40L246.50,276.40L246.90,276.40L247.30,276.40L247.70,276.40L248.10,276.40L248.50,276.40L248.90,276.40L249.30,276.40L249.70,276.40L250.10,276.40L250.50,276.40L250.90,276.40L251.30,276.40L251.70,276.40L252.10,276.40L252.50,276.40L252.90,276.40L253.30,276.40L253.70,276.40L254.10,276.40L254.50,276.40L254.90,276.40L255.30,276.40L255.70,276.40L256.10,276.40L256.50,276.40L256.90,276.40L257.30,276.40L257.70,276.40L258.10,276.40L258.50,276.40L258.90,276.40L259.30,276.40L259.70,276.40L260.10,276.40L260.50,276.40L260.90,276.40L261.30,276.40L261.70,276.40L262.10,276.40L262.50,276.40L262.90,276.40L263.30,276.40L263.70,276.40L264.10,276.40L264.50,276.40L264.90,276.40L265.30,276.40L265.70,276.40L266.10,276.40L266.50,276.40L266.90,276.40L267.30,276.40L267.70,276.40L268.10,276.40L268.50,276.40L268.90,276.40L269.30,276.40L269.70,276.40L270.10,276.40L270.50,276.40L270.90,276.40L271.30,276.40L271.70,276.40L272.10,276.40L272.50,276.40L272.90,276.40L273.30,276.40L273.70,276.40L274.10,276.40L274.50,276.40L274.90,276.40L275.30,276.40L275.70,276.40L276.10,276.39L276.50,276.37L276.90,276.33L277.30,276.26L277.70,276.14L278.10,276.00L278.50,275.87L278.90,275.80L279.30,275.83L279.70,275.93L280.10,276.07L280.50,276.21L280.90,276.30L281.30,276.36L281.70,276.38L282.10,276.39L282.50,276.37L282.90,276.00L283.30,274.11L283.70,271.55L284.10,272.63L284.50,275.32L284.90,276.29L285.30,276.40L285.70,276.40L286.10,276.40L286.50,276.40L286.90,276.40L287.30,276.40L287.70,276.40L288.10,276.40L288.50,276.40L288.90,276.40L289.30,276.40L289.70,276.40L290.10,276.40L290.50,276.40L290.90,276.40L291.30,276.40L291.70,276.40L292.10,276.40L292.50,276.40L292.90,276.40L293.30,276.40L293.70,276.40L294.10,276.40L294.50,276.40L294.90,276.40L295.30,276.40L295.70,276.40L296.10,276.40L296.50,276.40L296.90,276.40L297.30,276.40L297.70,276.40L298.10,276.40L298.50,276.40L298.90,276.40L299.30,276.40L299.70,276.40L300.10,276.40L300.50,276.40L300.90,276.40L301.30,276.39L301.70,276.20L302.10,274.64L302.50,269.39L302.90,263.72L303.30,265.99L303.70,272.52L304.10,275.74L304.50,276.35L304.90,276.40L305.30,276.37L305.70,276.13L306.10,275.27L306.50,273.89L306.90,273.46L307.30,274.58L307.70,275.81L308.10,276.30L308.50,276.39L308.90,276.40L309.30,276.40L309.70,276.40L310.10,276.40L310.50,276.40L310.50,276.40Z" fill="#1d6b47" stroke="#1d6b47" stroke-width="0.3" />
<line x1="186.50" y1="260.30" x2="186.50" y2="276.40" stroke="#1a1a1a" stroke-width="1.4" />
<line x1="183.10" y1="260.70" x2="186.50" y2="260.70" stroke="#1a1a1a" stroke-width="1.0" />
<line x1="183.10" y1="276.40" x2="186.50" y2="276.40" stroke="#1a1a1a" stroke-width="1.0" />
<line x1="186.50" y1="276.40" x2="312.00" y2="276.40" stroke="#1a1a1a" stroke-width="1.3" />
<text x="182.00" y="262.55" font-size="5.15" text-anchor="end" fill="#333">1000</text>
<text x="182.00" y="277.40" font-size="5.15" text-anchor="end" fill="#333">0</text>
<path d="M187.30,296.30L187.30,296.30L187.70,296.30L188.10,296.30L188.50,296.30L188.90,296.30L189.30,296.30L189.70,296.29L190.10,296.26L190.50,296.18L190.90,295.99L191.30,295.64L191.70,295.10L192.10,294.43L192.50,293.81L192.90,293.44L193.30,293.41L193.70,293.61L194.10,293.82L194.50,293.91L194.90,293.95L195.30,294.11L195.70,294.51L196.10,295.06L196.50,295.59L196.90,295.96L197.30,296.17L197.70,296.26L198.10,296.29L198.50,296.30L198.90,296.28L199.30,296.22L199.70,296.05L200.10,295.82L200.50,295.70L200.90,295.82L201.30,296.05L201.70,296.22L202.10,296.28L202.50,296.30L202.90,296.30L203.30,296.30L203.70,296.30L204.10,296.30L204.50,296.30L204.90,296.30L205.30,296.30L205.70,296.30L206.10,296.30L206.50,296.30L206.90,296.30L207.30,296.30L207.70,296.30L208.10,296.30L208.50,296.30L208.90,296.30L209.30,296.30L209.70,296.30L210.10,296.30L210.50,296.30L210.90,296.30L211.30,296.30L211.70,296.30L212.10,296.30L212.50,296.30L212.90,296.30L213.30,296.30L213.70,296.30L214.10,296.30L214.50,296.30L214.90,296.30L215.30,296.30L215.70,296.30L216.10,296.26L216.50,296.06L216.90,295.28L217.30,293.52L217.70,291.45L218.10,290.88L218.50,292.41L218.90,294.51L219.30,295.77L219.70,296.20L220.10,296.29L220.50,296.30L220.90,296.30L221.30,296.30L221.70,296.30L222.10,296.30L222.50,296.30L222.90,296.30L223.30,296.30L223.70,296.30L224.10,296.30L224.50,296.30L224.90,296.30L225.30,296.30L225.70,296.30L226.10,296.30L226.50,296.30L226.90,296.30L227.30,296.30L227.70,296.30L228.10,296.30L228.50,296.30L228.90,296.30L229.30,296.30L229.70,296.30L230.10,296.30L230.50,296.30L230.90,296.30L231.30,296.30L231.70,296.30L232.10,296.30L232.50,296.30L232.90,296.30L233.30,296.30L233.70,296.30L234.10,296.30L234.50,296.30L234.90,296.30L235.30,296.30L235.70,296.30L236.10,296.30L236.50,296.30L236.90,296.30L237.30,296.30L237.70,296.30L238.10,296.30L238.50,296.30L238.90,296.30L239.30,296.30L239.70,296.30L240.10,296.30L240.50,296.30L240.90,296.30L241.30,296.30L241.70,296.30L242.10,296.30L242.50,296.30L242.90,296.30L243.30,296.30L243.70,296.30L244.10,296.30L244.50,296.30L244.90,296.30L245.30,296.30L245.70,296.30L246.10,296.30L246.50,296.30L246.90,296.30L247.30,296.30L247.70,296.30L248.10,296.30L248.50,296.30L248.90,296.30L249.30,296.30L249.70,296.30L250.10,296.30L250.50,296.30L250.90,296.30L251.30,296.30L251.70,296.30L252.10,296.30L252.50,296.30L252.90,296.30L253.30,296.30L253.70,296.30L254.10,296.30L254.50,296.30L254.90,296.30L255.30,296.30L255.70,296.30L256.10,296.30L256.50,296.30L256.90,296.30L257.30,296.30L257.70,296.30L258.10,296.30L258.50,296.30L258.90,296.30L259.30,296.30L259.70,296.30L260.10,296.30L260.50,296.30L260.90,296.30L261.30,296.30L261.70,296.30L262.10,296.30L262.50,296.30L262.90,296.30L263.30,296.30L263.70,296.30L264.10,296.30L264.50,296.30L264.90,296.30L265.30,296.30L265.70,296.30L266.10,296.30L266.50,296.30L266.90,296.30L267.30,296.30L267.70,296.30L268.10,296.30L268.50,296.30L268.90,296.30L269.30,296.30L269.70,296.30L270.10,296.30L270.50,296.30L270.90,296.30L271.30,296.30L271.70,296.30L272.10,296.30L272.50,296.30L272.90,296.30L273.30,296.30L273.70,296.30L274.10,296.30L274.50,296.30L274.90,296.30L275.30,296.30L275.70,296.30L276.10,296.30L276.50,296.30L276.90,296.30L277.30,296.30L277.70,296.30L278.10,296.30L278.50,296.30L278.90,296.30L279.30,296.30L279.70,296.30L280.10,296.30L280.50,296.30L280.90,296.30L281.30,296.30L281.70,296.30L282.10,296.28L282.50,296.19L282.90,295.91L283.30,295.45L283.70,295.12L284.10,295.24L284.50,295.69L284.90,296.08L285.30,296.25L285.70,296.29L286.10,296.30L286.50,296.30L286.90,296.30L287.30,296.30L287.70,296.30L288.10,296.30L288.50,296.30L288.90,296.30L289.30,296.30L289.70,296.30L290.10,296.30L290.50,296.30L290.90,296.30L291.30,296.30L291.70,296.30L292.10,296.30L292.50,296.30L292.90,296.30L293.30,296.30L293.70,296.30L294.10,296.30L294.50,296.30L294.90,296.30L295.30,296.30L295.70,296.30L296.10,296.30L296.50,296.30L296.90,296.30L297.30,296.30L297.70,296.30L298.10,296.30L298.50,296.30L298.90,296.30L299.30,296.30L299.70,296.30L300.10,296.30L300.50,296.29L300.90,296.24L301.30,295.90L301.70,294.64L302.10,291.78L302.50,288.30L302.90,286.97L303.30,288.82L303.70,291.65L304.10,293.50L304.50,294.43L304.90,295.07L305.30,295.59L305.70,295.96L306.10,296.17L306.50,296.26L306.90,296.29L307.30,296.30L307.70,296.30L308.10,296.30L308.50,296.30L308.90,296.30L309.30,296.30L309.70,296.30L310.10,296.30L310.50,296.30L310.50,296.30Z" fill="#e8a020" stroke="#e8a020" stroke-width="0.3" />
<line x1="186.50" y1="280.20" x2="186.50" y2="296.30" stroke="#1a1a1a" stroke-width="1.4" />
<line x1="183.10" y1="280.60" x2="186.50" y2="280.60" stroke="#1a1a1a" stroke-width="1.0" />
<line x1="183.10" y1="296.30" x2="186.50" y2="296.30" stroke="#1a1a1a" stroke-width="1.0" />
<line x1="186.50" y1="296.30" x2="312.00" y2="296.30" stroke="#1a1a1a" stroke-width="1.3" />
<text x="182.00" y="282.45" font-size="5.15" text-anchor="end" fill="#333">1000</text>
<text x="182.00" y="297.30" font-size="5.15" text-anchor="end" fill="#333">0</text>
<path d="M187.30,316.30L187.30,316.30L187.70,316.30L188.10,316.30L188.50,316.30L188.90,316.30L189.30,316.30L189.70,316.30L190.10,316.30L190.50,316.30L190.90,316.30L191.30,316.30L191.70,316.30L192.10,316.29L192.50,316.26L192.90,316.11L193.30,315.79L193.70,315.42L194.10,315.31L194.50,315.59L194.90,315.98L195.30,316.20L195.70,316.26L196.10,316.18L196.50,315.94L196.90,315.71L197.30,315.80L197.70,316.07L198.10,316.25L198.50,316.29L198.90,316.30L199.30,316.30L199.70,316.30L200.10,316.30L200.50,316.30L200.90,316.30L201.30,316.30L201.70,316.30L202.10,316.30L202.50,316.30L202.90,316.30L203.30,316.30L203.70,316.30L204.10,316.30L204.50,316.30L204.90,316.30L205.30,316.30L205.70,316.30L206.10,316.30L206.50,316.30L206.90,316.30L207.30,316.30L207.70,316.30L208.10,316.30L208.50,316.30L208.90,316.30L209.30,316.30L209.70,316.30L210.10,316.30L210.50,316.30L210.90,316.30L211.30,316.30L211.70,316.30L212.10,316.30L212.50,316.30L212.90,316.30L213.30,316.30L213.70,316.30L214.10,316.30L214.50,316.30L214.90,316.30L215.30,316.30L215.70,316.30L216.10,316.30L216.50,316.27L216.90,315.97L217.30,314.36L217.70,311.10L218.10,309.96L218.50,312.79L218.90,315.42L219.30,316.20L219.70,316.29L220.10,316.30L220.50,316.30L220.90,316.30L221.30,316.30L221.70,316.30L222.10,316.30L222.50,316.30L222.90,316.30L223.30,316.30L223.70,316.30L224.10,316.30L224.50,316.30L224.90,316.30L225.30,316.30L225.70,316.30L226.10,316.30L226.50,316.30L226.90,316.30L227.30,316.30L227.70,316.30L228.10,316.30L228.50,316.30L228.90,316.30L229.30,316.30L229.70,316.30L230.10,316.30L230.50,316.30L230.90,316.30L231.30,316.30L231.70,316.30L232.10,316.30L232.50,316.30L232.90,316.30L233.30,316.30L233.70,316.30L234.10,316.30L234.50,316.30L234.90,316.30L235.30,316.30L235.70,316.30L236.10,316.30L236.50,316.30L236.90,316.30L237.30,316.30L237.70,316.30L238.10,316.30L238.50,316.30L238.90,316.30L239.30,316.30L239.70,316.30L240.10,316.30L240.50,316.30L240.90,316.30L241.30,316.30L241.70,316.30L242.10,316.30L242.50,316.30L242.90,316.30L243.30,316.30L243.70,316.30L244.10,316.30L244.50,316.30L244.90,316.30L245.30,316.30L245.70,316.30L246.10,316.30L246.50,316.30L246.90,316.30L247.30,316.30L247.70,316.30L248.10,316.30L248.50,316.30L248.90,316.30L249.30,316.30L249.70,316.30L250.10,316.30L250.50,316.30L250.90,316.30L251.30,316.30L251.70,316.30L252.10,316.30L252.50,316.30L252.90,316.30L253.30,316.30L253.70,316.30L254.10,316.30L254.50,316.30L254.90,316.30L255.30,316.30L255.70,316.30L256.10,316.30L256.50,316.30L256.90,316.30L257.30,316.30L257.70,316.30L258.10,316.30L258.50,316.30L258.90,316.30L259.30,316.30L259.70,316.30L260.10,316.30L260.50,316.30L260.90,316.30L261.30,316.30L261.70,316.30L262.10,316.30L262.50,316.30L262.90,316.30L263.30,316.30L263.70,316.30L264.10,316.30L264.50,316.30L264.90,316.30L265.30,316.30L265.70,316.30L266.10,316.30L266.50,316.30L266.90,316.30L267.30,316.30L267.70,316.30L268.10,316.30L268.50,316.30L268.90,316.30L269.30,316.30L269.70,316.30L270.10,316.30L270.50,316.30L270.90,316.30L271.30,316.30L271.70,316.30L272.10,316.30L272.50,316.30L272.90,316.30L273.30,316.30L273.70,316.30L274.10,316.30L274.50,316.30L274.90,316.30L275.30,316.30L275.70,316.30L276.10,316.30L276.50,316.30L276.90,316.30L277.30,316.30L277.70,316.30L278.10,316.30L278.50,316.30L278.90,316.30L279.30,316.30L279.70,316.30L280.10,316.30L280.50,316.30L280.90,316.30L281.30,316.30L281.70,316.30L282.10,316.30L282.50,316.30L282.90,316.30L283.30,316.30L283.70,316.30L284.10,316.30L284.50,316.30L284.90,316.30L285.30,316.30L285.70,316.30L286.10,316.30L286.50,316.30L286.90,316.30L287.30,316.30L287.70,316.30L288.10,316.30L288.50,316.30L288.90,316.30L289.30,316.30L289.70,316.30L290.10,316.30L290.50,316.30L290.90,316.30L291.30,316.30L291.70,316.30L292.10,316.30L292.50,316.30L292.90,316.30L293.30,316.30L293.70,316.30L294.10,316.30L294.50,316.30L294.90,316.30L295.30,316.30L295.70,316.30L296.10,316.30L296.50,316.30L296.90,316.30L297.30,316.30L297.70,316.30L298.10,316.30L298.50,316.30L298.90,316.30L299.30,316.30L299.70,316.30L300.10,316.30L300.50,316.30L300.90,316.30L301.30,316.29L301.70,316.15L302.10,315.41L302.50,313.57L302.90,311.89L303.30,312.54L303.70,314.61L304.10,315.90L304.50,316.25L304.90,316.30L305.30,316.30L305.70,316.30L306.10,316.30L306.50,316.30L306.90,316.30L307.30,316.30L307.70,316.30L308.10,316.30L308.50,316.30L308.90,316.30L309.30,316.30L309.70,316.30L310.10,316.30L310.50,316.30L310.50,316.30Z" fill="#e8a020" stroke="#e8a020" stroke-width="0.3" />
<line x1="186.50" y1="300.20" x2="186.50" y2="316.30" stroke="#1a1a1a" stroke-width="1.4" />
<line x1="183.10" y1="300.60" x2="186.50" y2="300.60" stroke="#1a1a1a" stroke-width="1.0" />
<line x1="183.10" y1="316.30" x2="186.50" y2="316.30" stroke="#1a1a1a" stroke-width="1.0" />
<line x1="186.50" y1="316.30" x2="312.00" y2="316.30" stroke="#1a1a1a" stroke-width="1.3" />
<text x="182.00" y="302.45" font-size="5.15" text-anchor="end" fill="#333">1000</text>
<text x="182.00" y="317.30" font-size="5.15" text-anchor="end" fill="#333">0</text>
<path d="M187.30,336.20L187.30,335.95L187.70,336.20L188.10,336.20L188.50,336.11L188.90,336.20L189.30,336.20L189.70,335.96L190.10,336.20L190.50,336.20L190.90,336.12L191.30,336.20L191.70,336.20L192.10,335.92L192.50,336.20L192.90,335.99L193.30,336.02L193.70,334.67L194.10,331.79L194.50,329.40L194.90,330.64L195.30,332.68L195.70,333.55L196.10,334.25L196.50,335.11L196.90,335.75L197.30,336.07L197.70,335.97L198.10,336.19L198.50,336.15L198.90,336.06L199.30,335.60L199.70,334.71L200.10,334.35L200.50,335.23L200.90,335.60L201.30,336.05L201.70,335.94L202.10,336.02L202.50,336.03L202.90,336.20L203.30,336.20L203.70,336.20L204.10,336.20L204.50,336.20L204.90,336.20L205.30,336.03L205.70,335.90L206.10,336.20L206.50,336.15L206.90,336.20L207.30,336.20L207.70,335.95L208.10,336.20L208.50,336.20L208.90,336.00L209.30,336.20L209.70,336.09L210.10,335.98L210.50,336.20L210.90,336.06L211.30,336.09L211.70,336.20L212.10,336.20L212.50,335.87L212.90,336.20L213.30,336.19L213.70,336.13L214.10,335.89L214.50,336.11L214.90,336.20L215.30,336.20L215.70,335.93L216.10,336.20L216.50,336.18L216.90,336.07L217.30,335.64L217.70,334.95L218.10,334.73L218.50,335.29L218.90,335.90L219.30,336.15L219.70,336.20L220.10,336.20L220.50,336.20L220.90,335.88L221.30,336.20L221.70,335.87L222.10,336.20L222.50,336.11L222.90,336.13L223.30,336.20L223.70,336.11L224.10,336.20L224.50,336.20L224.90,336.20L225.30,336.20L225.70,336.07L226.10,336.20L226.50,336.12L226.90,335.94L227.30,335.95L227.70,335.94L228.10,336.12L228.50,336.04L228.90,335.93L229.30,335.81L229.70,335.72L230.10,335.56L230.50,335.59L230.90,335.87L231.30,335.99L231.70,335.84L232.10,336.14L232.50,336.18L232.90,335.89L233.30,336.20L233.70,336.20L234.10,336.20L234.50,336.20L234.90,336.20L235.30,335.92L235.70,336.15L236.10,336.20L236.50,336.20L236.90,336.04L237.30,336.20L237.70,336.20L238.10,336.20L238.50,335.86L238.90,335.96L239.30,336.20L239.70,335.85L240.10,335.85L240.50,336.20L240.90,336.20L241.30,336.20L241.70,336.20L242.10,336.19L242.50,335.85L242.90,336.10L243.30,336.08L243.70,335.99L244.10,335.87L244.50,335.76L244.90,335.70L245.30,335.72L245.70,335.81L246.10,335.93L246.50,335.88L246.90,336.12L247.30,336.16L247.70,336.19L248.10,336.20L248.50,336.20L248.90,336.20L249.30,336.19L249.70,336.20L250.10,336.20L250.50,336.20L250.90,336.20L251.30,336.12L251.70,336.11L252.10,336.20L252.50,336.17L252.90,336.20L253.30,336.20L253.70,335.96L254.10,336.20L254.50,336.20L254.90,336.20L255.30,336.20L255.70,335.94L256.10,336.20L256.50,336.20L256.90,336.07L257.30,336.19L257.70,336.16L258.10,336.12L258.50,336.04L258.90,335.93L259.30,335.63L259.70,335.72L260.10,335.64L260.50,335.76L260.90,335.57L261.30,335.67L261.70,336.08L262.10,335.96L262.50,336.18L262.90,336.19L263.30,336.20L263.70,336.20L264.10,336.20L264.50,335.92L264.90,336.02L265.30,336.15L265.70,336.20L266.10,336.20L266.50,336.06L266.90,336.20L267.30,336.20L267.70,336.20L268.10,336.20L268.50,336.20L268.90,336.20L269.30,336.20L269.70,336.20L270.10,336.20L270.50,336.20L270.90,336.09L271.30,336.20L271.70,336.13L272.10,336.20L272.50,335.90L272.90,336.06L273.30,336.20L273.70,335.93L274.10,336.20L274.50,336.20L274.90,336.20L275.30,335.91L275.70,336.20L276.10,335.99L276.50,336.01L276.90,336.20L277.30,336.20L277.70,336.19L278.10,335.83L278.50,335.73L278.90,334.50L279.30,332.71L279.70,332.77L280.10,334.18L280.50,335.56L280.90,336.13L281.30,336.19L281.70,335.97L282.10,336.19L282.50,336.05L282.90,335.31L283.30,333.37L283.70,331.79L284.10,332.44L284.50,334.51L284.90,335.80L285.30,335.99L285.70,336.17L286.10,336.20L286.50,336.16L286.90,336.20L287.30,336.16L287.70,336.01L288.10,335.55L288.50,334.79L288.90,333.89L289.30,334.44L289.70,334.90L290.10,335.83L290.50,336.11L290.90,336.19L291.30,336.20L291.70,335.87L292.10,336.20L292.50,336.20L292.90,336.11L293.30,336.14L293.70,336.20L294.10,336.12L294.50,336.20L294.90,336.13L295.30,336.12L295.70,335.94L296.10,336.20L296.50,335.87L296.90,336.07L297.30,335.30L297.70,334.66L298.10,334.73L298.50,334.99L298.90,335.90L299.30,336.15L299.70,336.20L300.10,336.20L300.50,336.18L300.90,336.20L301.30,336.19L301.70,336.11L302.10,335.69L302.50,334.62L302.90,333.65L303.30,334.03L303.70,335.22L304.10,335.97L304.50,336.13L304.90,336.20L305.30,335.86L305.70,336.02L306.10,335.89L306.50,335.59L306.90,335.22L307.30,335.24L307.70,335.49L308.10,336.11L308.50,336.19L308.90,336.20L309.30,336.20L309.70,336.20L310.10,336.20L310.50,335.95L310.50,336.20Z" fill="#1d4476" stroke="#142f55" stroke-width="0.3" />
<line x1="186.50" y1="320.10" x2="186.50" y2="336.20" stroke="#1a1a1a" stroke-width="1.4" />
<line x1="183.10" y1="320.50" x2="186.50" y2="320.50" stroke="#1a1a1a" stroke-width="1.0" />
<line x1="183.10" y1="336.20" x2="186.50" y2="336.20" stroke="#1a1a1a" stroke-width="1.0" />
<line x1="186.50" y1="336.20" x2="312.00" y2="336.20" stroke="#1a1a1a" stroke-width="1.3" />
<text x="182.00" y="322.35" font-size="5.15" text-anchor="end" fill="#333">50</text>
<text x="182.00" y="337.20" font-size="5.15" text-anchor="end" fill="#333">0</text>
<path d="M187.30,356.10L187.30,356.10L187.70,355.84L188.10,355.75L188.50,355.79L188.90,356.10L189.30,356.10L189.70,356.10L190.10,355.98L190.50,356.10L190.90,356.01L191.30,355.80L191.70,356.10L192.10,356.10L192.50,355.78L192.90,356.08L193.30,355.78L193.70,355.32L194.10,353.87L194.50,353.30L194.90,354.07L195.30,355.32L195.70,355.94L196.10,356.08L196.50,356.10L196.90,356.10L197.30,356.10L197.70,356.10L198.10,356.04L198.50,355.73L198.90,355.91L199.30,355.59L199.70,355.04L200.10,355.11L200.50,355.35L200.90,355.61L201.30,356.00L201.70,356.08L202.10,356.09L202.50,356.06L202.90,355.68L203.30,355.91L203.70,355.65L204.10,355.57L204.50,355.08L204.90,355.15L205.30,355.02L205.70,355.47L206.10,355.66L206.50,355.67L206.90,355.97L207.30,356.04L207.70,356.08L208.10,356.09L208.50,356.08L208.90,356.10L209.30,356.10L209.70,355.93L210.10,356.10L210.50,356.10L210.90,356.08L211.30,356.10L211.70,356.10L212.10,356.10L212.50,356.10L212.90,356.10L213.30,356.10L213.70,356.07L214.10,355.98L214.50,356.10L214.90,356.10L215.30,355.88L215.70,356.10L216.10,356.10L216.50,355.81L216.90,356.10L217.30,356.10L217.70,356.10L218.10,355.87L218.50,355.96L218.90,356.10L219.30,356.01L219.70,356.10L220.10,355.78L220.50,356.10L220.90,355.99L221.30,356.10L221.70,356.10L222.10,356.08L222.50,355.80L222.90,356.10L223.30,355.81L223.70,356.10L224.10,355.79L224.50,356.07L224.90,355.84L225.30,356.10L225.70,356.10L226.10,356.10L226.50,356.10L226.90,356.10L227.30,355.81L227.70,355.83L228.10,356.00L228.50,355.91L228.90,355.77L229.30,355.63L229.70,355.53L230.10,355.50L230.50,355.38L230.90,355.70L231.30,355.66L231.70,355.96L232.10,355.79L232.50,356.07L232.90,355.79L233.30,356.10L233.70,356.10L234.10,356.10L234.50,356.05L234.90,355.75L235.30,355.78L235.70,356.10L236.10,356.10L236.50,355.87L236.90,355.86L237.30,356.10L237.70,356.10L238.10,356.10L238.50,356.10L238.90,356.05L239.30,356.10L239.70,355.95L240.10,356.10L240.50,356.10L240.90,356.10L241.30,356.10L241.70,356.10L242.10,356.10L242.50,356.10L242.90,356.10L243.30,356.10L243.70,356.10L244.10,356.10L244.50,356.10L244.90,356.10L245.30,355.77L245.70,355.98L246.10,356.10L246.50,355.87L246.90,356.10L247.30,356.10L247.70,356.10L248.10,355.94L248.50,356.10L248.90,356.10L249.30,356.10L249.70,356.10L250.10,356.10L250.50,356.10L250.90,356.10L251.30,355.77L251.70,356.10L252.10,356.10L252.50,356.10L252.90,356.10L253.30,356.10L253.70,356.02L254.10,356.10L254.50,356.10L254.90,356.10L255.30,356.10L255.70,356.10L256.10,355.80L256.50,356.10L256.90,355.80L257.30,356.10L257.70,355.79L258.10,356.10L258.50,355.90L258.90,356.10L259.30,355.87L259.70,356.05L260.10,356.10L260.50,356.10L260.90,356.10L261.30,356.10L261.70,356.10L262.10,356.10L262.50,356.10L262.90,356.10L263.30,356.10L263.70,356.10L264.10,356.10L264.50,356.10L264.90,356.10L265.30,356.10L265.70,356.10L266.10,355.97L266.50,356.10L266.90,356.10L267.30,356.10L267.70,356.05L268.10,355.86L268.50,355.87L268.90,355.86L269.30,356.10L269.70,356.02L270.10,355.93L270.50,356.02L270.90,356.10L271.30,356.10L271.70,355.92L272.10,356.10L272.50,356.10L272.90,356.10L273.30,356.10L273.70,356.10L274.10,356.10L274.50,356.10L274.90,356.10L275.30,356.10L275.70,355.83L276.10,355.98L276.50,356.10L276.90,356.10L277.30,356.10L277.70,356.10L278.10,355.97L278.50,356.06L278.90,355.79L279.30,354.79L279.70,352.88L280.10,352.67L280.50,353.98L280.90,355.41L281.30,355.98L281.70,355.77L282.10,356.10L282.50,355.82L282.90,355.47L283.30,354.04L283.70,351.51L284.10,350.71L284.50,352.64L284.90,355.01L285.30,355.86L285.70,355.75L286.10,356.10L286.50,356.10L286.90,355.92L287.30,355.90L287.70,356.10L288.10,356.10L288.50,356.10L288.90,356.10L289.30,356.10L289.70,356.10L290.10,355.85L290.50,356.10L290.90,356.10L291.30,356.10L291.70,356.10L292.10,356.10L292.50,356.10L292.90,355.82L293.30,355.77L293.70,356.10L294.10,355.78L294.50,356.10L294.90,356.10L295.30,356.00L295.70,355.77L296.10,355.94L296.50,356.10L296.90,356.10L297.30,356.10L297.70,356.10L298.10,356.10L298.50,356.10L298.90,356.10L299.30,356.10L299.70,356.10L300.10,356.10L300.50,355.78L300.90,356.10L301.30,355.97L301.70,355.99L302.10,355.70L302.50,354.89L302.90,353.97L303.30,354.43L303.70,355.12L304.10,355.92L304.50,356.08L304.90,356.10L305.30,356.10L305.70,356.10L306.10,355.98L306.50,355.80L306.90,356.10L307.30,356.10L307.70,356.10L308.10,356.10L308.50,356.10L308.90,356.10L309.30,356.10L309.70,356.02L310.10,356.10L310.50,356.10L310.50,356.10Z" fill="#1d4476" stroke="#142f55" stroke-width="0.3" />
<line x1="186.50" y1="340.00" x2="186.50" y2="356.10" stroke="#1a1a1a" stroke-width="1.4" />
<line x1="183.10" y1="340.40" x2="186.50" y2="340.40" stroke="#1a1a1a" stroke-width="1.0" />
<line x1="183.10" y1="356.10" x2="186.50" y2="356.10" stroke="#1a1a1a" stroke-width="1.0" />
<line x1="186.50" y1="356.10" x2="312.00" y2="356.10" stroke="#1a1a1a" stroke-width="1.3" />
<text x="182.00" y="342.25" font-size="5.15" text-anchor="end" fill="#333">50</text>
<text x="182.00" y="357.10" font-size="5.15" text-anchor="end" fill="#333">0</text>
<path d="M187.30,376.10L187.30,376.10L187.70,376.10L188.10,376.10L188.50,376.10L188.90,376.10L189.30,376.10L189.70,376.10L190.10,376.10L190.50,376.10L190.90,376.10L191.30,376.10L191.70,376.10L192.10,376.10L192.50,376.10L192.90,376.08L193.30,375.94L193.70,375.32L194.10,374.07L194.50,373.30L194.90,374.07L195.30,375.32L195.70,375.94L196.10,376.08L196.50,376.10L196.90,376.10L197.30,376.10L197.70,376.10L198.10,376.10L198.50,376.10L198.90,376.08L199.30,375.92L199.70,375.08L200.10,372.76L200.50,369.64L200.90,368.72L201.30,371.14L201.70,374.13L202.10,375.64L202.50,376.04L202.90,376.09L203.30,376.10L203.70,376.10L204.10,376.10L204.50,376.10L204.90,376.10L205.30,376.10L205.70,376.10L206.10,376.10L206.50,376.10L206.90,376.10L207.30,376.10L207.70,376.10L208.10,376.10L208.50,376.10L208.90,376.10L209.30,376.10L209.70,376.10L210.10,376.10L210.50,376.10L210.90,376.10L211.30,376.10L211.70,376.10L212.10,376.10L212.50,376.10L212.90,376.10L213.30,376.10L213.70,376.10L214.10,376.10L214.50,376.10L214.90,376.10L215.30,376.10L215.70,376.10L216.10,376.10L216.50,376.07L216.90,375.87L217.30,375.12L217.70,373.93L218.10,373.55L218.50,374.52L218.90,375.59L219.30,376.01L219.70,376.09L220.10,376.10L220.50,376.10L220.90,376.10L221.30,376.10L221.70,376.10L222.10,376.10L222.50,376.10L222.90,376.10L223.30,376.10L223.70,376.10L224.10,376.10L224.50,376.10L224.90,376.10L225.30,376.10L225.70,376.10L226.10,376.10L226.50,376.10L226.90,376.10L227.30,376.10L227.70,376.10L228.10,376.10L228.50,376.10L228.90,376.10L229.30,376.10L229.70,376.10L230.10,376.10L230.50,376.10L230.90,376.10L231.30,376.10L231.70,376.10L232.10,376.10L232.50,376.10L232.90,376.10L233.30,376.10L233.70,376.10L234.10,376.10L234.50,376.10L234.90,376.10L235.30,376.10L235.70,376.10L236.10,376.10L236.50,376.10L236.90,376.10L237.30,376.10L237.70,376.10L238.10,376.10L238.50,376.10L238.90,376.10L239.30,376.10L239.70,376.10L240.10,376.10L240.50,376.10L240.90,376.10L241.30,376.10L241.70,376.10L242.10,376.10L242.50,376.10L242.90,376.10L243.30,376.10L243.70,376.10L244.10,376.10L244.50,376.10L244.90,376.10L245.30,376.10L245.70,376.10L246.10,376.10L246.50,376.10L246.90,376.10L247.30,376.10L247.70,376.10L248.10,376.10L248.50,376.10L248.90,376.10L249.30,376.10L249.70,376.10L250.10,376.10L250.50,376.10L250.90,376.10L251.30,376.10L251.70,376.10L252.10,376.10L252.50,376.10L252.90,376.10L253.30,376.10L253.70,376.10L254.10,376.10L254.50,376.10L254.90,376.10L255.30,376.10L255.70,376.10L256.10,376.10L256.50,376.10L256.90,376.10L257.30,376.10L257.70,376.10L258.10,376.10L258.50,376.10L258.90,376.10L259.30,376.10L259.70,376.10L260.10,376.10L260.50,376.10L260.90,376.10L261.30,376.10L261.70,376.10L262.10,376.10L262.50,376.10L262.90,376.10L263.30,376.10L263.70,376.10L264.10,376.10L264.50,376.10L264.90,376.10L265.30,376.10L265.70,376.10L266.10,376.10L266.50,376.10L266.90,376.10L267.30,376.10L267.70,376.10L268.10,376.10L268.50,376.10L268.90,376.10L269.30,376.10L269.70,376.10L270.10,376.10L270.50,376.10L270.90,376.10L271.30,376.10L271.70,376.10L272.10,376.10L272.50,376.10L272.90,376.10L273.30,376.10L273.70,376.10L274.10,376.10L274.50,376.10L274.90,376.10L275.30,376.10L275.70,376.10L276.10,376.10L276.50,376.10L276.90,376.10L277.30,376.10L277.70,376.10L278.10,376.10L278.50,376.10L278.90,376.10L279.30,376.10L279.70,376.10L280.10,376.10L280.50,376.10L280.90,376.10L281.30,376.10L281.70,376.10L282.10,376.10L282.50,376.10L282.90,376.10L283.30,376.10L283.70,376.10L284.10,376.10L284.50,376.10L284.90,376.10L285.30,376.10L285.70,376.10L286.10,376.10L286.50,376.10L286.90,376.10L287.30,376.10L287.70,376.10L288.10,376.10L288.50,376.10L288.90,376.10L289.30,376.10L289.70,376.10L290.10,376.10L290.50,376.10L290.90,376.10L291.30,376.10L291.70,376.10L292.10,376.10L292.50,376.10L292.90,376.10L293.30,376.10L293.70,376.10L294.10,376.10L294.50,376.10L294.90,376.10L295.30,376.10L295.70,376.10L296.10,376.10L296.50,376.10L296.90,376.10L297.30,376.10L297.70,376.07L298.10,375.90L298.50,375.49L298.90,375.12L299.30,375.26L299.70,375.72L300.10,376.01L300.50,376.07L300.90,375.91L301.30,374.90L301.70,371.59L302.10,366.12L302.50,363.10L302.90,366.12L303.30,371.59L303.70,374.90L304.10,375.91L304.50,376.07L304.90,376.01L305.30,375.54L305.70,374.02L306.10,371.49L306.50,370.10L306.90,371.49L307.30,374.02L307.70,375.54L308.10,376.01L308.50,376.09L308.90,376.10L309.30,376.10L309.70,376.10L310.10,376.10L310.50,376.10L310.50,376.10Z" fill="#958cc8" stroke="#958cc8" stroke-width="0.3" />
<line x1="186.50" y1="360.00" x2="186.50" y2="376.10" stroke="#1a1a1a" stroke-width="1.4" />
<line x1="183.10" y1="360.40" x2="186.50" y2="360.40" stroke="#1a1a1a" stroke-width="1.0" />
<line x1="183.10" y1="376.10" x2="186.50" y2="376.10" stroke="#1a1a1a" stroke-width="1.0" />
<line x1="186.50" y1="376.10" x2="312.00" y2="376.10" stroke="#1a1a1a" stroke-width="1.3" />
<text x="182.00" y="362.25" font-size="5.15" text-anchor="end" fill="#333">50</text>
<text x="182.00" y="377.10" font-size="5.15" text-anchor="end" fill="#333">0</text>
<path d="M187.30,396.20L187.30,396.20L187.70,396.20L188.10,396.20L188.50,396.20L188.90,396.20L189.30,396.20L189.70,396.20L190.10,396.20L190.50,396.20L190.90,396.20L191.30,396.18L191.70,396.03L192.10,395.21L192.50,393.17L192.90,391.30L193.30,392.02L193.70,394.32L194.10,395.75L194.50,396.09L194.90,395.80L195.30,394.51L195.70,392.44L196.10,391.79L196.50,393.47L196.90,395.31L197.30,396.05L197.70,396.19L198.10,396.20L198.50,396.20L198.90,396.18L199.30,396.03L199.70,395.25L200.10,393.09L200.50,390.17L200.90,389.31L201.30,391.57L201.70,394.36L202.10,395.77L202.50,396.14L202.90,396.20L203.30,396.20L203.70,396.20L204.10,396.20L204.50,396.20L204.90,396.20L205.30,396.20L205.70,396.20L206.10,396.20L206.50,396.20L206.90,396.20L207.30,396.20L207.70,396.20L208.10,396.20L208.50,396.20L208.90,396.20L209.30,396.20L209.70,396.20L210.10,396.20L210.50,396.20L210.90,396.20L211.30,396.20L211.70,396.20L212.10,396.20L212.50,396.20L212.90,396.20L213.30,396.20L213.70,396.20L214.10,396.20L214.50,396.20L214.90,396.20L215.30,396.20L215.70,396.20L216.10,396.20L216.50,396.17L216.90,395.97L217.30,395.22L217.70,394.03L218.10,393.65L218.50,394.62L218.90,395.69L219.30,396.11L219.70,396.19L220.10,396.20L220.50,396.20L220.90,396.20L221.30,396.20L221.70,396.20L222.10,396.20L222.50,396.20L222.90,396.20L223.30,396.20L223.70,396.20L224.10,396.20L224.50,396.20L224.90,396.20L225.30,396.20L225.70,396.20L226.10,396.20L226.50,396.20L226.90,396.20L227.30,396.20L227.70,396.20L228.10,396.20L228.50,396.20L228.90,396.20L229.30,396.20L229.70,396.20L230.10,396.20L230.50,396.20L230.90,396.20L231.30,396.20L231.70,396.20L232.10,396.20L232.50,396.20L232.90,396.20L233.30,396.20L233.70,396.20L234.10,396.20L234.50,396.20L234.90,396.20L235.30,396.20L235.70,396.20L236.10,396.20L236.50,396.20L236.90,396.20L237.30,396.20L237.70,396.20L238.10,396.20L238.50,396.20L238.90,396.20L239.30,396.20L239.70,396.20L240.10,396.20L240.50,396.20L240.90,396.20L241.30,396.20L241.70,396.20L242.10,396.20L242.50,396.20L242.90,396.20L243.30,396.20L243.70,396.20L244.10,396.20L244.50,396.20L244.90,396.20L245.30,396.20L245.70,396.20L246.10,396.20L246.50,396.20L246.90,396.20L247.30,396.20L247.70,396.20L248.10,396.20L248.50,396.20L248.90,396.20L249.30,396.20L249.70,396.20L250.10,396.20L250.50,396.20L250.90,396.20L251.30,396.20L251.70,396.20L252.10,396.20L252.50,396.20L252.90,396.20L253.30,396.20L253.70,396.20L254.10,396.20L254.50,396.20L254.90,396.20L255.30,396.20L255.70,396.20L256.10,396.20L256.50,396.20L256.90,396.20L257.30,396.20L257.70,396.20L258.10,396.20L258.50,396.20L258.90,396.20L259.30,396.20L259.70,396.20L260.10,396.20L260.50,396.20L260.90,396.20L261.30,396.20L261.70,396.20L262.10,396.20L262.50,396.20L262.90,396.20L263.30,396.20L263.70,396.20L264.10,396.20L264.50,396.20L264.90,396.20L265.30,396.20L265.70,396.20L266.10,396.20L266.50,396.20L266.90,396.20L267.30,396.20L267.70,396.20L268.10,396.20L268.50,396.20L268.90,396.20L269.30,396.20L269.70,396.20L270.10,396.20L270.50,396.20L270.90,396.20L271.30,396.20L271.70,396.20L272.10,396.20L272.50,396.20L272.90,396.20L273.30,396.20L273.70,396.20L274.10,396.20L274.50,396.20L274.90,396.20L275.30,396.20L275.70,396.20L276.10,396.20L276.50,396.20L276.90,396.20L277.30,396.20L277.70,396.20L278.10,396.20L278.50,396.20L278.90,396.20L279.30,396.20L279.70,396.20L280.10,396.20L280.50,396.20L280.90,396.20L281.30,396.20L281.70,396.20L282.10,396.20L282.50,396.20L282.90,396.20L283.30,396.20L283.70,396.20L284.10,396.20L284.50,396.20L284.90,396.20L285.30,396.20L285.70,396.20L286.10,396.20L286.50,396.20L286.90,396.20L287.30,396.20L287.70,396.20L288.10,396.20L288.50,396.20L288.90,396.20L289.30,396.20L289.70,396.20L290.10,396.20L290.50,396.20L290.90,396.20L291.30,396.20L291.70,396.20L292.10,396.20L292.50,396.20L292.90,396.20L293.30,396.20L293.70,396.20L294.10,396.20L294.50,396.20L294.90,396.20L295.30,396.20L295.70,396.20L296.10,396.20L296.50,396.20L296.90,396.20L297.30,396.20L297.70,396.17L298.10,396.00L298.50,395.59L298.90,395.22L299.30,395.36L299.70,395.82L300.10,396.11L300.50,396.18L300.90,396.05L301.30,395.27L301.70,392.73L302.10,388.52L302.50,386.20L302.90,388.52L303.30,392.73L303.70,395.27L304.10,396.05L304.50,396.19L304.90,396.20L305.30,396.20L305.70,396.16L306.10,395.91L306.50,394.76L306.90,392.06L307.30,389.18L307.70,389.18L308.10,392.06L308.50,394.76L308.90,395.91L309.30,396.16L309.70,396.20L310.10,396.20L310.50,396.20L310.50,396.20Z" fill="#958cc8" stroke="#958cc8" stroke-width="0.3" />
<line x1="186.50" y1="380.10" x2="186.50" y2="396.20" stroke="#1a1a1a" stroke-width="1.4" />
<line x1="183.10" y1="380.50" x2="186.50" y2="380.50" stroke="#1a1a1a" stroke-width="1.0" />
<line x1="183.10" y1="396.20" x2="186.50" y2="396.20" stroke="#1a1a1a" stroke-width="1.0" />
<line x1="186.50" y1="396.20" x2="312.00" y2="396.20" stroke="#1a1a1a" stroke-width="1.3" />
<text x="182.00" y="382.35" font-size="5.15" text-anchor="end" fill="#333">50</text>
<text x="182.00" y="397.20" font-size="5.15" text-anchor="end" fill="#333">0</text>
<path d="M350.80,256.50L350.80,256.50L351.20,256.50L351.60,256.50L352.00,256.50L352.40,256.50L352.80,256.50L353.20,256.50L353.60,256.50L354.00,256.50L354.40,256.50L354.80,256.50L355.20,256.50L355.60,256.50L356.00,256.50L356.40,256.50L356.80,256.50L357.20,256.50L357.60,256.50L358.00,256.50L358.40,256.50L358.80,256.50L359.20,256.50L359.60,256.50L360.00,256.50L360.40,256.50L360.80,256.50L361.20,256.50L361.60,256.50L362.00,256.50L362.40,256.50L362.80,256.49L363.20,256.49L363.60,256.48L364.00,256.46L364.40,256.42L364.80,256.36L365.20,256.28L365.60,256.18L366.00,256.04L366.40,255.89L366.80,255.75L367.20,255.62L367.60,255.53L368.00,255.50L368.40,255.53L368.80,255.62L369.20,255.75L369.60,255.89L370.00,256.04L370.40,256.18L370.80,256.28L371.20,256.36L371.60,256.42L372.00,256.46L372.40,256.48L372.80,256.49L373.20,256.49L373.60,256.50L374.00,256.50L374.40,256.50L374.80,256.50L375.20,256.50L375.60,256.50L376.00,256.50L376.40,256.50L376.80,256.50L377.20,256.50L377.60,256.50L378.00,256.50L378.40,256.50L378.80,256.50L379.20,256.50L379.60,256.50L380.00,256.50L380.40,256.50L380.80,256.50L381.20,256.50L381.60,256.50L382.00,256.50L382.40,256.50L382.80,256.50L383.20,256.50L383.60,256.50L384.00,256.50L384.40,256.50L384.80,256.50L385.20,256.50L385.60,256.50L386.00,256.50L386.40,256.50L386.80,256.50L387.20,256.50L387.60,256.48L388.00,256.34L388.40,255.92L388.80,255.39L389.20,255.39L389.60,255.92L390.00,256.33L390.40,256.39L390.80,256.12L391.20,255.66L391.60,255.52L392.00,255.89L392.40,256.30L392.80,256.47L393.20,256.50L393.60,256.50L394.00,256.50L394.40,256.50L394.80,256.50L395.20,256.50L395.60,256.50L396.00,256.50L396.40,256.50L396.80,256.50L397.20,256.50L397.60,256.50L398.00,256.48L398.40,256.45L398.80,256.34L399.20,256.08L399.60,255.54L400.00,254.61L400.40,253.30L400.80,251.79L401.20,250.49L401.60,249.73L402.00,249.65L402.40,250.04L402.80,250.51L403.20,250.61L403.60,249.94L404.00,248.27L404.40,245.81L404.80,243.45L405.20,242.46L405.60,243.65L406.00,246.63L406.40,250.20L406.80,253.15L407.20,255.02L407.60,255.95L408.00,256.32L408.40,256.45L408.80,256.49L409.20,256.50L409.60,256.50L410.00,256.50L410.40,256.50L410.80,256.49L411.20,256.42L411.60,256.14L412.00,255.90L412.40,256.14L412.80,256.42L413.20,256.49L413.60,256.50L414.00,256.50L414.40,256.50L414.80,256.50L415.20,256.50L415.60,256.50L416.00,256.50L416.40,256.50L416.80,256.50L417.20,256.50L417.60,256.50L418.00,256.50L418.40,256.50L418.80,256.50L419.20,256.50L419.60,256.50L420.00,256.50L420.40,256.50L420.80,256.50L421.20,256.50L421.60,256.50L422.00,256.50L422.40,256.50L422.80,256.50L423.20,256.50L423.60,256.50L424.00,256.50L424.40,256.50L424.80,256.50L425.20,256.50L425.60,256.50L426.00,256.50L426.40,256.50L426.80,256.50L427.20,256.50L427.60,256.50L428.00,256.50L428.40,256.50L428.80,256.50L429.20,256.50L429.60,256.50L430.00,256.50L430.40,256.50L430.80,256.50L431.20,256.50L431.60,256.50L432.00,256.50L432.40,256.50L432.80,256.50L433.20,256.50L433.60,256.50L434.00,256.50L434.40,256.50L434.80,256.50L435.20,256.50L435.60,256.50L436.00,256.50L436.40,256.50L436.80,256.50L437.20,256.50L437.60,256.50L438.00,256.50L438.40,256.50L438.80,256.50L439.20,256.50L439.60,256.50L440.00,256.50L440.40,256.50L440.80,256.50L441.20,256.50L441.60,256.50L442.00,256.50L442.40,256.50L442.80,256.50L443.20,256.50L443.60,256.50L444.00,256.50L444.40,256.50L444.80,256.50L445.20,256.50L445.60,256.50L446.00,256.50L446.40,256.50L446.80,256.50L447.20,256.50L447.60,256.50L448.00,256.50L448.40,256.50L448.80,256.50L449.20,256.50L449.60,256.50L450.00,256.50L450.40,256.50L450.80,256.50L451.20,256.50L451.60,256.50L452.00,256.50L452.40,256.50L452.80,256.50L453.20,256.50L453.60,256.50L454.00,256.50L454.40,256.50L454.80,256.50L455.20,256.50L455.60,256.50L456.00,256.50L456.40,256.50L456.80,256.50L457.20,256.50L457.60,256.50L458.00,256.50L458.40,256.50L458.80,256.50L459.20,256.50L459.60,256.50L460.00,256.50L460.40,256.50L460.80,256.50L461.20,256.50L461.60,256.50L462.00,256.50L462.40,256.50L462.80,256.50L463.20,256.50L463.60,256.50L464.00,256.49L464.40,256.46L464.80,256.37L465.20,256.18L465.60,255.86L466.00,255.51L466.40,255.30L466.80,255.31L467.20,255.32L467.60,254.80L468.00,253.61L468.40,252.68L468.80,253.13L469.20,254.57L469.60,255.76L470.00,256.13L470.40,255.74L470.80,255.11L471.20,255.12L471.60,255.77L472.00,256.30L472.40,256.47L472.80,256.50L473.20,256.49L473.60,256.43L474.00,256.25L474.40,255.89L474.80,255.55L475.20,255.55L475.60,255.89L476.00,256.25L476.40,256.41L476.80,256.38L477.20,256.17L477.60,255.86L478.00,255.70L478.40,255.86L478.80,256.17L479.20,256.39L479.60,256.48L480.00,256.50L480.40,256.50L480.80,256.50L480.80,256.50Z" fill="#1d6b47" stroke="#1d6b47" stroke-width="0.3" />
<line x1="350.00" y1="240.40" x2="350.00" y2="256.50" stroke="#1a1a1a" stroke-width="1.4" />
<line x1="346.60" y1="240.80" x2="350.00" y2="240.80" stroke="#1a1a1a" stroke-width="1.0" />
<line x1="346.60" y1="256.50" x2="350.00" y2="256.50" stroke="#1a1a1a" stroke-width="1.0" />
<line x1="350.00" y1="256.50" x2="482.30" y2="256.50" stroke="#1a1a1a" stroke-width="1.3" />
<text x="345.50" y="242.65" font-size="5.15" text-anchor="end" fill="#333">300</text>
<text x="345.50" y="257.50" font-size="5.15" text-anchor="end" fill="#333">0</text>
<path d="M350.80,276.40L350.80,276.40L351.20,276.40L351.60,276.40L352.00,276.40L352.40,276.40L352.80,276.40L353.20,276.40L353.60,276.40L354.00,276.39L354.40,276.38L354.80,276.35L355.20,276.28L355.60,276.16L356.00,275.95L356.40,275.66L356.80,275.30L357.20,274.95L357.60,274.66L358.00,274.52L358.40,274.53L358.80,274.62L359.20,274.72L359.60,274.75L360.00,274.68L360.40,274.57L360.80,274.51L361.20,274.57L361.60,274.79L362.00,275.12L362.40,275.49L362.80,275.82L363.20,276.06L363.60,276.23L364.00,276.32L364.40,276.37L364.80,276.39L365.20,276.40L365.60,276.40L366.00,276.40L366.40,276.40L366.80,276.40L367.20,276.40L367.60,276.40L368.00,276.40L368.40,276.40L368.80,276.40L369.20,276.40L369.60,276.40L370.00,276.40L370.40,276.40L370.80,276.40L371.20,276.40L371.60,276.40L372.00,276.40L372.40,276.40L372.80,276.40L373.20,276.40L373.60,276.40L374.00,276.40L374.40,276.40L374.80,276.40L375.20,276.40L375.60,276.40L376.00,276.40L376.40,276.40L376.80,276.40L377.20,276.40L377.60,276.40L378.00,276.40L378.40,276.40L378.80,276.40L379.20,276.40L379.60,276.40L380.00,276.40L380.40,276.40L380.80,276.40L381.20,276.40L381.60,276.40L382.00,276.40L382.40,276.40L382.80,276.40L383.20,276.40L383.60,276.40L384.00,276.40L384.40,276.40L384.80,276.40L385.20,276.40L385.60,276.40L386.00,276.40L386.40,276.40L386.80,276.40L387.20,276.40L387.60,276.40L388.00,276.40L388.40,276.40L388.80,276.40L389.20,276.40L389.60,276.40L390.00,276.40L390.40,276.40L390.80,276.40L391.20,276.40L391.60,276.40L392.00,276.40L392.40,276.40L392.80,276.40L393.20,276.40L393.60,276.40L394.00,276.40L394.40,276.39L394.80,276.34L395.20,276.20L395.60,275.86L396.00,275.26L396.40,274.51L396.80,273.98L397.20,273.97L397.60,274.49L398.00,275.10L398.40,275.21L398.80,274.43L399.20,273.25L399.60,272.94L400.00,273.92L400.40,275.26L400.80,276.04L401.20,276.14L401.60,275.37L402.00,273.31L402.40,271.20L402.80,271.14L403.20,272.28L403.60,272.65L404.00,272.33L404.40,271.72L404.80,269.87L405.20,266.87L405.60,266.57L406.00,270.45L406.40,274.36L406.80,275.97L407.20,276.33L407.60,276.39L408.00,276.40L408.40,276.40L408.80,276.40L409.20,276.40L409.60,276.40L410.00,276.40L410.40,276.40L410.80,276.40L411.20,276.40L411.60,276.40L412.00,276.40L412.40,276.40L412.80,276.40L413.20,276.40L413.60,276.40L414.00,276.40L414.40,276.40L414.80,276.40L415.20,276.40L415.60,276.40L416.00,276.40L416.40,276.40L416.80,276.40L417.20,276.40L417.60,276.40L418.00,276.40L418.40,276.40L418.80,276.40L419.20,276.37L419.60,276.20L420.00,275.65L420.40,274.58L420.80,273.56L421.20,273.53L421.60,274.38L422.00,274.90L422.40,274.38L422.80,273.53L423.20,273.56L423.60,274.58L424.00,275.65L424.40,276.20L424.80,276.37L425.20,276.40L425.60,276.40L426.00,276.40L426.40,276.40L426.80,276.40L427.20,276.40L427.60,276.40L428.00,276.40L428.40,276.40L428.80,276.40L429.20,276.40L429.60,276.40L430.00,276.40L430.40,276.40L430.80,276.40L431.20,276.40L431.60,276.40L432.00,276.40L432.40,276.40L432.80,276.40L433.20,276.40L433.60,276.40L434.00,276.40L434.40,276.40L434.80,276.40L435.20,276.40L435.60,276.40L436.00,276.40L436.40,276.40L436.80,276.40L437.20,276.40L437.60,276.40L438.00,276.40L438.40,276.40L438.80,276.40L439.20,276.40L439.60,276.40L440.00,276.40L440.40,276.40L440.80,276.40L441.20,276.40L441.60,276.40L442.00,276.40L442.40,276.40L442.80,276.40L443.20,276.40L443.60,276.40L444.00,276.40L444.40,276.40L444.80,276.40L445.20,276.40L445.60,276.40L446.00,276.40L446.40,276.40L446.80,276.40L447.20,276.40L447.60,276.40L448.00,276.40L448.40,276.40L448.80,276.40L449.20,276.40L449.60,276.40L450.00,276.40L450.40,276.40L450.80,276.40L451.20,276.40L451.60,276.40L452.00,276.40L452.40,276.40L452.80,276.40L453.20,276.40L453.60,276.40L454.00,276.40L454.40,276.40L454.80,276.40L455.20,276.40L455.60,276.40L456.00,276.40L456.40,276.40L456.80,276.40L457.20,276.40L457.60,276.40L458.00,276.40L458.40,276.40L458.80,276.40L459.20,276.40L459.60,276.40L460.00,276.40L460.40,276.40L460.80,276.40L461.20,276.40L461.60,276.40L462.00,276.40L462.40,276.40L462.80,276.40L463.20,276.40L463.60,276.40L464.00,276.37L464.40,276.18L464.80,275.46L465.20,274.31L465.60,273.95L466.00,274.88L466.40,275.90L466.80,276.27L467.20,276.25L467.60,276.01L468.00,275.58L468.40,275.04L468.80,274.66L469.20,274.65L469.60,275.04L470.00,275.56L470.40,275.95L470.80,276.10L471.20,276.00L471.60,275.72L472.00,275.31L472.40,274.90L472.80,274.64L473.20,274.63L473.60,274.88L474.00,275.24L474.40,275.51L474.80,275.52L475.20,275.27L475.60,274.93L476.00,274.78L476.40,274.98L476.80,275.43L477.20,275.88L477.60,276.18L478.00,276.33L478.40,276.38L478.80,276.40L479.20,276.40L479.60,276.40L480.00,276.40L480.40,276.40L480.80,276.40L480.80,276.40Z" fill="#1d6b47" stroke="#1d6b47" stroke-width="0.3" />
<line x1="350.00" y1="260.30" x2="350.00" y2="276.40" stroke="#1a1a1a" stroke-width="1.4" />
<line x1="346.60" y1="260.70" x2="350.00" y2="260.70" stroke="#1a1a1a" stroke-width="1.0" />
<line x1="346.60" y1="276.40" x2="350.00" y2="276.40" stroke="#1a1a1a" stroke-width="1.0" />
<line x1="350.00" y1="276.40" x2="482.30" y2="276.40" stroke="#1a1a1a" stroke-width="1.3" />
<text x="345.50" y="262.55" font-size="5.15" text-anchor="end" fill="#333">300</text>
<text x="345.50" y="277.40" font-size="5.15" text-anchor="end" fill="#333">0</text>
<path d="M350.80,296.30L350.80,296.30L351.20,296.30L351.60,296.30L352.00,296.30L352.40,296.30L352.80,296.30L353.20,296.30L353.60,296.30L354.00,296.30L354.40,296.30L354.80,296.30L355.20,296.30L355.60,296.30L356.00,296.30L356.40,296.30L356.80,296.30L357.20,296.30L357.60,296.30L358.00,296.30L358.40,296.30L358.80,296.30L359.20,296.30L359.60,296.30L360.00,296.30L360.40,296.30L360.80,296.30L361.20,296.30L361.60,296.30L362.00,296.30L362.40,296.30L362.80,296.30L363.20,296.30L363.60,296.30L364.00,296.30L364.40,296.30L364.80,296.30L365.20,296.30L365.60,296.30L366.00,296.30L366.40,296.30L366.80,296.30L367.20,296.30L367.60,296.30L368.00,296.30L368.40,296.30L368.80,296.30L369.20,296.30L369.60,296.30L370.00,296.30L370.40,296.30L370.80,296.30L371.20,296.30L371.60,296.30L372.00,296.30L372.40,296.30L372.80,296.30L373.20,296.30L373.60,296.30L374.00,296.30L374.40,296.30L374.80,296.30L375.20,296.30L375.60,296.30L376.00,296.30L376.40,296.30L376.80,296.30L377.20,296.30L377.60,296.30L378.00,296.30L378.40,296.30L378.80,296.30L379.20,296.30L379.60,296.30L380.00,296.30L380.40,296.30L380.80,296.30L381.20,296.30L381.60,296.30L382.00,296.30L382.40,296.30L382.80,296.30L383.20,296.30L383.60,296.29L384.00,296.28L384.40,296.27L384.80,296.24L385.20,296.19L385.60,296.13L386.00,296.05L386.40,295.96L386.80,295.86L387.20,295.78L387.60,295.72L388.00,295.70L388.40,295.71L388.80,295.76L389.20,295.82L389.60,295.88L390.00,295.90L390.40,295.89L390.80,295.83L391.20,295.76L391.60,295.70L392.00,295.68L392.40,295.72L392.80,295.82L393.20,295.93L393.60,296.05L394.00,296.15L394.40,296.22L394.80,296.26L395.20,296.28L395.60,296.29L396.00,296.30L396.40,296.30L396.80,296.30L397.20,296.30L397.60,296.30L398.00,296.30L398.40,296.29L398.80,296.29L399.20,296.26L399.60,296.22L400.00,296.12L400.40,295.96L400.80,295.68L401.20,295.26L401.60,294.71L402.00,294.05L402.40,293.36L402.80,292.77L403.20,292.39L403.60,292.29L404.00,292.42L404.40,292.36L404.80,291.36L405.20,289.30L405.60,287.90L406.00,289.13L406.40,292.19L406.80,294.71L407.20,295.86L407.60,296.20L408.00,296.27L408.40,296.29L408.80,296.30L409.20,296.30L409.60,296.30L410.00,296.30L410.40,296.30L410.80,296.30L411.20,296.30L411.60,296.30L412.00,296.30L412.40,296.30L412.80,296.30L413.20,296.30L413.60,296.30L414.00,296.30L414.40,296.30L414.80,296.30L415.20,296.29L415.60,296.28L416.00,296.26L416.40,296.21L416.80,296.13L417.20,296.01L417.60,295.84L418.00,295.66L418.40,295.51L418.80,295.41L419.20,295.41L419.60,295.49L420.00,295.62L420.40,295.72L420.80,295.75L421.20,295.66L421.60,295.48L422.00,295.29L422.40,295.19L422.80,295.24L423.20,295.44L423.60,295.70L424.00,295.94L424.40,296.12L424.80,296.22L425.20,296.27L425.60,296.29L426.00,296.30L426.40,296.30L426.80,296.30L427.20,296.30L427.60,296.30L428.00,296.30L428.40,296.30L428.80,296.30L429.20,296.30L429.60,296.30L430.00,296.30L430.40,296.30L430.80,296.30L431.20,296.30L431.60,296.30L432.00,296.30L432.40,296.30L432.80,296.30L433.20,296.30L433.60,296.30L434.00,296.30L434.40,296.30L434.80,296.30L435.20,296.30L435.60,296.30L436.00,296.30L436.40,296.30L436.80,296.30L437.20,296.30L437.60,296.30L438.00,296.30L438.40,296.30L438.80,296.30L439.20,296.30L439.60,296.30L440.00,296.30L440.40,296.30L440.80,296.30L441.20,296.30L441.60,296.30L442.00,296.30L442.40,296.30L442.80,296.30L443.20,296.30L443.60,296.30L444.00,296.30L444.40,296.30L444.80,296.30L445.20,296.30L445.60,296.30L446.00,296.30L446.40,296.30L446.80,296.30L447.20,296.30L447.60,296.30L448.00,296.30L448.40,296.30L448.80,296.30L449.20,296.30L449.60,296.30L450.00,296.30L450.40,296.30L450.80,296.30L451.20,296.30L451.60,296.30L452.00,296.30L452.40,296.30L452.80,296.30L453.20,296.30L453.60,296.30L454.00,296.30L454.40,296.30L454.80,296.30L455.20,296.30L455.60,296.30L456.00,296.30L456.40,296.30L456.80,296.30L457.20,296.30L457.60,296.30L458.00,296.30L458.40,296.30L458.80,296.30L459.20,296.30L459.60,296.30L460.00,296.29L460.40,296.29L460.80,296.28L461.20,296.27L461.60,296.26L462.00,296.23L462.40,296.20L462.80,296.16L463.20,296.11L463.60,296.06L464.00,296.00L464.40,295.94L464.80,295.88L465.20,295.84L465.60,295.81L466.00,295.80L466.40,295.81L466.80,295.84L467.20,295.88L467.60,295.94L468.00,296.00L468.40,296.06L468.80,296.11L469.20,296.16L469.60,296.20L470.00,296.23L470.40,296.26L470.80,296.27L471.20,296.28L471.60,296.29L472.00,296.29L472.40,296.30L472.80,296.30L473.20,296.30L473.60,296.30L474.00,296.29L474.40,296.28L474.80,296.26L475.20,296.20L475.60,296.11L476.00,296.00L476.40,295.88L476.80,295.81L477.20,295.81L477.60,295.88L478.00,296.00L478.40,296.11L478.80,296.20L479.20,296.26L479.60,296.28L480.00,296.29L480.40,296.30L480.80,296.30L480.80,296.30Z" fill="#e8a020" stroke="#e8a020" stroke-width="0.3" />
<line x1="350.00" y1="280.20" x2="350.00" y2="296.30" stroke="#1a1a1a" stroke-width="1.4" />
<line x1="346.60" y1="280.60" x2="350.00" y2="280.60" stroke="#1a1a1a" stroke-width="1.0" />
<line x1="346.60" y1="296.30" x2="350.00" y2="296.30" stroke="#1a1a1a" stroke-width="1.0" />
<line x1="350.00" y1="296.30" x2="482.30" y2="296.30" stroke="#1a1a1a" stroke-width="1.3" />
<text x="345.50" y="282.45" font-size="5.15" text-anchor="end" fill="#333">300</text>
<text x="345.50" y="297.30" font-size="5.15" text-anchor="end" fill="#333">0</text>
<path d="M350.80,316.30L350.80,316.30L351.20,316.30L351.60,316.30L352.00,316.30L352.40,316.30L352.80,316.30L353.20,316.30L353.60,316.30L354.00,316.30L354.40,316.30L354.80,316.30L355.20,316.30L355.60,316.30L356.00,316.30L356.40,316.30L356.80,316.30L357.20,316.30L357.60,316.30L358.00,316.30L358.40,316.30L358.80,316.30L359.20,316.30L359.60,316.30L360.00,316.30L360.40,316.30L360.80,316.30L361.20,316.30L361.60,316.30L362.00,316.30L362.40,316.30L362.80,316.30L363.20,316.30L363.60,316.30L364.00,316.30L364.40,316.30L364.80,316.30L365.20,316.30L365.60,316.30L366.00,316.30L366.40,316.30L366.80,316.30L367.20,316.30L367.60,316.30L368.00,316.30L368.40,316.30L368.80,316.30L369.20,316.30L369.60,316.30L370.00,316.30L370.40,316.30L370.80,316.30L371.20,316.30L371.60,316.30L372.00,316.30L372.40,316.30L372.80,316.30L373.20,316.30L373.60,316.30L374.00,316.30L374.40,316.30L374.80,316.30L375.20,316.30L375.60,316.30L376.00,316.30L376.40,316.30L376.80,316.30L377.20,316.30L377.60,316.30L378.00,316.30L378.40,316.30L378.80,316.30L379.20,316.30L379.60,316.30L380.00,316.30L380.40,316.30L380.80,316.30L381.20,316.30L381.60,316.30L382.00,316.30L382.40,316.30L382.80,316.30L383.20,316.30L383.60,316.30L384.00,316.30L384.40,316.30L384.80,316.30L385.20,316.30L385.60,316.30L386.00,316.30L386.40,316.30L386.80,316.30L387.20,316.30L387.60,316.30L388.00,316.30L388.40,316.30L388.80,316.30L389.20,316.30L389.60,316.30L390.00,316.30L390.40,316.30L390.80,316.30L391.20,316.30L391.60,316.30L392.00,316.30L392.40,316.30L392.80,316.30L393.20,316.30L393.60,316.30L394.00,316.30L394.40,316.30L394.80,316.30L395.20,316.30L395.60,316.30L396.00,316.30L396.40,316.30L396.80,316.30L397.20,316.30L397.60,316.30L398.00,316.30L398.40,316.30L398.80,316.30L399.20,316.30L399.60,316.30L400.00,316.30L400.40,316.29L400.80,316.26L401.20,316.19L401.60,316.04L402.00,315.78L402.40,315.42L402.80,315.04L403.20,314.73L403.60,314.61L404.00,314.64L404.40,314.73L404.80,314.74L405.20,314.62L405.60,314.46L406.00,314.43L406.40,314.61L406.80,314.99L407.20,315.42L407.60,315.80L408.00,316.06L408.40,316.20L408.80,316.26L409.20,316.29L409.60,316.30L410.00,316.30L410.40,316.30L410.80,316.30L411.20,316.30L411.60,316.30L412.00,316.30L412.40,316.30L412.80,316.30L413.20,316.30L413.60,316.30L414.00,316.30L414.40,316.28L414.80,316.22L415.20,316.05L415.60,315.82L416.00,315.70L416.40,315.82L416.80,316.05L417.20,316.22L417.60,316.28L418.00,316.30L418.40,316.30L418.80,316.30L419.20,316.29L419.60,316.22L420.00,316.00L420.40,315.57L420.80,315.16L421.20,315.16L421.60,315.57L422.00,316.00L422.40,316.19L422.80,316.12L423.20,315.81L423.60,315.34L424.00,315.10L424.40,315.34L424.80,315.81L425.20,316.14L425.60,316.27L426.00,316.30L426.40,316.30L426.80,316.30L427.20,316.30L427.60,316.30L428.00,316.30L428.40,316.30L428.80,316.30L429.20,316.30L429.60,316.30L430.00,316.30L430.40,316.30L430.80,316.30L431.20,316.30L431.60,316.30L432.00,316.30L432.40,316.30L432.80,316.30L433.20,316.30L433.60,316.30L434.00,316.30L434.40,316.30L434.80,316.30L435.20,316.30L435.60,316.30L436.00,316.30L436.40,316.30L436.80,316.30L437.20,316.29L437.60,316.28L438.00,316.25L438.40,316.19L438.80,316.11L439.20,316.01L439.60,315.93L440.00,315.90L440.40,315.93L440.80,316.01L441.20,316.11L441.60,316.19L442.00,316.25L442.40,316.28L442.80,316.29L443.20,316.30L443.60,316.30L444.00,316.30L444.40,316.30L444.80,316.30L445.20,316.30L445.60,316.30L446.00,316.30L446.40,316.30L446.80,316.30L447.20,316.30L447.60,316.30L448.00,316.30L448.40,316.30L448.80,316.30L449.20,316.30L449.60,316.30L450.00,316.30L450.40,316.30L450.80,316.30L451.20,316.30L451.60,316.30L452.00,316.30L452.40,316.30L452.80,316.30L453.20,316.30L453.60,316.30L454.00,316.30L454.40,316.30L454.80,316.30L455.20,316.30L455.60,316.30L456.00,316.30L456.40,316.30L456.80,316.30L457.20,316.30L457.60,316.30L458.00,316.30L458.40,316.30L458.80,316.30L459.20,316.30L459.60,316.30L460.00,316.30L460.40,316.30L460.80,316.30L461.20,316.30L461.60,316.30L462.00,316.30L462.40,316.30L462.80,316.30L463.20,316.30L463.60,316.30L464.00,316.30L464.40,316.28L464.80,316.22L465.20,316.02L465.60,315.54L466.00,314.70L466.40,313.66L466.80,312.91L467.20,312.91L467.60,313.66L468.00,314.70L468.40,315.54L468.80,316.02L469.20,316.22L469.60,316.28L470.00,316.30L470.40,316.30L470.80,316.30L471.20,316.30L471.60,316.30L472.00,316.30L472.40,316.30L472.80,316.30L473.20,316.30L473.60,316.30L474.00,316.30L474.40,316.30L474.80,316.30L475.20,316.30L475.60,316.30L476.00,316.30L476.40,316.30L476.80,316.30L477.20,316.30L477.60,316.30L478.00,316.30L478.40,316.30L478.80,316.30L479.20,316.30L479.60,316.30L480.00,316.30L480.40,316.30L480.80,316.30L480.80,316.30Z" fill="#e8a020" stroke="#e8a020" stroke-width="0.3" />
<line x1="350.00" y1="300.20" x2="350.00" y2="316.30" stroke="#1a1a1a" stroke-width="1.4" />
<line x1="346.60" y1="300.60" x2="350.00" y2="300.60" stroke="#1a1a1a" stroke-width="1.0" />
<line x1="346.60" y1="316.30" x2="350.00" y2="316.30" stroke="#1a1a1a" stroke-width="1.0" />
<line x1="350.00" y1="316.30" x2="482.30" y2="316.30" stroke="#1a1a1a" stroke-width="1.3" />
<text x="345.50" y="302.45" font-size="5.15" text-anchor="end" fill="#333">300</text>
<text x="345.50" y="317.30" font-size="5.15" text-anchor="end" fill="#333">0</text>
<path d="M350.80,336.20L350.80,336.20L351.20,336.20L351.60,335.85L352.00,335.97L352.40,335.93L352.80,335.95L353.20,336.20L353.60,336.20L354.00,336.20L354.40,336.20L354.80,336.20L355.20,336.02L355.60,336.20L356.00,336.20L356.40,336.20L356.80,335.87L357.20,335.93L357.60,336.20L358.00,336.09L358.40,336.01L358.80,336.20L359.20,336.20L359.60,336.20L360.00,335.89L360.40,336.17L360.80,336.20L361.20,336.20L361.60,336.20L362.00,336.20L362.40,336.20L362.80,335.94L363.20,336.20L363.60,336.03L364.00,336.15L364.40,336.20L364.80,336.20L365.20,336.20L365.60,336.02L366.00,336.20L366.40,336.20L366.80,336.20L367.20,335.98L367.60,335.97L368.00,336.20L368.40,336.20L368.80,336.20L369.20,336.20L369.60,336.20L370.00,336.20L370.40,336.14L370.80,336.20L371.20,336.20L371.60,336.20L372.00,336.07L372.40,336.04L372.80,336.04L373.20,336.20L373.60,335.85L374.00,336.20L374.40,336.20L374.80,336.20L375.20,336.20L375.60,336.20L376.00,336.20L376.40,336.09L376.80,336.08L377.20,336.20L377.60,336.20L378.00,336.20L378.40,336.11L378.80,336.20L379.20,336.20L379.60,336.20L380.00,336.20L380.40,336.19L380.80,336.06L381.20,336.19L381.60,335.93L382.00,336.17L382.40,336.00L382.80,335.87L383.20,336.12L383.60,336.10L384.00,336.06L384.40,335.87L384.80,335.96L385.20,335.92L385.60,335.53L386.00,335.79L386.40,335.71L386.80,335.32L387.20,335.55L387.60,335.41L388.00,335.22L388.40,335.05L388.80,335.27L389.20,335.23L389.60,334.97L390.00,335.18L390.40,335.17L390.80,335.16L391.20,335.15L391.60,335.14L392.00,335.10L392.40,334.97L392.80,334.89L393.20,334.80L393.60,334.33L394.00,334.22L394.40,334.11L394.80,334.02L395.20,333.83L395.60,333.69L396.00,333.50L396.40,333.47L396.80,333.54L397.20,333.56L397.60,333.59L398.00,333.36L398.40,333.65L398.80,333.66L399.20,333.43L399.60,333.76L400.00,333.76L400.40,333.71L400.80,334.09L401.20,334.12L401.60,334.07L402.00,334.54L402.40,334.65L402.80,334.51L403.20,334.77L403.60,334.79L404.00,334.78L404.40,334.49L404.80,334.79L405.20,334.84L405.60,334.89L406.00,335.03L406.40,335.17L406.80,335.33L407.20,335.49L407.60,335.64L408.00,335.74L408.40,335.89L408.80,335.99L409.20,336.06L409.60,335.83L410.00,336.14L410.40,336.17L410.80,336.18L411.20,335.94L411.60,336.19L412.00,336.15L412.40,335.91L412.80,336.20L413.20,336.20L413.60,336.20L414.00,336.20L414.40,336.02L414.80,336.20L415.20,336.20L415.60,335.90L416.00,335.99L416.40,336.20L416.80,336.03L417.20,336.02L417.60,336.19L418.00,336.19L418.40,336.18L418.80,336.17L419.20,336.14L419.60,336.11L420.00,336.06L420.40,335.78L420.80,335.70L421.20,335.61L421.60,335.71L422.00,335.59L422.40,335.41L422.80,335.36L423.20,335.28L423.60,335.05L424.00,335.20L424.40,335.03L424.80,335.11L425.20,335.36L425.60,335.47L426.00,335.36L426.40,335.70L426.80,335.80L427.20,335.78L427.60,335.93L428.00,335.96L428.40,335.95L428.80,335.92L429.20,335.87L429.60,335.79L430.00,335.70L430.40,335.61L430.80,335.53L431.20,335.46L431.60,335.29L432.00,335.40L432.40,335.42L432.80,335.46L433.20,335.48L433.60,335.62L434.00,335.71L434.40,335.47L434.80,335.58L435.20,335.98L435.60,336.04L436.00,336.09L436.40,336.05L436.80,336.16L437.20,336.17L437.60,336.18L438.00,336.19L438.40,336.19L438.80,336.19L439.20,336.19L439.60,335.94L440.00,335.93L440.40,336.17L440.80,336.16L441.20,336.13L441.60,335.92L442.00,336.02L442.40,336.00L442.80,335.98L443.20,335.93L443.60,335.89L444.00,335.73L444.40,335.52L444.80,335.80L445.20,335.80L445.60,335.82L446.00,335.85L446.40,335.89L446.80,335.92L447.20,335.98L447.60,336.03L448.00,336.07L448.40,336.11L448.80,336.13L449.20,336.16L449.60,335.91L450.00,336.18L450.40,336.19L450.80,336.19L451.20,336.15L451.60,335.85L452.00,336.20L452.40,335.93L452.80,336.00L453.20,336.20L453.60,336.20L454.00,336.20L454.40,336.20L454.80,336.20L455.20,336.11L455.60,336.20L456.00,336.20L456.40,336.20L456.80,335.89L457.20,336.20L457.60,336.20L458.00,336.08L458.40,336.20L458.80,336.20L459.20,336.20L459.60,336.20L460.00,336.19L460.40,336.19L460.80,335.84L461.20,336.17L461.60,336.14L462.00,336.08L462.40,335.96L462.80,335.70L463.20,335.24L463.60,334.50L464.00,333.54L464.40,332.54L464.80,331.79L465.20,331.51L465.60,331.34L466.00,331.89L466.40,331.53L466.80,330.01L467.20,327.79L467.60,327.24L468.00,328.58L468.40,330.28L468.80,331.31L469.20,331.46L469.60,330.09L470.00,327.70L470.40,325.76L470.80,327.11L471.20,329.98L471.60,332.16L472.00,332.58L472.40,331.23L472.80,329.72L473.20,329.83L473.60,331.85L474.00,334.02L474.40,334.89L474.80,334.57L475.20,334.56L475.60,334.23L476.00,333.89L476.40,334.26L476.80,334.72L477.20,335.21L477.60,335.53L478.00,335.92L478.40,336.08L478.80,336.16L479.20,336.16L479.60,336.18L480.00,336.20L480.40,336.20L480.80,336.20L480.80,336.20Z" fill="#1d4476" stroke="#142f55" stroke-width="0.3" />
<line x1="350.00" y1="320.10" x2="350.00" y2="336.20" stroke="#1a1a1a" stroke-width="1.4" />
<line x1="346.60" y1="320.50" x2="350.00" y2="320.50" stroke="#1a1a1a" stroke-width="1.0" />
<line x1="346.60" y1="336.20" x2="350.00" y2="336.20" stroke="#1a1a1a" stroke-width="1.0" />
<line x1="350.00" y1="336.20" x2="482.30" y2="336.20" stroke="#1a1a1a" stroke-width="1.3" />
<text x="345.50" y="322.35" font-size="5.15" text-anchor="end" fill="#333">50</text>
<text x="345.50" y="337.20" font-size="5.15" text-anchor="end" fill="#333">0</text>
<path d="M350.80,356.10L350.80,356.10L351.20,356.10L351.60,356.10L352.00,355.79L352.40,356.10L352.80,355.77L353.20,355.99L353.60,356.10L354.00,356.10L354.40,355.86L354.80,356.10L355.20,356.10L355.60,356.10L356.00,356.10L356.40,356.10L356.80,355.97L357.20,356.10L357.60,355.76L358.00,356.10L358.40,355.89L358.80,356.10L359.20,356.03L359.60,356.06L360.00,355.79L360.40,355.88L360.80,355.40L361.20,355.46L361.60,355.36L362.00,355.15L362.40,355.36L362.80,355.52L363.20,355.71L363.60,355.88L364.00,355.99L364.40,355.77L364.80,356.07L365.20,356.10L365.60,356.10L366.00,356.10L366.40,356.10L366.80,356.10L367.20,355.88L367.60,356.10L368.00,356.05L368.40,355.86L368.80,356.10L369.20,356.10L369.60,356.05L370.00,356.10L370.40,356.10L370.80,355.90L371.20,356.10L371.60,356.10L372.00,356.10L372.40,355.93L372.80,356.10L373.20,356.08L373.60,356.06L374.00,355.99L374.40,355.88L374.80,355.45L375.20,355.52L375.60,355.36L376.00,355.30L376.40,355.36L376.80,355.52L377.20,355.70L377.60,355.88L378.00,355.95L378.40,356.05L378.80,356.08L379.20,355.90L379.60,355.76L380.00,355.68L380.40,355.91L380.80,355.62L381.20,355.59L381.60,355.45L382.00,355.27L382.40,355.42L382.80,355.59L383.20,355.76L383.60,355.71L384.00,356.01L384.40,356.06L384.80,356.06L385.20,356.10L385.60,356.04L386.00,356.10L386.40,355.85L386.80,356.10L387.20,355.92L387.60,355.78L388.00,355.91L388.40,355.91L388.80,355.61L389.20,355.59L389.60,355.35L390.00,355.40L390.40,355.45L390.80,355.42L391.20,355.59L391.60,355.91L392.00,356.01L392.40,355.95L392.80,356.09L393.20,356.10L393.60,356.10L394.00,356.08L394.40,356.05L394.80,356.10L395.20,356.09L395.60,355.75L396.00,356.01L396.40,355.91L396.80,355.76L397.20,355.28L397.60,355.45L398.00,355.40L398.40,355.16L398.80,355.59L399.20,355.46L399.60,355.91L400.00,355.76L400.40,356.06L400.80,356.09L401.20,355.76L401.60,356.07L402.00,356.10L402.40,356.10L402.80,355.96L403.20,356.10L403.60,355.78L404.00,356.10L404.40,356.10L404.80,356.10L405.20,355.75L405.60,355.77L406.00,356.10L406.40,356.10L406.80,355.92L407.20,355.94L407.60,356.10L408.00,356.10L408.40,356.04L408.80,356.10L409.20,356.03L409.60,356.10L410.00,356.10L410.40,356.10L410.80,355.80L411.20,356.10L411.60,356.02L412.00,356.10L412.40,355.95L412.80,355.93L413.20,356.10L413.60,356.10L414.00,355.95L414.40,356.10L414.80,356.10L415.20,356.10L415.60,355.77L416.00,355.93L416.40,356.09L416.80,355.90L417.20,355.80L417.60,355.81L418.00,355.84L418.40,355.82L418.80,355.50L419.20,355.07L419.60,355.18L420.00,354.90L420.40,354.87L420.80,355.37L421.20,355.54L421.60,355.55L422.00,355.78L422.40,356.01L422.80,355.77L423.20,355.90L423.60,355.72L424.00,355.49L424.40,355.26L424.80,355.12L425.20,355.12L425.60,355.26L426.00,355.29L426.40,355.72L426.80,355.90L427.20,356.01L427.60,355.93L428.00,356.09L428.40,356.10L428.80,356.10L429.20,356.10L429.60,355.83L430.00,356.10L430.40,356.10L430.80,356.01L431.20,356.10L431.60,356.10L432.00,355.80L432.40,356.10L432.80,356.10L433.20,356.10L433.60,356.07L434.00,356.10L434.40,356.10L434.80,355.75L435.20,356.10L435.60,356.10L436.00,356.10L436.40,356.10L436.80,356.00L437.20,355.79L437.60,355.86L438.00,356.10L438.40,355.94L438.80,356.10L439.20,356.10L439.60,356.10L440.00,356.10L440.40,356.10L440.80,355.79L441.20,356.10L441.60,356.10L442.00,355.83L442.40,356.10L442.80,356.10L443.20,356.10L443.60,356.10L444.00,356.10L444.40,356.10L444.80,356.10L445.20,356.09L445.60,356.07L446.00,356.03L446.40,355.96L446.80,355.55L447.20,355.74L447.60,355.64L448.00,355.60L448.40,355.64L448.80,355.74L449.20,355.86L449.60,355.96L450.00,356.03L450.40,356.07L450.80,356.09L451.20,356.10L451.60,356.10L452.00,356.10L452.40,356.10L452.80,356.10L453.20,356.00L453.60,355.77L454.00,356.10L454.40,356.10L454.80,356.10L455.20,356.10L455.60,356.10L456.00,355.95L456.40,355.99L456.80,356.00L457.20,356.10L457.60,355.77L458.00,356.10L458.40,355.81L458.80,355.88L459.20,356.10L459.60,356.10L460.00,356.10L460.40,356.10L460.80,356.10L461.20,356.10L461.60,356.06L462.00,355.84L462.40,356.10L462.80,356.09L463.20,356.06L463.60,355.98L464.00,355.80L464.40,355.49L464.80,355.03L465.20,354.50L465.60,354.07L466.00,353.58L466.40,354.01L466.80,354.49L467.20,354.82L467.60,355.33L468.00,355.19L468.40,355.20L468.80,354.65L469.20,354.05L469.60,353.51L470.00,353.30L470.40,353.51L470.80,354.05L471.20,354.69L471.60,355.09L472.00,355.17L472.40,355.28L472.80,354.84L473.20,354.04L473.60,353.88L474.00,353.45L474.40,353.88L474.80,354.25L475.20,354.93L475.60,355.43L476.00,355.78L476.40,355.97L476.80,356.05L477.20,356.02L477.60,355.98L478.00,356.10L478.40,356.10L478.80,356.00L479.20,356.10L479.60,356.10L480.00,355.90L480.40,356.10L480.80,356.10L480.80,356.10Z" fill="#1d4476" stroke="#142f55" stroke-width="0.3" />
<line x1="350.00" y1="340.00" x2="350.00" y2="356.10" stroke="#1a1a1a" stroke-width="1.4" />
<line x1="346.60" y1="340.40" x2="350.00" y2="340.40" stroke="#1a1a1a" stroke-width="1.0" />
<line x1="346.60" y1="356.10" x2="350.00" y2="356.10" stroke="#1a1a1a" stroke-width="1.0" />
<line x1="350.00" y1="356.10" x2="482.30" y2="356.10" stroke="#1a1a1a" stroke-width="1.3" />
<text x="345.50" y="342.25" font-size="5.15" text-anchor="end" fill="#333">50</text>
<text x="345.50" y="357.10" font-size="5.15" text-anchor="end" fill="#333">0</text>
<path d="M350.80,376.10L350.80,376.10L351.20,376.10L351.60,376.10L352.00,376.10L352.40,376.10L352.80,376.10L353.20,376.10L353.60,376.10L354.00,376.10L354.40,376.10L354.80,376.10L355.20,376.10L355.60,376.10L356.00,376.10L356.40,376.10L356.80,376.10L357.20,376.10L357.60,376.10L358.00,376.10L358.40,376.10L358.80,376.10L359.20,376.10L359.60,376.10L360.00,376.10L360.40,376.10L360.80,376.10L361.20,376.10L361.60,376.10L362.00,376.10L362.40,376.10L362.80,376.10L363.20,376.10L363.60,376.10L364.00,376.10L364.40,376.10L364.80,376.10L365.20,376.10L365.60,376.10L366.00,376.10L366.40,376.10L366.80,376.10L367.20,376.10L367.60,376.10L368.00,376.10L368.40,376.10L368.80,376.10L369.20,376.10L369.60,376.10L370.00,376.10L370.40,376.10L370.80,376.10L371.20,376.10L371.60,376.10L372.00,376.10L372.40,376.10L372.80,376.10L373.20,376.10L373.60,376.10L374.00,376.10L374.40,376.10L374.80,376.10L375.20,376.10L375.60,376.10L376.00,376.10L376.40,376.10L376.80,376.10L377.20,376.10L377.60,376.10L378.00,376.10L378.40,376.10L378.80,376.10L379.20,376.10L379.60,376.10L380.00,376.10L380.40,376.10L380.80,376.10L381.20,376.10L381.60,376.10L382.00,376.10L382.40,376.10L382.80,376.10L383.20,376.10L383.60,376.10L384.00,376.10L384.40,376.10L384.80,376.10L385.20,376.09L385.60,376.08L386.00,376.07L386.40,376.04L386.80,375.99L387.20,375.93L387.60,375.83L388.00,375.70L388.40,375.54L388.80,375.34L389.20,375.13L389.60,374.92L390.00,374.73L390.40,374.58L390.80,374.51L391.20,374.50L391.60,374.57L392.00,374.70L392.40,374.87L392.80,375.05L393.20,375.21L393.60,375.32L394.00,375.38L394.40,375.36L394.80,375.26L395.20,375.09L395.60,374.87L396.00,374.61L396.40,374.34L396.80,374.09L397.20,373.88L397.60,373.75L398.00,373.70L398.40,373.75L398.80,373.88L399.20,374.09L399.60,374.36L400.00,374.64L400.40,374.93L400.80,375.19L401.20,375.42L401.60,375.60L402.00,375.73L402.40,375.81L402.80,375.84L403.20,375.82L403.60,375.75L404.00,375.63L404.40,375.45L404.80,375.22L405.20,374.93L405.60,374.59L406.00,374.21L406.40,373.82L406.80,373.43L407.20,373.08L407.60,372.79L408.00,372.59L408.40,372.50L408.80,372.53L409.20,372.68L409.60,372.92L410.00,373.25L410.40,373.62L410.80,374.02L411.20,374.40L411.60,374.77L412.00,375.08L412.40,375.35L412.80,375.57L413.20,375.73L413.60,375.85L414.00,375.93L414.40,375.98L414.80,376.00L415.20,376.00L415.60,375.96L416.00,375.89L416.40,375.77L416.80,375.60L417.20,375.36L417.60,375.04L418.00,374.64L418.40,374.17L418.80,373.64L419.20,373.10L419.60,372.57L420.00,372.11L420.40,371.77L420.80,371.56L421.20,371.50L421.60,371.59L422.00,371.78L422.40,372.04L422.80,372.32L423.20,372.58L423.60,372.80L424.00,372.99L424.40,373.17L424.80,373.38L425.20,373.62L425.60,373.92L426.00,374.26L426.40,374.62L426.80,374.97L427.20,375.29L427.60,375.55L428.00,375.75L428.40,375.89L428.80,375.98L429.20,376.04L429.60,376.07L430.00,376.08L430.40,376.09L430.80,376.10L431.20,376.10L431.60,376.10L432.00,376.10L432.40,376.10L432.80,376.10L433.20,376.10L433.60,376.10L434.00,376.10L434.40,376.10L434.80,376.10L435.20,376.10L435.60,376.10L436.00,376.10L436.40,376.10L436.80,376.10L437.20,376.10L437.60,376.10L438.00,376.10L438.40,376.10L438.80,376.10L439.20,376.10L439.60,376.10L440.00,376.10L440.40,376.10L440.80,376.10L441.20,376.10L441.60,376.10L442.00,376.10L442.40,376.10L442.80,376.10L443.20,376.10L443.60,376.10L444.00,376.10L444.40,376.10L444.80,376.10L445.20,376.10L445.60,376.10L446.00,376.10L446.40,376.10L446.80,376.10L447.20,376.10L447.60,376.10L448.00,376.10L448.40,376.10L448.80,376.10L449.20,376.10L449.60,376.10L450.00,376.10L450.40,376.10L450.80,376.10L451.20,376.10L451.60,376.10L452.00,376.10L452.40,376.10L452.80,376.10L453.20,376.10L453.60,376.10L454.00,376.10L454.40,376.10L454.80,376.10L455.20,376.10L455.60,376.10L456.00,376.10L456.40,376.10L456.80,376.10L457.20,376.10L457.60,376.10L458.00,376.10L458.40,376.10L458.80,376.10L459.20,376.10L459.60,376.10L460.00,376.09L460.40,376.08L460.80,376.06L461.20,376.03L461.60,375.97L462.00,375.88L462.40,375.75L462.80,375.57L463.20,375.33L463.60,375.02L464.00,374.67L464.40,374.28L464.80,373.89L465.20,373.52L465.60,373.20L466.00,372.95L466.40,372.77L466.80,372.65L467.20,372.58L467.60,372.54L468.00,372.50L468.40,372.46L468.80,372.41L469.20,372.38L469.60,372.37L470.00,372.41L470.40,372.50L470.80,372.64L471.20,372.80L471.60,372.98L472.00,373.13L472.40,373.23L472.80,373.26L473.20,373.22L473.60,373.11L474.00,372.96L474.40,372.80L474.80,372.68L475.20,372.63L475.60,372.67L476.00,372.82L476.40,373.07L476.80,373.40L477.20,373.78L477.60,374.19L478.00,374.58L478.40,374.94L478.80,375.25L479.20,375.50L479.60,375.70L480.00,375.84L480.40,375.94L480.80,376.00L480.80,376.10Z" fill="#958cc8" stroke="#958cc8" stroke-width="0.3" />
<line x1="350.00" y1="360.00" x2="350.00" y2="376.10" stroke="#1a1a1a" stroke-width="1.4" />
<line x1="346.60" y1="360.40" x2="350.00" y2="360.40" stroke="#1a1a1a" stroke-width="1.0" />
<line x1="346.60" y1="376.10" x2="350.00" y2="376.10" stroke="#1a1a1a" stroke-width="1.0" />
<line x1="350.00" y1="376.10" x2="482.30" y2="376.10" stroke="#1a1a1a" stroke-width="1.3" />
<text x="345.50" y="362.25" font-size="5.15" text-anchor="end" fill="#333">50</text>
<text x="345.50" y="377.10" font-size="5.15" text-anchor="end" fill="#333">0</text>
<path d="M350.80,396.20L350.80,396.20L351.20,396.20L351.60,396.20L352.00,396.20L352.40,396.20L352.80,396.20L353.20,396.20L353.60,396.20L354.00,396.20L354.40,396.20L354.80,396.20L355.20,396.20L355.60,396.20L356.00,396.20L356.40,396.20L356.80,396.20L357.20,396.20L357.60,396.20L358.00,396.20L358.40,396.20L358.80,396.20L359.20,396.20L359.60,396.20L360.00,396.20L360.40,396.20L360.80,396.20L361.20,396.20L361.60,396.20L362.00,396.20L362.40,396.20L362.80,396.20L363.20,396.20L363.60,396.20L364.00,396.20L364.40,396.20L364.80,396.20L365.20,396.20L365.60,396.20L366.00,396.20L366.40,396.20L366.80,396.20L367.20,396.20L367.60,396.20L368.00,396.20L368.40,396.20L368.80,396.20L369.20,396.20L369.60,396.20L370.00,396.20L370.40,396.20L370.80,396.20L371.20,396.20L371.60,396.20L372.00,396.20L372.40,396.20L372.80,396.20L373.20,396.20L373.60,396.20L374.00,396.20L374.40,396.20L374.80,396.20L375.20,396.20L375.60,396.20L376.00,396.20L376.40,396.20L376.80,396.20L377.20,396.20L377.60,396.20L378.00,396.20L378.40,396.20L378.80,396.20L379.20,396.20L379.60,396.20L380.00,396.20L380.40,396.20L380.80,396.20L381.20,396.20L381.60,396.20L382.00,396.20L382.40,396.20L382.80,396.20L383.20,396.20L383.60,396.19L384.00,396.19L384.40,396.18L384.80,396.16L385.20,396.13L385.60,396.09L386.00,396.03L386.40,395.95L386.80,395.84L387.20,395.71L387.60,395.53L388.00,395.33L388.40,395.11L388.80,394.87L389.20,394.63L389.60,394.40L390.00,394.22L390.40,394.08L390.80,394.01L391.20,394.00L391.60,394.07L392.00,394.19L392.40,394.36L392.80,394.56L393.20,394.75L393.60,394.93L394.00,395.06L394.40,395.14L394.80,395.15L395.20,395.09L395.60,394.98L396.00,394.82L396.40,394.64L396.80,394.46L397.20,394.31L397.60,394.22L398.00,394.19L398.40,394.23L398.80,394.35L399.20,394.53L399.60,394.75L400.00,394.99L400.40,395.23L400.80,395.45L401.20,395.64L401.60,395.79L402.00,395.91L402.40,395.98L402.80,396.02L403.20,396.01L403.60,395.95L404.00,395.84L404.40,395.67L404.80,395.44L405.20,395.12L405.60,394.73L406.00,394.28L406.40,393.78L406.80,393.27L407.20,392.80L407.60,392.40L408.00,392.13L408.40,392.01L408.80,392.05L409.20,392.25L409.60,392.59L410.00,393.03L410.40,393.53L410.80,394.03L411.20,394.51L411.60,394.94L412.00,395.29L412.40,395.57L412.80,395.78L413.20,395.93L413.60,396.04L414.00,396.10L414.40,396.14L414.80,396.15L415.20,396.15L415.60,396.11L416.00,396.04L416.40,395.92L416.80,395.73L417.20,395.44L417.60,395.06L418.00,394.60L418.40,394.08L418.80,393.56L419.20,393.11L419.60,392.81L420.00,392.70L420.40,392.81L420.80,393.11L421.20,393.56L421.60,394.08L422.00,394.60L422.40,395.06L422.80,395.44L423.20,395.73L423.60,395.92L424.00,396.05L424.40,396.12L424.80,396.16L425.20,396.18L425.60,396.19L426.00,396.20L426.40,396.20L426.80,396.20L427.20,396.20L427.60,396.20L428.00,396.20L428.40,396.20L428.80,396.20L429.20,396.20L429.60,396.20L430.00,396.20L430.40,396.20L430.80,396.20L431.20,396.20L431.60,396.20L432.00,396.20L432.40,396.20L432.80,396.20L433.20,396.20L433.60,396.20L434.00,396.20L434.40,396.20L434.80,396.20L435.20,396.20L435.60,396.20L436.00,396.20L436.40,396.20L436.80,396.20L437.20,396.20L437.60,396.20L438.00,396.20L438.40,396.20L438.80,396.20L439.20,396.20L439.60,396.20L440.00,396.20L440.40,396.20L440.80,396.20L441.20,396.20L441.60,396.20L442.00,396.20L442.40,396.20L442.80,396.20L443.20,396.20L443.60,396.20L444.00,396.20L444.40,396.20L444.80,396.20L445.20,396.20L445.60,396.20L446.00,396.20L446.40,396.20L446.80,396.20L447.20,396.20L447.60,396.20L448.00,396.20L448.40,396.20L448.80,396.20L449.20,396.20L449.60,396.20L450.00,396.20L450.40,396.20L450.80,396.20L451.20,396.20L451.60,396.20L452.00,396.20L452.40,396.20L452.80,396.20L453.20,396.20L453.60,396.20L454.00,396.20L454.40,396.20L454.80,396.20L455.20,396.20L455.60,396.20L456.00,396.20L456.40,396.20L456.80,396.20L457.20,396.20L457.60,396.20L458.00,396.20L458.40,396.20L458.80,396.20L459.20,396.20L459.60,396.20L460.00,396.20L460.40,396.20L460.80,396.20L461.20,396.20L461.60,396.20L462.00,396.20L462.40,396.20L462.80,396.20L463.20,396.19L463.60,396.19L464.00,396.18L464.40,396.16L464.80,396.13L465.20,396.09L465.60,396.02L466.00,395.93L466.40,395.80L466.80,395.64L467.20,395.44L467.60,395.21L468.00,394.96L468.40,394.70L468.80,394.43L469.20,394.19L469.60,393.97L470.00,393.76L470.40,393.57L470.80,393.36L471.20,393.12L471.60,392.83L472.00,392.47L472.40,392.06L472.80,391.62L473.20,391.19L473.60,390.83L474.00,390.57L474.40,390.44L474.80,390.43L475.20,390.46L475.60,390.49L476.00,390.51L476.40,390.60L476.80,390.90L477.20,391.54L477.60,392.46L478.00,393.49L478.40,394.44L478.80,395.16L479.20,395.63L479.60,395.90L480.00,396.05L480.40,396.12L480.80,396.16L480.80,396.20Z" fill="#958cc8" stroke="#958cc8" stroke-width="0.3" />
<line x1="350.00" y1="380.10" x2="350.00" y2="396.20" stroke="#1a1a1a" stroke-width="1.4" />
<line x1="346.60" y1="380.50" x2="350.00" y2="380.50" stroke="#1a1a1a" stroke-width="1.0" />
<line x1="346.60" y1="396.20" x2="350.00" y2="396.20" stroke="#1a1a1a" stroke-width="1.0" />
<line x1="350.00" y1="396.20" x2="482.30" y2="396.20" stroke="#1a1a1a" stroke-width="1.3" />
<text x="345.50" y="382.35" font-size="5.15" text-anchor="end" fill="#333">50</text>
<text x="345.50" y="397.20" font-size="5.15" text-anchor="end" fill="#333">0</text>
<text x="90.60" y="237.10" font-size="7.0" text-anchor="middle" fill="#222" font-style="italic">Tnf</text>
<text x="249.00" y="237.10" font-size="7.0" text-anchor="middle" fill="#222" font-style="italic">Nfkbil1</text>
<text x="415.50" y="237.10" font-size="7.0" text-anchor="middle" fill="#222" font-style="italic">Lst1</text>
<line x1="33.20" y1="400.60" x2="64.20" y2="400.60" stroke="#6172c0" stroke-width="0.8" />
<line x1="80.80" y1="400.60" x2="138.30" y2="400.60" stroke="#8a8a8a" stroke-width="0.7" />
<rect x="64.20" y="399.75" width="16.60" height="1.70" fill="#3567a6" stroke="none" stroke-width="1" />
<rect x="123.80" y="399.75" width="8.10" height="1.70" fill="#3567a6" stroke="none" stroke-width="1" />
<circle cx="102.50" cy="400.60" r="0.75" fill="#2a3a5a" />
<text x="138.80" y="402.20" font-size="4.6" fill="#333" font-style="italic">Tnf</text>
<line x1="33.20" y1="406.70" x2="64.20" y2="406.70" stroke="#6172c0" stroke-width="0.8" />
<line x1="80.80" y1="406.70" x2="138.30" y2="406.70" stroke="#8a8a8a" stroke-width="0.7" />
<rect x="64.20" y="405.85" width="16.60" height="1.70" fill="#3567a6" stroke="none" stroke-width="1" />
<rect x="123.80" y="405.85" width="8.10" height="1.70" fill="#3567a6" stroke="none" stroke-width="1" />
<circle cx="102.50" cy="406.70" r="0.75" fill="#2a3a5a" />
<circle cx="93.00" cy="406.70" r="0.60" fill="#555" />
<text x="138.80" y="408.30" font-size="4.6" fill="#333" font-style="italic">Tnf</text>
<line x1="199.80" y1="400.40" x2="296.50" y2="400.40" stroke="#6a6a6a" stroke-width="0.6" />
<rect x="199.80" y="399.60" width="6.00" height="1.60" fill="#2d5d9a" stroke="none" stroke-width="1" />
<path d="M295.4,399.2 L297.4,400.4 L295.4,401.6" fill="none" stroke="#444" stroke-width="0.5" />
<circle cx="296.50" cy="400.40" r="0.70" fill="#2d4d8a" />
<text x="298.60" y="402.00" font-size="4.6" fill="#333">Nfkbil1</text>
<line x1="199.80" y1="406.30" x2="296.50" y2="406.30" stroke="#6a6a6a" stroke-width="0.6" />
<rect x="199.80" y="405.50" width="6.00" height="1.60" fill="#2d5d9a" stroke="none" stroke-width="1" />
<path d="M298.8,405.1 L300.8,406.3 L298.8,407.5" fill="none" stroke="#444" stroke-width="0.5" />
<circle cx="296.50" cy="406.30" r="0.70" fill="#2d4d8a" />
<text x="302.00" y="407.90" font-size="4.6" fill="#333">Nfkbil1</text>
<line x1="363.70" y1="400.20" x2="473.20" y2="400.20" stroke="#333" stroke-width="0.6" />
<rect x="363.70" y="399.20" width="7.30" height="2.00" fill="#2d5d9a" stroke="none" stroke-width="1" />
<rect x="425.00" y="399.20" width="3.00" height="2.00" fill="#2d5d9a" stroke="none" stroke-width="1" />
<path d="M471,398.6 L474,400.2 L471,401.8" fill="none" stroke="#333" stroke-width="0.5" />
<text x="475.20" y="401.60" font-size="4.6" fill="#333">Lst1</text>
<line x1="23.00" y1="411.70" x2="155.00" y2="411.70" stroke="#222" stroke-width="1.0" />
<line x1="25.70" y1="411.70" x2="25.70" y2="414.40" stroke="#222" stroke-width="0.9" />
<text transform="translate(30.10,419.0) rotate(-45)" font-size="5.5" text-anchor="end" fill="#333">35,336</text>
<line x1="45.70" y1="411.70" x2="45.70" y2="414.40" stroke="#222" stroke-width="0.9" />
<text transform="translate(50.10,419.0) rotate(-45)" font-size="5.5" text-anchor="end" fill="#333">35,336</text>
<line x1="65.80" y1="411.70" x2="65.80" y2="414.40" stroke="#222" stroke-width="0.9" />
<text transform="translate(70.20,419.0) rotate(-45)" font-size="5.5" text-anchor="end" fill="#333">35,337</text>
<line x1="86.00" y1="411.70" x2="86.00" y2="414.40" stroke="#222" stroke-width="0.9" />
<text transform="translate(90.40,419.0) rotate(-45)" font-size="5.5" text-anchor="end" fill="#333">35,338</text>
<line x1="106.40" y1="411.70" x2="106.40" y2="414.40" stroke="#222" stroke-width="0.9" />
<text transform="translate(110.80,419.0) rotate(-45)" font-size="5.5" text-anchor="end" fill="#333">35,338</text>
<line x1="126.60" y1="411.70" x2="126.60" y2="414.40" stroke="#222" stroke-width="0.9" />
<text transform="translate(131.00,419.0) rotate(-45)" font-size="5.5" text-anchor="end" fill="#333">35,338</text>
<line x1="146.80" y1="411.70" x2="146.80" y2="414.40" stroke="#222" stroke-width="0.9" />
<text transform="translate(151.20,419.0) rotate(-45)" font-size="5.5" text-anchor="end" fill="#333">35,339</text>
<text transform="translate(159.00,418.6) rotate(-45)" font-size="5.5" text-anchor="end" fill="#333">Kb</text>
<text x="88.60" y="437.20" font-size="5.6" text-anchor="middle" fill="#222">chr17</text>
<line x1="188.00" y1="411.70" x2="314.80" y2="411.70" stroke="#222" stroke-width="1.0" />
<line x1="190.20" y1="411.70" x2="190.20" y2="414.40" stroke="#222" stroke-width="0.9" />
<text transform="translate(194.60,419.0) rotate(-45)" font-size="5.5" text-anchor="end" fill="#333">35,355</text>
<line x1="205.60" y1="411.70" x2="205.60" y2="414.40" stroke="#222" stroke-width="0.9" />
<text transform="translate(210.00,419.0) rotate(-45)" font-size="5.5" text-anchor="end" fill="#333">35,358</text>
<line x1="221.00" y1="411.70" x2="221.00" y2="414.40" stroke="#222" stroke-width="0.9" />
<text transform="translate(225.40,419.0) rotate(-45)" font-size="5.5" text-anchor="end" fill="#333">35,360</text>
<line x1="236.60" y1="411.70" x2="236.60" y2="414.40" stroke="#222" stroke-width="0.9" />
<text transform="translate(241.00,419.0) rotate(-45)" font-size="5.5" text-anchor="end" fill="#333">35,362</text>
<line x1="251.40" y1="411.70" x2="251.40" y2="414.40" stroke="#222" stroke-width="0.9" />
<text transform="translate(255.80,419.0) rotate(-45)" font-size="5.5" text-anchor="end" fill="#333">35,365</text>
<line x1="266.80" y1="411.70" x2="266.80" y2="414.40" stroke="#222" stroke-width="0.9" />
<text transform="translate(271.20,419.0) rotate(-45)" font-size="5.5" text-anchor="end" fill="#333">35,368</text>
<line x1="281.90" y1="411.70" x2="281.90" y2="414.40" stroke="#222" stroke-width="0.9" />
<text transform="translate(286.30,419.0) rotate(-45)" font-size="5.5" text-anchor="end" fill="#333">35,370</text>
<line x1="297.20" y1="411.70" x2="297.20" y2="414.40" stroke="#222" stroke-width="0.9" />
<text transform="translate(301.60,419.0) rotate(-45)" font-size="5.5" text-anchor="end" fill="#333">35,372</text>
<line x1="312.20" y1="411.70" x2="312.20" y2="414.40" stroke="#222" stroke-width="0.9" />
<text transform="translate(316.60,419.0) rotate(-45)" font-size="5.5" text-anchor="end" fill="#333">35,375</text>
<text transform="translate(322.00,418.6) rotate(-45)" font-size="5.5" text-anchor="end" fill="#333">Kb</text>
<text x="244.70" y="437.20" font-size="5.6" text-anchor="middle" fill="#222">chr17</text>
<line x1="352.20" y1="411.70" x2="482.80" y2="411.70" stroke="#222" stroke-width="1.0" />
<line x1="362.30" y1="411.70" x2="362.30" y2="414.40" stroke="#222" stroke-width="0.9" />
<text transform="translate(366.70,419.0) rotate(-45)" font-size="5.5" text-anchor="end" fill="#333">35,322</text>
<line x1="379.00" y1="411.70" x2="379.00" y2="414.40" stroke="#222" stroke-width="0.9" />
<text transform="translate(383.40,419.0) rotate(-45)" font-size="5.5" text-anchor="end" fill="#333">35,322</text>
<line x1="395.40" y1="411.70" x2="395.40" y2="414.40" stroke="#222" stroke-width="0.9" />
<text transform="translate(399.80,419.0) rotate(-45)" font-size="5.5" text-anchor="end" fill="#333">35,323</text>
<line x1="412.70" y1="411.70" x2="412.70" y2="414.40" stroke="#222" stroke-width="0.9" />
<text transform="translate(417.10,419.0) rotate(-45)" font-size="5.5" text-anchor="end" fill="#333">35,324</text>
<line x1="429.10" y1="411.70" x2="429.10" y2="414.40" stroke="#222" stroke-width="0.9" />
<text transform="translate(433.50,419.0) rotate(-45)" font-size="5.5" text-anchor="end" fill="#333">35,324</text>
<line x1="445.90" y1="411.70" x2="445.90" y2="414.40" stroke="#222" stroke-width="0.9" />
<text transform="translate(450.30,419.0) rotate(-45)" font-size="5.5" text-anchor="end" fill="#333">35,324</text>
<line x1="462.00" y1="411.70" x2="462.00" y2="414.40" stroke="#222" stroke-width="0.9" />
<text transform="translate(466.40,419.0) rotate(-45)" font-size="5.5" text-anchor="end" fill="#333">35,325</text>
<line x1="478.40" y1="411.70" x2="478.40" y2="414.40" stroke="#222" stroke-width="0.9" />
<text transform="translate(482.80,419.0) rotate(-45)" font-size="5.5" text-anchor="end" fill="#333">35,326</text>
<text transform="translate(491.50,418.6) rotate(-45)" font-size="5.5" text-anchor="end" fill="#333">Kb</text>
<text x="405.50" y="437.20" font-size="5.6" text-anchor="middle" fill="#222">chr17</text>
<path d="M483.0,245.4 L485.5,245.4 L485.5,275.8 L483.0,275.8" fill="none" stroke="#222" stroke-width="0.8" />
<text transform="translate(493.4,257.0) rotate(-90)" font-size="5.0" text-anchor="middle" fill="#333">LSK</text>
<text transform="translate(500.2,257.0) rotate(-90)" font-size="5.0" text-anchor="middle" fill="#333" font-style="italic">Etv6<tspan font-size="3.8" dy="-1.7">+/+</tspan></text>
<path d="M483.0,285.5 L485.5,285.5 L485.5,316.4 L483.0,316.4" fill="none" stroke="#222" stroke-width="0.8" />
<text transform="translate(493.4,297.3) rotate(-90)" font-size="5.0" text-anchor="middle" fill="#333">LSK</text>
<text transform="translate(500.2,297.3) rotate(-90)" font-size="5.0" text-anchor="middle" fill="#333" font-style="italic">Etv6<tspan font-size="3.8" dy="-1.7">R355X/+</tspan></text>
<path d="M483.0,325.0 L485.5,325.0 L485.5,356.4 L483.0,356.4" fill="none" stroke="#222" stroke-width="0.8" />
<text transform="translate(493.4,337.1) rotate(-90)" font-size="5.0" text-anchor="middle" fill="#333">HPC5</text>
<text transform="translate(500.2,337.1) rotate(-90)" font-size="5.0" text-anchor="middle" fill="#333" font-style="italic">Etv6<tspan font-size="3.8" dy="-1.7">+/+</tspan></text>
<path d="M483.0,365.0 L485.5,365.0 L485.5,396.4 L483.0,396.4" fill="none" stroke="#222" stroke-width="0.8" />
<text transform="translate(493.4,377.1) rotate(-90)" font-size="5.0" text-anchor="middle" fill="#333">HPC5</text>
<text transform="translate(500.2,377.1) rotate(-90)" font-size="5.0" text-anchor="middle" fill="#333" font-style="italic">Etv6<tspan font-size="3.8" dy="-1.7">+/+</tspan></text>
<line x1="505.50" y1="245.20" x2="505.50" y2="360.00" stroke="#222" stroke-width="0.8" />
<line x1="505.50" y1="363.60" x2="505.50" y2="396.40" stroke="#222" stroke-width="0.8" />
<text x="511.60" y="285.60" font-size="5.2" text-anchor="middle" fill="#333">C</text>
<text x="511.60" y="291.95" font-size="5.2" text-anchor="middle" fill="#333">U</text>
<text x="511.60" y="298.30" font-size="5.2" text-anchor="middle" fill="#333">T</text>
<text x="511.60" y="304.65" font-size="5.2" text-anchor="middle" fill="#333">&amp;</text>
<text x="511.60" y="311.00" font-size="5.2" text-anchor="middle" fill="#333">R</text>
<text x="511.60" y="317.35" font-size="5.2" text-anchor="middle" fill="#333">U</text>
<text x="511.60" y="323.70" font-size="5.2" text-anchor="middle" fill="#333">N</text>
<text x="511.60" y="372.90" font-size="5.2" text-anchor="middle" fill="#333">A</text>
<text x="511.60" y="379.25" font-size="5.2" text-anchor="middle" fill="#333">T</text>
<text x="511.60" y="385.60" font-size="5.2" text-anchor="middle" fill="#333">A</text>
<text x="511.60" y="391.95" font-size="5.2" text-anchor="middle" fill="#333">C</text>
<g transform="translate(47.50,458.20) scale(1.000)">
<path d="M16.5,11.5 C20,9.5 23,5.5 26.5,4.8 C29.5,4.3 30.8,6.5 29.2,9.6" fill="none" stroke="#c98f94" stroke-width="0.9" />
<path d="M1.0,17 L0.4,22.0 L3.0,22.0 L3.8,17.5 Z M10.0,18 L10.6,22.8 L13.2,22.8 L12.8,17.5 Z" fill="#8e7f80" stroke="none" stroke-width="1" />
<path d="M-5.3,6.2 L0,0 L2.2,2.8 C3.5,1.2 6,0.6 8.5,0.9 C11.5,1.2 14.5,3.5 16.2,6.8 C17.8,9.5 18.6,12.5 17.3,14.9 C16.4,17.6 14.6,19.2 12.5,19.6 C9.5,20.2 5.5,19.8 2.5,19.0 C0.5,18.2 -1.2,16.2 -2.2,13.9 C-3.5,11.5 -4.6,8.8 -5.3,6.2 Z" fill="#4a4546" stroke="none" stroke-width="1" />
<path d="M-5.3,6.2 L0,0 L2.2,2.8 C0.5,5 -1.5,6.5 -5.3,6.2 Z" fill="#3a3536" stroke="none" stroke-width="1" />
<circle cx="7.70" cy="3.60" r="3.10" fill="#b88a8c" />
<circle cx="7.90" cy="3.80" r="2.20" fill="#d6a4a6" />
</g>
<g transform="translate(50.40,504.60) scale(1.000)">
<path d="M16.5,11.5 C20,9.5 23,5.5 26.5,4.8 C29.5,4.3 30.8,6.5 29.2,9.6" fill="none" stroke="#c98f94" stroke-width="0.9" />
<path d="M1.0,17 L0.4,22.0 L3.0,22.0 L3.8,17.5 Z M10.0,18 L10.6,22.8 L13.2,22.8 L12.8,17.5 Z" fill="#8e7f80" stroke="none" stroke-width="1" />
<path d="M-5.3,6.2 L0,0 L2.2,2.8 C3.5,1.2 6,0.6 8.5,0.9 C11.5,1.2 14.5,3.5 16.2,6.8 C17.8,9.5 18.6,12.5 17.3,14.9 C16.4,17.6 14.6,19.2 12.5,19.6 C9.5,20.2 5.5,19.8 2.5,19.0 C0.5,18.2 -1.2,16.2 -2.2,13.9 C-3.5,11.5 -4.6,8.8 -5.3,6.2 Z" fill="#4a4546" stroke="none" stroke-width="1" />
<path d="M-5.3,6.2 L0,0 L2.2,2.8 C0.5,5 -1.5,6.5 -5.3,6.2 Z" fill="#3a3536" stroke="none" stroke-width="1" />
<circle cx="7.70" cy="3.60" r="3.10" fill="#b88a8c" />
<circle cx="7.90" cy="3.80" r="2.20" fill="#d6a4a6" />
</g>
<g transform="translate(106.30,486.70) scale(1.000)">
<path d="M16.5,11.5 C20,9.5 23,5.5 26.5,4.8 C29.5,4.3 30.8,6.5 29.2,9.6" fill="none" stroke="#c98f94" stroke-width="0.9" />
<path d="M1.0,17 L0.4,22.0 L3.0,22.0 L3.8,17.5 Z M10.0,18 L10.6,22.8 L13.2,22.8 L12.8,17.5 Z" fill="#8e7f80" stroke="none" stroke-width="1" />
<path d="M-5.3,6.2 L0,0 L2.2,2.8 C3.5,1.2 6,0.6 8.5,0.9 C11.5,1.2 14.5,3.5 16.2,6.8 C17.8,9.5 18.6,12.5 17.3,14.9 C16.4,17.6 14.6,19.2 12.5,19.6 C9.5,20.2 5.5,19.8 2.5,19.0 C0.5,18.2 -1.2,16.2 -2.2,13.9 C-3.5,11.5 -4.6,8.8 -5.3,6.2 Z" fill="#4a4546" stroke="none" stroke-width="1" />
<path d="M-5.3,6.2 L0,0 L2.2,2.8 C0.5,5 -1.5,6.5 -5.3,6.2 Z" fill="#3a3536" stroke="none" stroke-width="1" />
<circle cx="7.70" cy="3.60" r="3.10" fill="#b88a8c" />
<circle cx="7.90" cy="3.80" r="2.20" fill="#d6a4a6" />
</g>
<line x1="71.60" y1="475.10" x2="91.29" y2="486.10" stroke="#111" stroke-width="1.1" />
<path d="M94.70,488.00L90.32,487.84L92.27,484.35Z" fill="#111" stroke="none" stroke-width="1" />
<line x1="71.60" y1="506.50" x2="91.23" y2="496.47" stroke="#111" stroke-width="1.1" />
<path d="M94.70,494.70L92.14,498.26L90.32,494.69Z" fill="#111" stroke="none" stroke-width="1" />
<line x1="143.50" y1="494.60" x2="185.10" y2="494.60" stroke="#111" stroke-width="1.1" />
<path d="M189.00,494.60L185.10,496.60L185.10,492.60Z" fill="#111" stroke="none" stroke-width="1" />
<text x="81.90" y="493.00" font-size="5.6" text-anchor="middle" fill="#222" font-weight="bold">1:1</text>
<text x="166.80" y="491.40" font-size="5.0" text-anchor="middle" fill="#222">6 Weeks</text>
<text x="48.20" y="488.00" font-size="5.3" text-anchor="middle" fill="#333"><tspan font-style="italic">Etv6</tspan><tspan font-size="4.2" dy="-1.9">+/+</tspan><tspan dy="1.9"> CD45.1</tspan><tspan font-size="4.2" dy="-1.9">+</tspan></text>
<text x="48.20" y="494.40" font-size="5.3" text-anchor="middle" fill="#333">LSKs</text>
<text x="57.50" y="536.60" font-size="5.3" text-anchor="middle" fill="#333"><tspan font-style="italic">Etv6</tspan><tspan font-size="4.0" dy="-1.9">R355X/+</tspan><tspan dy="1.9"> CD45.2</tspan><tspan font-size="4.2" dy="-1.9">+</tspan></text>
<text x="57.50" y="542.80" font-size="5.3" text-anchor="middle" fill="#333">LSKs</text>
<text x="113.00" y="515.60" font-size="4.85" text-anchor="middle" fill="#333">Lethally-irradiated</text>
<text x="113.00" y="521.80" font-size="4.85" text-anchor="middle" fill="#333">CD45.1/2<tspan font-size="3.8" dy="-1.7">+</tspan><tspan dy="1.7"> recipient</tspan></text>
<text x="202.60" y="513.10" font-size="5.0" text-anchor="middle" fill="#333">Collect</text>
<text x="202.60" y="519.50" font-size="5.0" text-anchor="middle" fill="#333">bone barrow for</text>
<text x="202.60" y="526.10" font-size="5.0" text-anchor="middle" fill="#333">flow cytometry</text>
<circle cx="103.40" cy="478.20" r="6.00" fill="#e8da62" stroke="#4a3e22" stroke-width="0.6"/>
<path d="M102.65,476.90L100.50,473.18A5.8,5.8 0 0 1 106.30,473.18L104.15,476.90A1.5,1.5 0 0 0 102.65,476.90Z" fill="#3e321e" stroke="none" stroke-width="1" />
<path d="M104.90,478.20L109.20,478.20A5.8,5.8 0 0 1 106.30,483.22L104.15,479.50A1.5,1.5 0 0 0 104.90,478.20Z" fill="#3e321e" stroke="none" stroke-width="1" />
<path d="M102.65,479.50L100.50,483.22A5.8,5.8 0 0 1 97.60,478.20L101.90,478.20A1.5,1.5 0 0 0 102.65,479.50Z" fill="#3e321e" stroke="none" stroke-width="1" />
<circle cx="103.40" cy="478.20" r="0.90" fill="#3e321e" />
<g transform="translate(137.2,485.2) rotate(-47)">
<line x1="-9.50" y1="0.00" x2="-5.00" y2="0.00" stroke="#9a8a8a" stroke-width="0.5" />
<rect x="-5.00" y="-1.20" width="4.60" height="2.40" fill="#5e1a2c" stroke="none" stroke-width="1" />
<rect x="-0.40" y="-1.20" width="5.40" height="2.40" fill="#f2eeee" stroke="#6a5a5e" stroke-width="0.45" />
<line x1="1.00" y1="-1.20" x2="1.00" y2="1.20" stroke="#6a5a5e" stroke-width="0.4" />
<line x1="2.60" y1="-1.20" x2="2.60" y2="1.20" stroke="#6a5a5e" stroke-width="0.4" />
<line x1="5.00" y1="0.00" x2="7.50" y2="0.00" stroke="#333" stroke-width="0.8" />
<rect x="7.20" y="-1.30" width="1.40" height="2.60" fill="#2a2a2a" stroke="none" stroke-width="1" />
</g>
<path d="M200.6,488.5 C201.2,494.5 202.2,499.8 203.3,505.6" fill="none" stroke="#8a4c3e" stroke-width="1.9" stroke-linecap="round"/>
<path d="M198.4,489.5 C198.0,486.8 198.6,484.6 200.2,484.2 C201.2,483.0 202.2,481.6 204.0,481.2 C205.8,480.9 207.2,482.2 206.9,484.0 C206.6,485.6 205.0,486.4 203.6,486.6 C202.8,488.0 202.0,489.6 201.8,491.0 C200.6,491.4 198.9,491.0 198.4,489.5 Z" fill="#d9cf9e" stroke="none" stroke-width="1" />
<rect x="41.40" y="555.50" width="130.10" height="78.50" fill="#fff" stroke="#333" stroke-width="0.8" />
<line x1="41.40" y1="582.30" x2="172.50" y2="582.30" stroke="#cfcfcf" stroke-width="0.6" />
<line x1="41.40" y1="595.30" x2="172.50" y2="595.30" stroke="#cfcfcf" stroke-width="0.6" />
<line x1="41.40" y1="608.30" x2="172.50" y2="608.30" stroke="#cfcfcf" stroke-width="0.6" />
<line x1="41.40" y1="621.60" x2="172.50" y2="621.60" stroke="#cfcfcf" stroke-width="0.6" />
<path d="M43.60,582.30C43.78,580.78 44.27,575.75 44.70,573.20C45.13,570.65 45.63,568.53 46.20,567.00C46.77,565.47 46.88,565.10 48.10,564.00C49.32,562.90 51.72,561.17 53.50,560.40C55.28,559.63 57.30,559.65 58.80,559.40C60.30,559.15 61.15,558.88 62.50,558.90C63.85,558.92 65.27,559.25 66.90,559.50C68.53,559.75 70.05,559.80 72.30,560.40C74.55,561.00 78.15,561.98 80.40,563.10C82.65,564.22 84.02,565.42 85.80,567.10C87.58,568.78 89.77,571.45 91.10,573.20C92.43,574.95 92.90,576.32 93.80,577.60C94.70,578.88 95.47,580.15 96.50,580.90C97.53,581.65 98.75,581.87 100.00,582.10C101.25,582.33 103.33,582.27 104.00,582.30L104.00,582.30L43.60,582.30Z" fill="#e5e5e5" stroke="none" stroke-width="1" fill-opacity="1.0"/>
<path d="M43.60,582.30C43.78,580.78 44.27,575.75 44.70,573.20C45.13,570.65 45.63,568.53 46.20,567.00C46.77,565.47 46.88,565.10 48.10,564.00C49.32,562.90 51.72,561.17 53.50,560.40C55.28,559.63 57.30,559.65 58.80,559.40C60.30,559.15 61.15,558.88 62.50,558.90C63.85,558.92 65.27,559.25 66.90,559.50C68.53,559.75 70.05,559.80 72.30,560.40C74.55,561.00 78.15,561.98 80.40,563.10C82.65,564.22 84.02,565.42 85.80,567.10C87.58,568.78 89.77,571.45 91.10,573.20C92.43,574.95 92.90,576.32 93.80,577.60C94.70,578.88 95.47,580.15 96.50,580.90C97.53,581.65 98.75,581.87 100.00,582.10C101.25,582.33 103.33,582.27 104.00,582.30" fill="none" stroke="#d6d6d6" stroke-width="0.5" />
<path d="M42.20,594.90C44.33,594.78 50.37,594.53 55.00,594.20C59.63,593.87 65.83,593.47 70.00,592.90C74.17,592.33 77.33,591.48 80.00,590.80C82.67,590.12 84.17,589.63 86.00,588.80C87.83,587.97 89.50,587.02 91.00,585.80C92.50,584.58 93.83,583.05 95.00,581.50C96.17,579.95 97.07,578.02 98.00,576.50C98.93,574.98 99.80,573.32 100.60,572.40C101.40,571.48 102.07,570.93 102.80,571.00C103.53,571.07 104.22,571.80 105.00,572.80C105.78,573.80 106.63,575.58 107.50,577.00C108.37,578.42 109.28,580.00 110.20,581.30C111.12,582.60 111.88,583.63 113.00,584.80C114.12,585.97 115.80,587.37 116.90,588.30C118.00,589.23 118.58,589.82 119.60,590.40C120.62,590.98 121.77,591.33 123.00,591.80C124.23,592.27 125.75,592.73 127.00,593.20C128.25,593.67 129.42,594.25 130.50,594.60C131.58,594.95 133.00,595.18 133.50,595.30L133.50,595.30L42.20,595.30Z" fill="#d3d3d3" stroke="none" stroke-width="1" fill-opacity="0.92"/>
<path d="M42.20,594.90C44.33,594.78 50.37,594.53 55.00,594.20C59.63,593.87 65.83,593.47 70.00,592.90C74.17,592.33 77.33,591.48 80.00,590.80C82.67,590.12 84.17,589.63 86.00,588.80C87.83,587.97 89.50,587.02 91.00,585.80C92.50,584.58 93.83,583.05 95.00,581.50C96.17,579.95 97.07,578.02 98.00,576.50C98.93,574.98 99.80,573.32 100.60,572.40C101.40,571.48 102.07,570.93 102.80,571.00C103.53,571.07 104.22,571.80 105.00,572.80C105.78,573.80 106.63,575.58 107.50,577.00C108.37,578.42 109.28,580.00 110.20,581.30C111.12,582.60 111.88,583.63 113.00,584.80C114.12,585.97 115.80,587.37 116.90,588.30C118.00,589.23 118.58,589.82 119.60,590.40C120.62,590.98 121.77,591.33 123.00,591.80C124.23,592.27 125.75,592.73 127.00,593.20C128.25,593.67 129.42,594.25 130.50,594.60C131.58,594.95 133.00,595.18 133.50,595.30" fill="none" stroke="#bcbcbc" stroke-width="0.5" />
<path d="M42.20,607.60C45.17,607.47 54.53,607.13 60.00,606.80C65.47,606.47 70.83,606.10 75.00,605.60C79.17,605.10 81.87,604.52 85.00,603.80C88.13,603.08 91.22,602.37 93.80,601.30C96.38,600.23 98.63,598.68 100.50,597.40C102.37,596.12 103.72,595.03 105.00,593.60C106.28,592.17 107.33,590.20 108.20,588.80C109.07,587.40 109.63,586.02 110.20,585.20C110.77,584.38 111.10,583.95 111.60,583.90C112.10,583.85 112.63,584.22 113.20,584.90C113.77,585.58 114.33,586.72 115.00,588.00C115.67,589.28 116.20,590.67 117.20,592.60C118.20,594.53 119.70,597.67 121.00,599.60C122.30,601.53 123.43,603.03 125.00,604.20C126.57,605.37 128.23,606.03 130.40,606.60C132.57,607.17 135.32,607.35 138.00,607.60C140.68,607.85 144.50,607.98 146.50,608.10C148.50,608.22 149.42,608.27 150.00,608.30L150.00,608.30L42.20,608.30Z" fill="#c3c3c3" stroke="none" stroke-width="1" fill-opacity="0.92"/>
<path d="M42.20,607.60C45.17,607.47 54.53,607.13 60.00,606.80C65.47,606.47 70.83,606.10 75.00,605.60C79.17,605.10 81.87,604.52 85.00,603.80C88.13,603.08 91.22,602.37 93.80,601.30C96.38,600.23 98.63,598.68 100.50,597.40C102.37,596.12 103.72,595.03 105.00,593.60C106.28,592.17 107.33,590.20 108.20,588.80C109.07,587.40 109.63,586.02 110.20,585.20C110.77,584.38 111.10,583.95 111.60,583.90C112.10,583.85 112.63,584.22 113.20,584.90C113.77,585.58 114.33,586.72 115.00,588.00C115.67,589.28 116.20,590.67 117.20,592.60C118.20,594.53 119.70,597.67 121.00,599.60C122.30,601.53 123.43,603.03 125.00,604.20C126.57,605.37 128.23,606.03 130.40,606.60C132.57,607.17 135.32,607.35 138.00,607.60C140.68,607.85 144.50,607.98 146.50,608.10C148.50,608.22 149.42,608.27 150.00,608.30" fill="none" stroke="#707070" stroke-width="0.55" />
<path d="M95.80,621.30C97.13,621.15 101.50,620.88 103.80,620.40C106.10,619.92 108.07,619.25 109.60,618.40C111.13,617.55 111.85,616.77 113.00,615.30C114.15,613.83 115.53,611.32 116.50,609.60C117.47,607.88 118.32,605.95 118.80,605.00C119.28,604.05 119.02,603.40 119.40,603.90C119.78,604.40 120.23,606.28 121.10,608.00C121.97,609.72 123.45,612.43 124.60,614.20C125.75,615.97 126.93,617.57 128.00,618.60C129.07,619.63 130.03,619.97 131.00,620.40C131.97,620.83 133.33,621.07 133.80,621.20L133.80,621.60L95.80,621.60Z" fill="#9dd992" stroke="none" stroke-width="1" fill-opacity="1.0"/>
<path d="M95.80,621.30C97.13,621.15 101.50,620.88 103.80,620.40C106.10,619.92 108.07,619.25 109.60,618.40C111.13,617.55 111.85,616.77 113.00,615.30C114.15,613.83 115.53,611.32 116.50,609.60C117.47,607.88 118.32,605.95 118.80,605.00C119.28,604.05 119.02,603.40 119.40,603.90C119.78,604.40 120.23,606.28 121.10,608.00C121.97,609.72 123.45,612.43 124.60,614.20C125.75,615.97 126.93,617.57 128.00,618.60C129.07,619.63 130.03,619.97 131.00,620.40C131.97,620.83 133.33,621.07 133.80,621.20" fill="none" stroke="#4a9f45" stroke-width="0.55" />
<path d="M103.80,633.60C104.38,633.17 106.05,631.57 107.30,631.00C108.55,630.43 110.05,630.88 111.30,630.20C112.55,629.52 113.63,628.12 114.80,626.90C115.97,625.68 117.33,624.02 118.30,622.90C119.27,621.78 119.95,620.75 120.60,620.20C121.25,619.65 121.77,619.57 122.20,619.60C122.63,619.63 122.80,619.80 123.20,620.40C123.60,621.00 123.98,621.97 124.60,623.20C125.22,624.43 126.25,626.47 126.90,627.80C127.55,629.13 128.02,630.30 128.50,631.20C128.98,632.10 129.38,632.78 129.80,633.20C130.22,633.62 130.80,633.62 131.00,633.70L131.00,634.00L103.80,634.00Z" fill="#ee8272" stroke="none" stroke-width="1" fill-opacity="1.0"/>
<path d="M103.80,633.60C104.38,633.17 106.05,631.57 107.30,631.00C108.55,630.43 110.05,630.88 111.30,630.20C112.55,629.52 113.63,628.12 114.80,626.90C115.97,625.68 117.33,624.02 118.30,622.90C119.27,621.78 119.95,620.75 120.60,620.20C121.25,619.65 121.77,619.57 122.20,619.60C122.63,619.63 122.80,619.80 123.20,620.40C123.60,621.00 123.98,621.97 124.60,623.20C125.22,624.43 126.25,626.47 126.90,627.80C127.55,629.13 128.02,630.30 128.50,631.20C128.98,632.10 129.38,632.78 129.80,633.20C130.22,633.62 130.80,633.62 131.00,633.70" fill="none" stroke="#cf3a2c" stroke-width="0.55" />
<line x1="41.90" y1="633.50" x2="171.50" y2="633.50" stroke="#d86a5a" stroke-width="0.6" />
<line x1="119.60" y1="555.50" x2="119.60" y2="634.00" stroke="#222" stroke-width="0.8" />
<rect x="41.40" y="555.50" width="130.10" height="78.50" fill="none" stroke="#333" stroke-width="0.8" />
<line x1="48.50" y1="634.00" x2="48.50" y2="636.20" stroke="#333" stroke-width="0.6" />
<line x1="71.60" y1="634.00" x2="71.60" y2="636.20" stroke="#333" stroke-width="0.6" />
<line x1="92.30" y1="634.00" x2="92.30" y2="636.20" stroke="#333" stroke-width="0.6" />
<line x1="128.50" y1="634.00" x2="128.50" y2="636.20" stroke="#333" stroke-width="0.6" />
<line x1="159.50" y1="634.00" x2="159.50" y2="636.20" stroke="#333" stroke-width="0.6" />
<line x1="44.00" y1="634.00" x2="44.00" y2="635.00" stroke="#888" stroke-width="0.3" />
<line x1="48.00" y1="634.00" x2="48.00" y2="635.00" stroke="#888" stroke-width="0.3" />
<line x1="52.00" y1="634.00" x2="52.00" y2="635.00" stroke="#888" stroke-width="0.3" />
<line x1="56.00" y1="634.00" x2="56.00" y2="635.00" stroke="#888" stroke-width="0.3" />
<line x1="60.00" y1="634.00" x2="60.00" y2="635.00" stroke="#888" stroke-width="0.3" />
<line x1="64.00" y1="634.00" x2="64.00" y2="635.00" stroke="#888" stroke-width="0.3" />
<line x1="68.00" y1="634.00" x2="68.00" y2="635.00" stroke="#888" stroke-width="0.3" />
<line x1="72.00" y1="634.00" x2="72.00" y2="635.00" stroke="#888" stroke-width="0.3" />
<line x1="76.00" y1="634.00" x2="76.00" y2="635.00" stroke="#888" stroke-width="0.3" />
<line x1="80.00" y1="634.00" x2="80.00" y2="635.00" stroke="#888" stroke-width="0.3" />
<line x1="84.00" y1="634.00" x2="84.00" y2="635.00" stroke="#888" stroke-width="0.3" />
<line x1="88.00" y1="634.00" x2="88.00" y2="635.00" stroke="#888" stroke-width="0.3" />
<line x1="92.00" y1="634.00" x2="92.00" y2="635.00" stroke="#888" stroke-width="0.3" />
<line x1="96.00" y1="634.00" x2="96.00" y2="635.00" stroke="#888" stroke-width="0.3" />
<line x1="100.00" y1="634.00" x2="100.00" y2="635.00" stroke="#888" stroke-width="0.3" />
<line x1="104.00" y1="634.00" x2="104.00" y2="635.00" stroke="#888" stroke-width="0.3" />
<line x1="108.00" y1="634.00" x2="108.00" y2="635.00" stroke="#888" stroke-width="0.3" />
<line x1="112.00" y1="634.00" x2="112.00" y2="635.00" stroke="#888" stroke-width="0.3" />
<line x1="116.00" y1="634.00" x2="116.00" y2="635.00" stroke="#888" stroke-width="0.3" />
<line x1="120.00" y1="634.00" x2="120.00" y2="635.00" stroke="#888" stroke-width="0.3" />
<line x1="124.00" y1="634.00" x2="124.00" y2="635.00" stroke="#888" stroke-width="0.3" />
<line x1="128.00" y1="634.00" x2="128.00" y2="635.00" stroke="#888" stroke-width="0.3" />
<line x1="132.00" y1="634.00" x2="132.00" y2="635.00" stroke="#888" stroke-width="0.3" />
<line x1="136.00" y1="634.00" x2="136.00" y2="635.00" stroke="#888" stroke-width="0.3" />
<line x1="140.00" y1="634.00" x2="140.00" y2="635.00" stroke="#888" stroke-width="0.3" />
<line x1="144.00" y1="634.00" x2="144.00" y2="635.00" stroke="#888" stroke-width="0.3" />
<line x1="148.00" y1="634.00" x2="148.00" y2="635.00" stroke="#888" stroke-width="0.3" />
<line x1="152.00" y1="634.00" x2="152.00" y2="635.00" stroke="#888" stroke-width="0.3" />
<line x1="156.00" y1="634.00" x2="156.00" y2="635.00" stroke="#888" stroke-width="0.3" />
<line x1="160.00" y1="634.00" x2="160.00" y2="635.00" stroke="#888" stroke-width="0.3" />
<line x1="164.00" y1="634.00" x2="164.00" y2="635.00" stroke="#888" stroke-width="0.3" />
<line x1="168.00" y1="634.00" x2="168.00" y2="635.00" stroke="#888" stroke-width="0.3" />
<text x="49.00" y="644.90" font-size="5.1" text-anchor="middle" fill="#333">−10<tspan font-size="3.6" dy="-2.1">3</tspan></text>
<text x="71.80" y="644.90" font-size="5.1" text-anchor="middle" fill="#333">0</text>
<text x="93.00" y="644.90" font-size="5.1" text-anchor="middle" fill="#333">10<tspan font-size="3.6" dy="-2.1">3</tspan></text>
<text x="129.20" y="644.90" font-size="5.1" text-anchor="middle" fill="#333">10<tspan font-size="3.6" dy="-2.1">4</tspan></text>
<text x="160.20" y="644.90" font-size="5.1" text-anchor="middle" fill="#333">10<tspan font-size="3.6" dy="-2.1">5</tspan></text>
<text x="106.20" y="652.00" font-size="5.4" text-anchor="middle" fill="#222" font-weight="bold">TNF</text>
<text transform="translate(38.2,594.6) rotate(-90)" font-size="4.65" text-anchor="middle" fill="#222" font-weight="bold">Normalized to mode</text>
<text x="174.30" y="584.20" font-size="5.0" fill="#333">IgG</text>
<text x="174.30" y="596.60" font-size="5.0" fill="#333">Unstimulated BM</text>
<text x="174.30" y="610.00" font-size="5.0" fill="#333">Stimulated BM</text>
<text x="174.30" y="623.00" font-size="5.0" fill="#333"><tspan font-style="italic">Etv6</tspan><tspan font-size="3.8" dy="-1.7">+/+</tspan><tspan dy="1.7"> LSKs</tspan></text>
<text x="174.30" y="634.40" font-size="5.0" fill="#333"><tspan font-style="italic">Etv6</tspan><tspan font-size="3.8" dy="-1.7">R355X/+</tspan><tspan dy="1.7"> LSKs</tspan></text>
<text x="292.10" y="466.60" font-size="7.4" text-anchor="middle" fill="#222">LSK</text>
<line x1="264.60" y1="478.60" x2="264.60" y2="528.90" stroke="#222" stroke-width="0.9" />
<line x1="264.60" y1="528.90" x2="319.60" y2="528.90" stroke="#222" stroke-width="0.9" />
<line x1="262.40" y1="528.90" x2="264.60" y2="528.90" stroke="#222" stroke-width="0.9" />
<text x="259.70" y="530.80" font-size="5.5" text-anchor="end" fill="#444">0</text>
<line x1="262.40" y1="516.90" x2="264.60" y2="516.90" stroke="#222" stroke-width="0.9" />
<text x="259.70" y="518.80" font-size="5.5" text-anchor="end" fill="#444">2000</text>
<line x1="262.40" y1="504.90" x2="264.60" y2="504.90" stroke="#222" stroke-width="0.9" />
<text x="259.70" y="506.80" font-size="5.5" text-anchor="end" fill="#444">4000</text>
<line x1="262.40" y1="492.90" x2="264.60" y2="492.90" stroke="#222" stroke-width="0.9" />
<text x="259.70" y="494.80" font-size="5.5" text-anchor="end" fill="#444">6000</text>
<line x1="262.40" y1="480.90" x2="264.60" y2="480.90" stroke="#222" stroke-width="0.9" />
<text x="259.70" y="482.80" font-size="5.5" text-anchor="end" fill="#444">8000</text>
<rect x="273.30" y="492.90" width="14.60" height="36.00" fill="#cac6d4" stroke="none" stroke-width="1" />
<rect x="297.00" y="489.90" width="14.60" height="39.00" fill="#465268" stroke="none" stroke-width="1" />
<line x1="280.60" y1="528.90" x2="280.60" y2="530.70" stroke="#222" stroke-width="0.8" />
<line x1="304.30" y1="528.90" x2="304.30" y2="530.70" stroke="#222" stroke-width="0.8" />
<line x1="280.60" y1="494.10" x2="304.30" y2="490.50" stroke="#111" stroke-width="0.6" />
<line x1="280.60" y1="494.70" x2="304.30" y2="491.10" stroke="#111" stroke-width="0.6" />
<line x1="280.60" y1="486.30" x2="304.30" y2="484.50" stroke="#111" stroke-width="0.6" />
<line x1="280.60" y1="491.70" x2="304.30" y2="488.70" stroke="#111" stroke-width="0.6" />
<line x1="280.60" y1="493.50" x2="304.30" y2="489.30" stroke="#111" stroke-width="0.6" />
<line x1="280.60" y1="492.90" x2="304.30" y2="491.70" stroke="#111" stroke-width="0.6" />
<line x1="280.60" y1="492.30" x2="304.30" y2="487.50" stroke="#111" stroke-width="0.6" />
<line x1="280.60" y1="495.30" x2="304.30" y2="492.30" stroke="#111" stroke-width="0.6" />
<circle cx="280.60" cy="494.10" r="1.05" fill="#3aaa4a" />
<circle cx="304.30" cy="490.50" r="1.05" fill="#d0202a" />
<circle cx="280.60" cy="494.70" r="1.05" fill="#3aaa4a" />
<circle cx="304.30" cy="491.10" r="1.05" fill="#d0202a" />
<circle cx="280.60" cy="486.30" r="1.05" fill="#3aaa4a" />
<circle cx="304.30" cy="484.50" r="1.05" fill="#d0202a" />
<circle cx="280.60" cy="491.70" r="1.05" fill="#3aaa4a" />
<circle cx="304.30" cy="488.70" r="1.05" fill="#d0202a" />
<circle cx="280.60" cy="493.50" r="1.05" fill="#3aaa4a" />
<circle cx="304.30" cy="489.30" r="1.05" fill="#d0202a" />
<circle cx="280.60" cy="492.90" r="1.05" fill="#3aaa4a" />
<circle cx="304.30" cy="491.70" r="1.05" fill="#d0202a" />
<circle cx="280.60" cy="492.30" r="1.05" fill="#3aaa4a" />
<circle cx="304.30" cy="487.50" r="1.05" fill="#d0202a" />
<circle cx="280.60" cy="495.30" r="1.05" fill="#3aaa4a" />
<circle cx="304.30" cy="492.30" r="1.05" fill="#d0202a" />
<line x1="281.20" y1="476.20" x2="303.70" y2="476.20" stroke="#333" stroke-width="0.6" />
<text x="292.45" y="475.80" font-size="5.2" text-anchor="middle" fill="#333">****</text>
<text transform="translate(243.80,503.00) rotate(-90)" font-size="5.4" text-anchor="middle" fill="#222" font-weight="bold">MFI</text>
<text x="280.40" y="539.90" font-size="5.0" text-anchor="middle" fill="#333"><tspan font-style="italic">Etv6</tspan><tspan font-size="4.3" dy="-1.7">+/+</tspan></text>
<text x="306.10" y="539.90" font-size="5.0" text-anchor="middle" fill="#333"><tspan font-style="italic">Etv6</tspan><tspan font-size="4.1" dy="-1.7">R355X/+</tspan></text>
<text x="377.30" y="466.60" font-size="7.4" text-anchor="middle" fill="#222">LT-HSC</text>
<line x1="349.80" y1="478.60" x2="349.80" y2="528.90" stroke="#222" stroke-width="0.9" />
<line x1="349.80" y1="528.90" x2="404.80" y2="528.90" stroke="#222" stroke-width="0.9" />
<line x1="347.60" y1="528.90" x2="349.80" y2="528.90" stroke="#222" stroke-width="0.9" />
<text x="344.90" y="530.80" font-size="5.5" text-anchor="end" fill="#444">0</text>
<line x1="347.60" y1="516.90" x2="349.80" y2="516.90" stroke="#222" stroke-width="0.9" />
<text x="344.90" y="518.80" font-size="5.5" text-anchor="end" fill="#444">2000</text>
<line x1="347.60" y1="504.90" x2="349.80" y2="504.90" stroke="#222" stroke-width="0.9" />
<text x="344.90" y="506.80" font-size="5.5" text-anchor="end" fill="#444">4000</text>
<line x1="347.60" y1="492.90" x2="349.80" y2="492.90" stroke="#222" stroke-width="0.9" />
<text x="344.90" y="494.80" font-size="5.5" text-anchor="end" fill="#444">6000</text>
<line x1="347.60" y1="480.90" x2="349.80" y2="480.90" stroke="#222" stroke-width="0.9" />
<text x="344.90" y="482.80" font-size="5.5" text-anchor="end" fill="#444">8000</text>
<rect x="358.50" y="491.70" width="14.60" height="37.20" fill="#cac6d4" stroke="none" stroke-width="1" />
<rect x="382.20" y="488.70" width="14.60" height="40.20" fill="#465268" stroke="none" stroke-width="1" />
<line x1="365.80" y1="528.90" x2="365.80" y2="530.70" stroke="#222" stroke-width="0.8" />
<line x1="389.50" y1="528.90" x2="389.50" y2="530.70" stroke="#222" stroke-width="0.8" />
<line x1="365.80" y1="491.10" x2="389.50" y2="488.70" stroke="#111" stroke-width="0.6" />
<line x1="365.80" y1="485.10" x2="389.50" y2="483.90" stroke="#111" stroke-width="0.6" />
<line x1="365.80" y1="494.10" x2="389.50" y2="489.30" stroke="#111" stroke-width="0.6" />
<line x1="365.80" y1="487.50" x2="389.50" y2="486.30" stroke="#111" stroke-width="0.6" />
<line x1="365.80" y1="492.90" x2="389.50" y2="489.90" stroke="#111" stroke-width="0.6" />
<line x1="365.80" y1="489.90" x2="389.50" y2="486.90" stroke="#111" stroke-width="0.6" />
<line x1="365.80" y1="486.30" x2="389.50" y2="485.10" stroke="#111" stroke-width="0.6" />
<line x1="365.80" y1="494.70" x2="389.50" y2="491.10" stroke="#111" stroke-width="0.6" />
<circle cx="365.80" cy="491.10" r="1.05" fill="#3aaa4a" />
<circle cx="389.50" cy="488.70" r="1.05" fill="#d0202a" />
<circle cx="365.80" cy="485.10" r="1.05" fill="#3aaa4a" />
<circle cx="389.50" cy="483.90" r="1.05" fill="#d0202a" />
<circle cx="365.80" cy="494.10" r="1.05" fill="#3aaa4a" />
<circle cx="389.50" cy="489.30" r="1.05" fill="#d0202a" />
<circle cx="365.80" cy="487.50" r="1.05" fill="#3aaa4a" />
<circle cx="389.50" cy="486.30" r="1.05" fill="#d0202a" />
<circle cx="365.80" cy="492.90" r="1.05" fill="#3aaa4a" />
<circle cx="389.50" cy="489.90" r="1.05" fill="#d0202a" />
<circle cx="365.80" cy="489.90" r="1.05" fill="#3aaa4a" />
<circle cx="389.50" cy="486.90" r="1.05" fill="#d0202a" />
<circle cx="365.80" cy="486.30" r="1.05" fill="#3aaa4a" />
<circle cx="389.50" cy="485.10" r="1.05" fill="#d0202a" />
<circle cx="365.80" cy="494.70" r="1.05" fill="#3aaa4a" />
<circle cx="389.50" cy="491.10" r="1.05" fill="#d0202a" />
<line x1="366.40" y1="475.20" x2="388.90" y2="475.20" stroke="#333" stroke-width="0.6" />
<text x="377.65" y="474.80" font-size="5.2" text-anchor="middle" fill="#333">**</text>
<text transform="translate(329.00,503.00) rotate(-90)" font-size="5.4" text-anchor="middle" fill="#222" font-weight="bold">MFI</text>
<text x="365.60" y="539.90" font-size="5.0" text-anchor="middle" fill="#333"><tspan font-style="italic">Etv6</tspan><tspan font-size="4.3" dy="-1.7">+/+</tspan></text>
<text x="391.30" y="539.90" font-size="5.0" text-anchor="middle" fill="#333"><tspan font-style="italic">Etv6</tspan><tspan font-size="4.1" dy="-1.7">R355X/+</tspan></text>
<text x="465.00" y="466.60" font-size="7.4" text-anchor="middle" fill="#222">ST-HSC</text>
<line x1="437.50" y1="478.60" x2="437.50" y2="528.90" stroke="#222" stroke-width="0.9" />
<line x1="437.50" y1="528.90" x2="492.50" y2="528.90" stroke="#222" stroke-width="0.9" />
<line x1="435.30" y1="528.90" x2="437.50" y2="528.90" stroke="#222" stroke-width="0.9" />
<text x="432.60" y="530.80" font-size="5.5" text-anchor="end" fill="#444">0</text>
<line x1="435.30" y1="516.90" x2="437.50" y2="516.90" stroke="#222" stroke-width="0.9" />
<text x="432.60" y="518.80" font-size="5.5" text-anchor="end" fill="#444">2000</text>
<line x1="435.30" y1="504.90" x2="437.50" y2="504.90" stroke="#222" stroke-width="0.9" />
<text x="432.60" y="506.80" font-size="5.5" text-anchor="end" fill="#444">4000</text>
<line x1="435.30" y1="492.90" x2="437.50" y2="492.90" stroke="#222" stroke-width="0.9" />
<text x="432.60" y="494.80" font-size="5.5" text-anchor="end" fill="#444">6000</text>
<line x1="435.30" y1="480.90" x2="437.50" y2="480.90" stroke="#222" stroke-width="0.9" />
<text x="432.60" y="482.80" font-size="5.5" text-anchor="end" fill="#444">8000</text>
<rect x="446.20" y="502.50" width="14.60" height="26.40" fill="#cac6d4" stroke="none" stroke-width="1" />
<rect x="469.90" y="498.90" width="14.60" height="30.00" fill="#465268" stroke="none" stroke-width="1" />
<line x1="453.50" y1="528.90" x2="453.50" y2="530.70" stroke="#222" stroke-width="0.8" />
<line x1="477.20" y1="528.90" x2="477.20" y2="530.70" stroke="#222" stroke-width="0.8" />
<line x1="453.50" y1="495.90" x2="477.20" y2="491.70" stroke="#111" stroke-width="0.6" />
<line x1="453.50" y1="500.70" x2="477.20" y2="496.50" stroke="#111" stroke-width="0.6" />
<line x1="453.50" y1="503.10" x2="477.20" y2="499.50" stroke="#111" stroke-width="0.6" />
<line x1="453.50" y1="504.90" x2="477.20" y2="500.70" stroke="#111" stroke-width="0.6" />
<line x1="453.50" y1="507.30" x2="477.20" y2="503.10" stroke="#111" stroke-width="0.6" />
<line x1="453.50" y1="501.90" x2="477.20" y2="497.70" stroke="#111" stroke-width="0.6" />
<circle cx="453.50" cy="495.90" r="1.05" fill="#3aaa4a" />
<circle cx="477.20" cy="491.70" r="1.05" fill="#d0202a" />
<circle cx="453.50" cy="500.70" r="1.05" fill="#3aaa4a" />
<circle cx="477.20" cy="496.50" r="1.05" fill="#d0202a" />
<circle cx="453.50" cy="503.10" r="1.05" fill="#3aaa4a" />
<circle cx="477.20" cy="499.50" r="1.05" fill="#d0202a" />
<circle cx="453.50" cy="504.90" r="1.05" fill="#3aaa4a" />
<circle cx="477.20" cy="500.70" r="1.05" fill="#d0202a" />
<circle cx="453.50" cy="507.30" r="1.05" fill="#3aaa4a" />
<circle cx="477.20" cy="503.10" r="1.05" fill="#d0202a" />
<circle cx="453.50" cy="501.90" r="1.05" fill="#3aaa4a" />
<circle cx="477.20" cy="497.70" r="1.05" fill="#d0202a" />
<line x1="454.10" y1="483.20" x2="476.60" y2="483.20" stroke="#333" stroke-width="0.6" />
<text x="465.35" y="482.80" font-size="5.2" text-anchor="middle" fill="#333">****</text>
<text transform="translate(416.70,503.00) rotate(-90)" font-size="5.4" text-anchor="middle" fill="#222" font-weight="bold">MFI</text>
<text x="453.30" y="539.90" font-size="5.0" text-anchor="middle" fill="#333"><tspan font-style="italic">Etv6</tspan><tspan font-size="4.3" dy="-1.7">+/+</tspan></text>
<text x="479.00" y="539.90" font-size="5.0" text-anchor="middle" fill="#333"><tspan font-style="italic">Etv6</tspan><tspan font-size="4.1" dy="-1.7">R355X/+</tspan></text>
<text x="292.10" y="556.80" font-size="7.4" text-anchor="middle" fill="#222">MPP2</text>
<line x1="264.60" y1="567.50" x2="264.60" y2="617.80" stroke="#222" stroke-width="0.9" />
<line x1="264.60" y1="617.80" x2="319.60" y2="617.80" stroke="#222" stroke-width="0.9" />
<line x1="262.40" y1="617.80" x2="264.60" y2="617.80" stroke="#222" stroke-width="0.9" />
<text x="259.70" y="619.70" font-size="5.5" text-anchor="end" fill="#444">0</text>
<line x1="262.40" y1="605.80" x2="264.60" y2="605.80" stroke="#222" stroke-width="0.9" />
<text x="259.70" y="607.70" font-size="5.5" text-anchor="end" fill="#444">2000</text>
<line x1="262.40" y1="593.80" x2="264.60" y2="593.80" stroke="#222" stroke-width="0.9" />
<text x="259.70" y="595.70" font-size="5.5" text-anchor="end" fill="#444">4000</text>
<line x1="262.40" y1="581.80" x2="264.60" y2="581.80" stroke="#222" stroke-width="0.9" />
<text x="259.70" y="583.70" font-size="5.5" text-anchor="end" fill="#444">6000</text>
<line x1="262.40" y1="569.80" x2="264.60" y2="569.80" stroke="#222" stroke-width="0.9" />
<text x="259.70" y="571.70" font-size="5.5" text-anchor="end" fill="#444">8000</text>
<rect x="273.30" y="578.80" width="14.60" height="39.00" fill="#cac6d4" stroke="none" stroke-width="1" />
<rect x="297.00" y="578.80" width="14.60" height="39.00" fill="#465268" stroke="none" stroke-width="1" />
<line x1="280.60" y1="617.80" x2="280.60" y2="619.60" stroke="#222" stroke-width="0.8" />
<line x1="304.30" y1="617.80" x2="304.30" y2="619.60" stroke="#222" stroke-width="0.8" />
<line x1="280.60" y1="572.80" x2="304.30" y2="573.40" stroke="#111" stroke-width="0.6" />
<line x1="280.60" y1="576.40" x2="304.30" y2="578.20" stroke="#111" stroke-width="0.6" />
<line x1="280.60" y1="580.60" x2="304.30" y2="576.40" stroke="#111" stroke-width="0.6" />
<line x1="280.60" y1="581.80" x2="304.30" y2="580.60" stroke="#111" stroke-width="0.6" />
<line x1="280.60" y1="579.40" x2="304.30" y2="581.20" stroke="#111" stroke-width="0.6" />
<line x1="280.60" y1="577.60" x2="304.30" y2="578.80" stroke="#111" stroke-width="0.6" />
<circle cx="280.60" cy="572.80" r="1.05" fill="#3aaa4a" />
<circle cx="304.30" cy="573.40" r="1.05" fill="#d0202a" />
<circle cx="280.60" cy="576.40" r="1.05" fill="#3aaa4a" />
<circle cx="304.30" cy="578.20" r="1.05" fill="#d0202a" />
<circle cx="280.60" cy="580.60" r="1.05" fill="#3aaa4a" />
<circle cx="304.30" cy="576.40" r="1.05" fill="#d0202a" />
<circle cx="280.60" cy="581.80" r="1.05" fill="#3aaa4a" />
<circle cx="304.30" cy="580.60" r="1.05" fill="#d0202a" />
<circle cx="280.60" cy="579.40" r="1.05" fill="#3aaa4a" />
<circle cx="304.30" cy="581.20" r="1.05" fill="#d0202a" />
<circle cx="280.60" cy="577.60" r="1.05" fill="#3aaa4a" />
<circle cx="304.30" cy="578.80" r="1.05" fill="#d0202a" />
<text transform="translate(243.80,591.90) rotate(-90)" font-size="5.4" text-anchor="middle" fill="#222" font-weight="bold">MFI</text>
<text x="280.40" y="628.80" font-size="5.0" text-anchor="middle" fill="#333"><tspan font-style="italic">Etv6</tspan><tspan font-size="4.3" dy="-1.7">+/+</tspan></text>
<text x="306.10" y="628.80" font-size="5.0" text-anchor="middle" fill="#333"><tspan font-style="italic">Etv6</tspan><tspan font-size="4.1" dy="-1.7">R355X/+</tspan></text>
<text x="376.70" y="556.80" font-size="7.4" text-anchor="middle" fill="#222">MPP3</text>
<line x1="349.20" y1="567.50" x2="349.20" y2="617.80" stroke="#222" stroke-width="0.9" />
<line x1="349.20" y1="617.80" x2="404.20" y2="617.80" stroke="#222" stroke-width="0.9" />
<line x1="347.00" y1="617.80" x2="349.20" y2="617.80" stroke="#222" stroke-width="0.9" />
<text x="344.30" y="619.70" font-size="5.5" text-anchor="end" fill="#444">0</text>
<line x1="347.00" y1="605.80" x2="349.20" y2="605.80" stroke="#222" stroke-width="0.9" />
<text x="344.30" y="607.70" font-size="5.5" text-anchor="end" fill="#444">2000</text>
<line x1="347.00" y1="593.80" x2="349.20" y2="593.80" stroke="#222" stroke-width="0.9" />
<text x="344.30" y="595.70" font-size="5.5" text-anchor="end" fill="#444">4000</text>
<line x1="347.00" y1="581.80" x2="349.20" y2="581.80" stroke="#222" stroke-width="0.9" />
<text x="344.30" y="583.70" font-size="5.5" text-anchor="end" fill="#444">6000</text>
<line x1="347.00" y1="569.80" x2="349.20" y2="569.80" stroke="#222" stroke-width="0.9" />
<text x="344.30" y="571.70" font-size="5.5" text-anchor="end" fill="#444">8000</text>
<rect x="357.90" y="584.20" width="14.60" height="33.60" fill="#cac6d4" stroke="none" stroke-width="1" />
<rect x="381.60" y="580.00" width="14.60" height="37.80" fill="#465268" stroke="none" stroke-width="1" />
<line x1="365.20" y1="617.80" x2="365.20" y2="619.60" stroke="#222" stroke-width="0.8" />
<line x1="388.90" y1="617.80" x2="388.90" y2="619.60" stroke="#222" stroke-width="0.8" />
<line x1="365.20" y1="577.00" x2="388.90" y2="574.00" stroke="#111" stroke-width="0.6" />
<line x1="365.20" y1="586.60" x2="388.90" y2="580.60" stroke="#111" stroke-width="0.6" />
<line x1="365.20" y1="584.80" x2="388.90" y2="578.20" stroke="#111" stroke-width="0.6" />
<line x1="365.20" y1="588.40" x2="388.90" y2="582.40" stroke="#111" stroke-width="0.6" />
<line x1="365.20" y1="583.00" x2="388.90" y2="578.80" stroke="#111" stroke-width="0.6" />
<line x1="365.20" y1="580.60" x2="388.90" y2="577.00" stroke="#111" stroke-width="0.6" />
<line x1="365.20" y1="587.80" x2="388.90" y2="583.60" stroke="#111" stroke-width="0.6" />
<circle cx="365.20" cy="577.00" r="1.05" fill="#3aaa4a" />
<circle cx="388.90" cy="574.00" r="1.05" fill="#d0202a" />
<circle cx="365.20" cy="586.60" r="1.05" fill="#3aaa4a" />
<circle cx="388.90" cy="580.60" r="1.05" fill="#d0202a" />
<circle cx="365.20" cy="584.80" r="1.05" fill="#3aaa4a" />
<circle cx="388.90" cy="578.20" r="1.05" fill="#d0202a" />
<circle cx="365.20" cy="588.40" r="1.05" fill="#3aaa4a" />
<circle cx="388.90" cy="582.40" r="1.05" fill="#d0202a" />
<circle cx="365.20" cy="583.00" r="1.05" fill="#3aaa4a" />
<circle cx="388.90" cy="578.80" r="1.05" fill="#d0202a" />
<circle cx="365.20" cy="580.60" r="1.05" fill="#3aaa4a" />
<circle cx="388.90" cy="577.00" r="1.05" fill="#d0202a" />
<circle cx="365.20" cy="587.80" r="1.05" fill="#3aaa4a" />
<circle cx="388.90" cy="583.60" r="1.05" fill="#d0202a" />
<line x1="365.80" y1="565.20" x2="388.30" y2="565.20" stroke="#333" stroke-width="0.6" />
<text x="377.05" y="564.80" font-size="5.2" text-anchor="middle" fill="#333">****</text>
<text transform="translate(328.40,591.90) rotate(-90)" font-size="5.4" text-anchor="middle" fill="#222" font-weight="bold">MFI</text>
<text x="365.00" y="628.80" font-size="5.0" text-anchor="middle" fill="#333"><tspan font-style="italic">Etv6</tspan><tspan font-size="4.3" dy="-1.7">+/+</tspan></text>
<text x="390.70" y="628.80" font-size="5.0" text-anchor="middle" fill="#333"><tspan font-style="italic">Etv6</tspan><tspan font-size="4.1" dy="-1.7">R355X/+</tspan></text>
<text x="465.00" y="556.80" font-size="7.4" text-anchor="middle" fill="#222">MPP4</text>
<line x1="440.20" y1="567.50" x2="440.20" y2="617.80" stroke="#222" stroke-width="0.9" />
<line x1="440.20" y1="617.80" x2="495.20" y2="617.80" stroke="#222" stroke-width="0.9" />
<line x1="438.00" y1="617.80" x2="440.20" y2="617.80" stroke="#222" stroke-width="0.9" />
<text x="435.30" y="619.70" font-size="5.5" text-anchor="end" fill="#444">0</text>
<line x1="438.00" y1="601.80" x2="440.20" y2="601.80" stroke="#222" stroke-width="0.9" />
<text x="435.30" y="603.70" font-size="5.5" text-anchor="end" fill="#444">5000</text>
<line x1="438.00" y1="585.80" x2="440.20" y2="585.80" stroke="#222" stroke-width="0.9" />
<text x="435.30" y="587.70" font-size="5.5" text-anchor="end" fill="#444">10000</text>
<line x1="438.00" y1="569.80" x2="440.20" y2="569.80" stroke="#222" stroke-width="0.9" />
<text x="435.30" y="571.70" font-size="5.5" text-anchor="end" fill="#444">15000</text>
<rect x="448.90" y="598.28" width="14.60" height="19.52" fill="#cac6d4" stroke="none" stroke-width="1" />
<rect x="472.60" y="593.48" width="14.60" height="24.32" fill="#465268" stroke="none" stroke-width="1" />
<line x1="456.20" y1="617.80" x2="456.20" y2="619.60" stroke="#222" stroke-width="0.8" />
<line x1="479.90" y1="617.80" x2="479.90" y2="619.60" stroke="#222" stroke-width="0.8" />
<line x1="456.20" y1="591.24" x2="479.90" y2="587.08" stroke="#111" stroke-width="0.6" />
<line x1="456.20" y1="597.00" x2="479.90" y2="591.56" stroke="#111" stroke-width="0.6" />
<line x1="456.20" y1="595.40" x2="479.90" y2="592.20" stroke="#111" stroke-width="0.6" />
<line x1="456.20" y1="599.88" x2="479.90" y2="594.76" stroke="#111" stroke-width="0.6" />
<line x1="456.20" y1="597.96" x2="479.90" y2="593.48" stroke="#111" stroke-width="0.6" />
<line x1="456.20" y1="594.12" x2="479.90" y2="589.96" stroke="#111" stroke-width="0.6" />
<circle cx="456.20" cy="591.24" r="1.05" fill="#3aaa4a" />
<circle cx="479.90" cy="587.08" r="1.05" fill="#d0202a" />
<circle cx="456.20" cy="597.00" r="1.05" fill="#3aaa4a" />
<circle cx="479.90" cy="591.56" r="1.05" fill="#d0202a" />
<circle cx="456.20" cy="595.40" r="1.05" fill="#3aaa4a" />
<circle cx="479.90" cy="592.20" r="1.05" fill="#d0202a" />
<circle cx="456.20" cy="599.88" r="1.05" fill="#3aaa4a" />
<circle cx="479.90" cy="594.76" r="1.05" fill="#d0202a" />
<circle cx="456.20" cy="597.96" r="1.05" fill="#3aaa4a" />
<circle cx="479.90" cy="593.48" r="1.05" fill="#d0202a" />
<circle cx="456.20" cy="594.12" r="1.05" fill="#3aaa4a" />
<circle cx="479.90" cy="589.96" r="1.05" fill="#d0202a" />
<line x1="456.80" y1="578.80" x2="479.30" y2="578.80" stroke="#333" stroke-width="0.6" />
<text x="468.05" y="578.40" font-size="5.2" text-anchor="middle" fill="#333">****</text>
<text transform="translate(415.90,591.90) rotate(-90)" font-size="5.4" text-anchor="middle" fill="#222" font-weight="bold">MFI</text>
<text x="456.00" y="628.80" font-size="5.0" text-anchor="middle" fill="#333"><tspan font-style="italic">Etv6</tspan><tspan font-size="4.3" dy="-1.7">+/+</tspan></text>
<text x="481.70" y="628.80" font-size="5.0" text-anchor="middle" fill="#333"><tspan font-style="italic">Etv6</tspan><tspan font-size="4.1" dy="-1.7">R355X/+</tspan></text>
<rect x="0.50" y="0.50" width="519.00" height="660.00" fill="none" stroke="#5a5a5a" stroke-width="1.2" />
</svg>
</body></html>
